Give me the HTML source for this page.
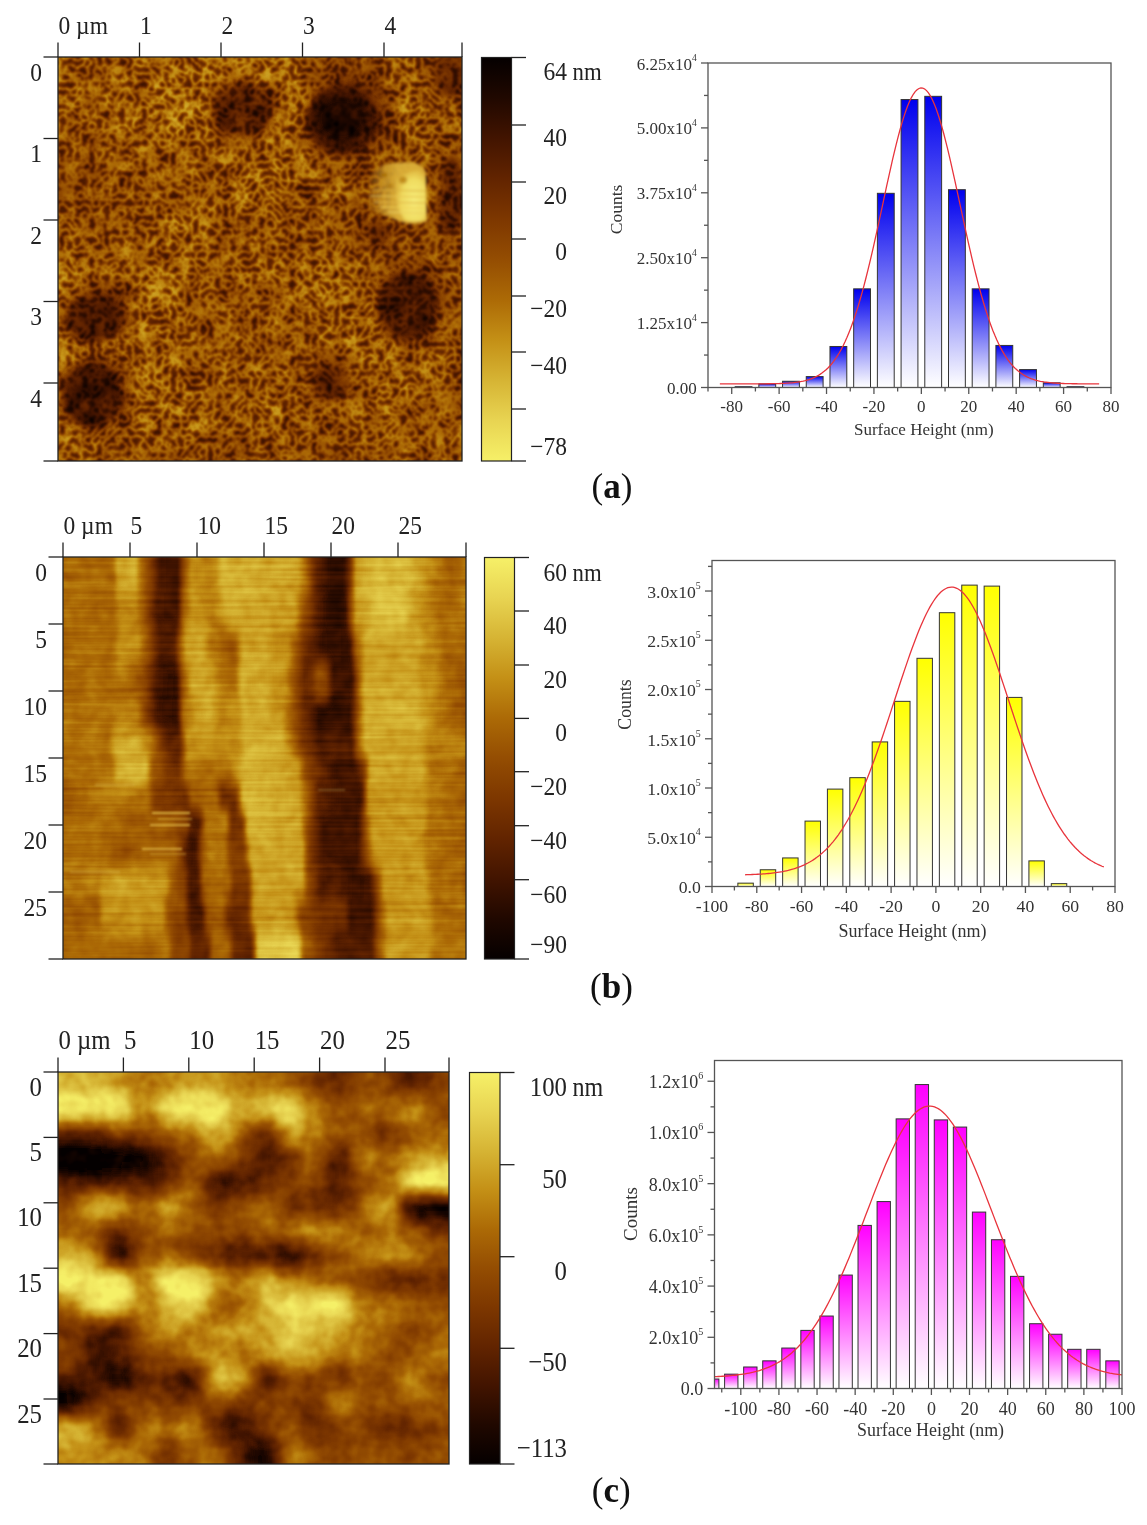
<!DOCTYPE html>
<html><head><meta charset="utf-8"><style>
html,body{margin:0;padding:0;background:#fff;}
body{width:1147px;height:1525px;overflow:hidden;}
svg{display:block;font-family:'Liberation Serif', serif;filter:blur(0.35px);}
</style></head><body>
<svg width="1147" height="1525" viewBox="0 0 1147 1525">
<defs><filter id="fA" filterUnits="userSpaceOnUse" x="56" y="55" width="408" height="408" color-interpolation-filters="sRGB">
<feTurbulence type="turbulence" baseFrequency="0.135" numOctaves="2" seed="5" result="t0"/>
<feColorMatrix in="t0" type="matrix" values="-3.2 0 0 0 1.45  -3.2 0 0 0 1.45  -3.2 0 0 0 1.45  0 0 0 0 1" result="n0a"/>
<feGaussianBlur in="n0a" stdDeviation="1.1" result="n0"/>
<feComposite in="SourceGraphic" in2="n0" operator="arithmetic" k1="0.62" k2="0.38" k3="0" k4="0" result="m0"/>
<feTurbulence type="fractalNoise" baseFrequency="0.06" numOctaves="2" seed="9" result="t1"/>
<feColorMatrix in="t1" type="matrix" values="1.6 0 0 0 -0.30000000000000004  1.6 0 0 0 -0.30000000000000004  1.6 0 0 0 -0.30000000000000004  0 0 0 0 1" result="n1a"/>
<feGaussianBlur in="n1a" stdDeviation="1" result="n1"/>
<feComposite in="m0" in2="n1" operator="arithmetic" k1="0" k2="1" k3="0.18" k4="-0.09" result="m1"/>
<feComponentTransfer in="m1" result="p">
<feFuncR type="table" tableValues="0.0196 0.1255 0.2588 0.3843 0.4902 0.5804 0.6745 0.7686 0.8392 0.9098 0.9647"/>
<feFuncG type="table" tableValues="0.0000 0.0314 0.0784 0.1412 0.2157 0.3020 0.4157 0.5647 0.7059 0.8314 0.9412"/>
<feFuncB type="table" tableValues="0.0000 0.0000 0.0000 0.0000 0.0000 0.0078 0.0235 0.0863 0.2039 0.3216 0.4078"/>
</feComponentTransfer>
<feGaussianBlur in="p" stdDeviation="0.7"/>
</filter><linearGradient id="fAr0" gradientUnits="userSpaceOnUse" x1="58" y1="0" x2="462" y2="0"><stop offset="0.0312" stop-color="#ababab"/><stop offset="0.0938" stop-color="#9e9e9e"/><stop offset="0.1562" stop-color="#ababab"/><stop offset="0.2188" stop-color="#ababab"/><stop offset="0.2812" stop-color="#ababab"/><stop offset="0.3438" stop-color="#b8b8b8"/><stop offset="0.4062" stop-color="#ababab"/><stop offset="0.4688" stop-color="#ababab"/><stop offset="0.5312" stop-color="#b8b8b8"/><stop offset="0.5938" stop-color="#ababab"/><stop offset="0.6562" stop-color="#919191"/><stop offset="0.7188" stop-color="#858585"/><stop offset="0.7812" stop-color="#919191"/><stop offset="0.8438" stop-color="#ababab"/><stop offset="0.9062" stop-color="#9e9e9e"/><stop offset="0.9688" stop-color="#6b6b6b"/></linearGradient><linearGradient id="fAr1" gradientUnits="userSpaceOnUse" x1="58" y1="0" x2="462" y2="0"><stop offset="0.0312" stop-color="#ababab"/><stop offset="0.0938" stop-color="#9e9e9e"/><stop offset="0.1562" stop-color="#ababab"/><stop offset="0.2188" stop-color="#ababab"/><stop offset="0.2812" stop-color="#b8b8b8"/><stop offset="0.3438" stop-color="#c4c4c4"/><stop offset="0.4062" stop-color="#858585"/><stop offset="0.4688" stop-color="#808080"/><stop offset="0.5312" stop-color="#919191"/><stop offset="0.5938" stop-color="#c4c4c4"/><stop offset="0.6562" stop-color="#5e5e5e"/><stop offset="0.7188" stop-color="#454545"/><stop offset="0.7812" stop-color="#5e5e5e"/><stop offset="0.8438" stop-color="#ababab"/><stop offset="0.9062" stop-color="#ababab"/><stop offset="0.9688" stop-color="#919191"/></linearGradient><linearGradient id="fAr2" gradientUnits="userSpaceOnUse" x1="58" y1="0" x2="462" y2="0"><stop offset="0.0312" stop-color="#9e9e9e"/><stop offset="0.0938" stop-color="#9e9e9e"/><stop offset="0.1562" stop-color="#ababab"/><stop offset="0.2188" stop-color="#ababab"/><stop offset="0.2812" stop-color="#b8b8b8"/><stop offset="0.3438" stop-color="#c4c4c4"/><stop offset="0.4062" stop-color="#8a8a8a"/><stop offset="0.4688" stop-color="#8a8a8a"/><stop offset="0.5312" stop-color="#9e9e9e"/><stop offset="0.5938" stop-color="#bdbdbd"/><stop offset="0.6562" stop-color="#525252"/><stop offset="0.7188" stop-color="#3d3d3d"/><stop offset="0.7812" stop-color="#575757"/><stop offset="0.8438" stop-color="#ababab"/><stop offset="0.9062" stop-color="#ababab"/><stop offset="0.9688" stop-color="#9e9e9e"/></linearGradient><linearGradient id="fAr3" gradientUnits="userSpaceOnUse" x1="58" y1="0" x2="462" y2="0"><stop offset="0.0312" stop-color="#9e9e9e"/><stop offset="0.0938" stop-color="#9e9e9e"/><stop offset="0.1562" stop-color="#ababab"/><stop offset="0.2188" stop-color="#9e9e9e"/><stop offset="0.2812" stop-color="#ababab"/><stop offset="0.3438" stop-color="#ababab"/><stop offset="0.4062" stop-color="#9e9e9e"/><stop offset="0.4688" stop-color="#9e9e9e"/><stop offset="0.5312" stop-color="#ababab"/><stop offset="0.5938" stop-color="#ababab"/><stop offset="0.6562" stop-color="#787878"/><stop offset="0.7188" stop-color="#6b6b6b"/><stop offset="0.7812" stop-color="#858585"/><stop offset="0.8438" stop-color="#9e9e9e"/><stop offset="0.9062" stop-color="#ababab"/><stop offset="0.9688" stop-color="#9e9e9e"/></linearGradient><linearGradient id="fAr4" gradientUnits="userSpaceOnUse" x1="58" y1="0" x2="462" y2="0"><stop offset="0.0312" stop-color="#919191"/><stop offset="0.0938" stop-color="#919191"/><stop offset="0.1562" stop-color="#9e9e9e"/><stop offset="0.2188" stop-color="#9e9e9e"/><stop offset="0.2812" stop-color="#9e9e9e"/><stop offset="0.3438" stop-color="#9e9e9e"/><stop offset="0.4062" stop-color="#9e9e9e"/><stop offset="0.4688" stop-color="#ababab"/><stop offset="0.5312" stop-color="#b8b8b8"/><stop offset="0.5938" stop-color="#ababab"/><stop offset="0.6562" stop-color="#9e9e9e"/><stop offset="0.7188" stop-color="#9e9e9e"/><stop offset="0.7812" stop-color="#919191"/><stop offset="0.8438" stop-color="#999999"/><stop offset="0.9062" stop-color="#919191"/><stop offset="0.9688" stop-color="#858585"/></linearGradient><linearGradient id="fAr5" gradientUnits="userSpaceOnUse" x1="58" y1="0" x2="462" y2="0"><stop offset="0.0312" stop-color="#919191"/><stop offset="0.0938" stop-color="#919191"/><stop offset="0.1562" stop-color="#9e9e9e"/><stop offset="0.2188" stop-color="#9e9e9e"/><stop offset="0.2812" stop-color="#9e9e9e"/><stop offset="0.3438" stop-color="#9e9e9e"/><stop offset="0.4062" stop-color="#ababab"/><stop offset="0.4688" stop-color="#b8b8b8"/><stop offset="0.5312" stop-color="#ababab"/><stop offset="0.5938" stop-color="#9e9e9e"/><stop offset="0.6562" stop-color="#9e9e9e"/><stop offset="0.7188" stop-color="#9e9e9e"/><stop offset="0.7812" stop-color="#9e9e9e"/><stop offset="0.8438" stop-color="#9e9e9e"/><stop offset="0.9062" stop-color="#9e9e9e"/><stop offset="0.9688" stop-color="#8a8a8a"/></linearGradient><linearGradient id="fAr6" gradientUnits="userSpaceOnUse" x1="58" y1="0" x2="462" y2="0"><stop offset="0.0312" stop-color="#9e9e9e"/><stop offset="0.0938" stop-color="#919191"/><stop offset="0.1562" stop-color="#9e9e9e"/><stop offset="0.2188" stop-color="#9e9e9e"/><stop offset="0.2812" stop-color="#ababab"/><stop offset="0.3438" stop-color="#b8b8b8"/><stop offset="0.4062" stop-color="#919191"/><stop offset="0.4688" stop-color="#9e9e9e"/><stop offset="0.5312" stop-color="#9e9e9e"/><stop offset="0.5938" stop-color="#9e9e9e"/><stop offset="0.6562" stop-color="#919191"/><stop offset="0.7188" stop-color="#9e9e9e"/><stop offset="0.7812" stop-color="#858585"/><stop offset="0.8438" stop-color="#919191"/><stop offset="0.9062" stop-color="#9e9e9e"/><stop offset="0.9688" stop-color="#8a8a8a"/></linearGradient><linearGradient id="fAr7" gradientUnits="userSpaceOnUse" x1="58" y1="0" x2="462" y2="0"><stop offset="0.0312" stop-color="#ababab"/><stop offset="0.0938" stop-color="#9e9e9e"/><stop offset="0.1562" stop-color="#9e9e9e"/><stop offset="0.2188" stop-color="#ababab"/><stop offset="0.2812" stop-color="#ababab"/><stop offset="0.3438" stop-color="#ababab"/><stop offset="0.4062" stop-color="#9e9e9e"/><stop offset="0.4688" stop-color="#9e9e9e"/><stop offset="0.5312" stop-color="#9e9e9e"/><stop offset="0.5938" stop-color="#9e9e9e"/><stop offset="0.6562" stop-color="#9e9e9e"/><stop offset="0.7188" stop-color="#9e9e9e"/><stop offset="0.7812" stop-color="#858585"/><stop offset="0.8438" stop-color="#919191"/><stop offset="0.9062" stop-color="#9e9e9e"/><stop offset="0.9688" stop-color="#919191"/></linearGradient><linearGradient id="fAr8" gradientUnits="userSpaceOnUse" x1="58" y1="0" x2="462" y2="0"><stop offset="0.0312" stop-color="#b8b8b8"/><stop offset="0.0938" stop-color="#9e9e9e"/><stop offset="0.1562" stop-color="#9e9e9e"/><stop offset="0.2188" stop-color="#b8b8b8"/><stop offset="0.2812" stop-color="#ababab"/><stop offset="0.3438" stop-color="#ababab"/><stop offset="0.4062" stop-color="#9e9e9e"/><stop offset="0.4688" stop-color="#ababab"/><stop offset="0.5312" stop-color="#ababab"/><stop offset="0.5938" stop-color="#ababab"/><stop offset="0.6562" stop-color="#b8b8b8"/><stop offset="0.7188" stop-color="#ababab"/><stop offset="0.7812" stop-color="#9e9e9e"/><stop offset="0.8438" stop-color="#858585"/><stop offset="0.9062" stop-color="#787878"/><stop offset="0.9688" stop-color="#9e9e9e"/></linearGradient><linearGradient id="fAr9" gradientUnits="userSpaceOnUse" x1="58" y1="0" x2="462" y2="0"><stop offset="0.0312" stop-color="#ababab"/><stop offset="0.0938" stop-color="#6b6b6b"/><stop offset="0.1562" stop-color="#787878"/><stop offset="0.2188" stop-color="#b8b8b8"/><stop offset="0.2812" stop-color="#b8b8b8"/><stop offset="0.3438" stop-color="#919191"/><stop offset="0.4062" stop-color="#9e9e9e"/><stop offset="0.4688" stop-color="#9e9e9e"/><stop offset="0.5312" stop-color="#919191"/><stop offset="0.5938" stop-color="#ababab"/><stop offset="0.6562" stop-color="#ababab"/><stop offset="0.7188" stop-color="#ababab"/><stop offset="0.7812" stop-color="#ababab"/><stop offset="0.8438" stop-color="#6b6b6b"/><stop offset="0.9062" stop-color="#5e5e5e"/><stop offset="0.9688" stop-color="#919191"/></linearGradient><linearGradient id="fAr10" gradientUnits="userSpaceOnUse" x1="58" y1="0" x2="462" y2="0"><stop offset="0.0312" stop-color="#9e9e9e"/><stop offset="0.0938" stop-color="#6b6b6b"/><stop offset="0.1562" stop-color="#858585"/><stop offset="0.2188" stop-color="#b8b8b8"/><stop offset="0.2812" stop-color="#ababab"/><stop offset="0.3438" stop-color="#9e9e9e"/><stop offset="0.4062" stop-color="#9e9e9e"/><stop offset="0.4688" stop-color="#9e9e9e"/><stop offset="0.5312" stop-color="#9e9e9e"/><stop offset="0.5938" stop-color="#9e9e9e"/><stop offset="0.6562" stop-color="#ababab"/><stop offset="0.7188" stop-color="#ababab"/><stop offset="0.7812" stop-color="#ababab"/><stop offset="0.8438" stop-color="#787878"/><stop offset="0.9062" stop-color="#6b6b6b"/><stop offset="0.9688" stop-color="#9e9e9e"/></linearGradient><linearGradient id="fAr11" gradientUnits="userSpaceOnUse" x1="58" y1="0" x2="462" y2="0"><stop offset="0.0312" stop-color="#b8b8b8"/><stop offset="0.0938" stop-color="#9e9e9e"/><stop offset="0.1562" stop-color="#ababab"/><stop offset="0.2188" stop-color="#ababab"/><stop offset="0.2812" stop-color="#ababab"/><stop offset="0.3438" stop-color="#9e9e9e"/><stop offset="0.4062" stop-color="#9e9e9e"/><stop offset="0.4688" stop-color="#9e9e9e"/><stop offset="0.5312" stop-color="#919191"/><stop offset="0.5938" stop-color="#9e9e9e"/><stop offset="0.6562" stop-color="#9e9e9e"/><stop offset="0.7188" stop-color="#ababab"/><stop offset="0.7812" stop-color="#ababab"/><stop offset="0.8438" stop-color="#9e9e9e"/><stop offset="0.9062" stop-color="#919191"/><stop offset="0.9688" stop-color="#ababab"/></linearGradient><linearGradient id="fAr12" gradientUnits="userSpaceOnUse" x1="58" y1="0" x2="462" y2="0"><stop offset="0.0312" stop-color="#9e9e9e"/><stop offset="0.0938" stop-color="#6b6b6b"/><stop offset="0.1562" stop-color="#858585"/><stop offset="0.2188" stop-color="#b8b8b8"/><stop offset="0.2812" stop-color="#ababab"/><stop offset="0.3438" stop-color="#9e9e9e"/><stop offset="0.4062" stop-color="#9e9e9e"/><stop offset="0.4688" stop-color="#ababab"/><stop offset="0.5312" stop-color="#ababab"/><stop offset="0.5938" stop-color="#9e9e9e"/><stop offset="0.6562" stop-color="#787878"/><stop offset="0.7188" stop-color="#919191"/><stop offset="0.7812" stop-color="#ababab"/><stop offset="0.8438" stop-color="#ababab"/><stop offset="0.9062" stop-color="#ababab"/><stop offset="0.9688" stop-color="#9e9e9e"/></linearGradient><linearGradient id="fAr13" gradientUnits="userSpaceOnUse" x1="58" y1="0" x2="462" y2="0"><stop offset="0.0312" stop-color="#919191"/><stop offset="0.0938" stop-color="#525252"/><stop offset="0.1562" stop-color="#6b6b6b"/><stop offset="0.2188" stop-color="#b8b8b8"/><stop offset="0.2812" stop-color="#ababab"/><stop offset="0.3438" stop-color="#ababab"/><stop offset="0.4062" stop-color="#9e9e9e"/><stop offset="0.4688" stop-color="#ababab"/><stop offset="0.5312" stop-color="#ababab"/><stop offset="0.5938" stop-color="#9e9e9e"/><stop offset="0.6562" stop-color="#919191"/><stop offset="0.7188" stop-color="#9e9e9e"/><stop offset="0.7812" stop-color="#ababab"/><stop offset="0.8438" stop-color="#ababab"/><stop offset="0.9062" stop-color="#9e9e9e"/><stop offset="0.9688" stop-color="#9e9e9e"/></linearGradient><linearGradient id="fAr14" gradientUnits="userSpaceOnUse" x1="58" y1="0" x2="462" y2="0"><stop offset="0.0312" stop-color="#ababab"/><stop offset="0.0938" stop-color="#919191"/><stop offset="0.1562" stop-color="#9e9e9e"/><stop offset="0.2188" stop-color="#ababab"/><stop offset="0.2812" stop-color="#ababab"/><stop offset="0.3438" stop-color="#ababab"/><stop offset="0.4062" stop-color="#9e9e9e"/><stop offset="0.4688" stop-color="#9e9e9e"/><stop offset="0.5312" stop-color="#ababab"/><stop offset="0.5938" stop-color="#ababab"/><stop offset="0.6562" stop-color="#9e9e9e"/><stop offset="0.7188" stop-color="#9e9e9e"/><stop offset="0.7812" stop-color="#ababab"/><stop offset="0.8438" stop-color="#9e9e9e"/><stop offset="0.9062" stop-color="#9e9e9e"/><stop offset="0.9688" stop-color="#9e9e9e"/></linearGradient><linearGradient id="fAr15" gradientUnits="userSpaceOnUse" x1="58" y1="0" x2="462" y2="0"><stop offset="0.0312" stop-color="#ababab"/><stop offset="0.0938" stop-color="#9e9e9e"/><stop offset="0.1562" stop-color="#9e9e9e"/><stop offset="0.2188" stop-color="#9e9e9e"/><stop offset="0.2812" stop-color="#9e9e9e"/><stop offset="0.3438" stop-color="#9e9e9e"/><stop offset="0.4062" stop-color="#919191"/><stop offset="0.4688" stop-color="#919191"/><stop offset="0.5312" stop-color="#9e9e9e"/><stop offset="0.5938" stop-color="#9e9e9e"/><stop offset="0.6562" stop-color="#919191"/><stop offset="0.7188" stop-color="#919191"/><stop offset="0.7812" stop-color="#9e9e9e"/><stop offset="0.8438" stop-color="#9e9e9e"/><stop offset="0.9062" stop-color="#9e9e9e"/><stop offset="0.9688" stop-color="#9e9e9e"/></linearGradient><clipPath id="fAc"><rect x="58" y="57" width="404" height="404"/></clipPath><filter id="fAL0" filterUnits="userSpaceOnUse" x="-2" y="-3" width="524" height="524"><feGaussianBlur stdDeviation="9"/></filter><filter id="fAL1" filterUnits="userSpaceOnUse" x="-2" y="-3" width="524" height="524"><feGaussianBlur stdDeviation="3.5"/></filter><filter id="bpAf" x="-20%" y="-20%" width="140%" height="140%"><feGaussianBlur stdDeviation="1.7"/></filter><radialGradient id="bpAc" cx="0.6" cy="0.6" r="0.6"><stop offset="0" stop-color="#f8f07c"/><stop offset="0.7" stop-color="#f0dc60"/><stop offset="1" stop-color="#e6c448" stop-opacity="0.6"/></radialGradient><linearGradient id="bpAg" gradientUnits="userSpaceOnUse" x1="366" y1="0" x2="398" y2="0"><stop offset="0" stop-color="#c89420" stop-opacity="0"/><stop offset="0.6" stop-color="#d4a630" stop-opacity="0.75"/><stop offset="1" stop-color="#dcb038" stop-opacity="0.95"/></linearGradient><filter id="fB" filterUnits="userSpaceOnUse" x="61" y="555" width="407" height="406" color-interpolation-filters="sRGB">
<feTurbulence type="fractalNoise" baseFrequency="0.006 0.25" numOctaves="2" seed="11" result="t0"/>
<feColorMatrix in="t0" type="matrix" values="1.5 0 0 0 -0.25  1.5 0 0 0 -0.25  1.5 0 0 0 -0.25  0 0 0 0 1" result="n0a"/>
<feGaussianBlur in="n0a" stdDeviation="0.6" result="n0"/>
<feComposite in="SourceGraphic" in2="n0" operator="arithmetic" k1="0" k2="1" k3="0.1" k4="-0.05" result="m0"/>
<feTurbulence type="fractalNoise" baseFrequency="0.07" numOctaves="2" seed="4" result="t1"/>
<feColorMatrix in="t1" type="matrix" values="1.5 0 0 0 -0.25  1.5 0 0 0 -0.25  1.5 0 0 0 -0.25  0 0 0 0 1" result="n1a"/>
<feGaussianBlur in="n1a" stdDeviation="0.8" result="n1"/>
<feComposite in="m0" in2="n1" operator="arithmetic" k1="0" k2="1" k3="0.1" k4="-0.05" result="m1"/>
<feComponentTransfer in="m1" result="p">
<feFuncR type="table" tableValues="0.0196 0.1255 0.2588 0.3843 0.4902 0.5804 0.6745 0.7686 0.8392 0.9098 0.9647"/>
<feFuncG type="table" tableValues="0.0000 0.0314 0.0784 0.1412 0.2157 0.3020 0.4157 0.5647 0.7059 0.8314 0.9412"/>
<feFuncB type="table" tableValues="0.0000 0.0000 0.0000 0.0000 0.0000 0.0078 0.0235 0.0863 0.2039 0.3216 0.4078"/>
</feComponentTransfer>
<feGaussianBlur in="p" stdDeviation="0.5"/>
</filter><linearGradient id="fBr0" gradientUnits="userSpaceOnUse" x1="63" y1="0" x2="466" y2="0"><stop offset="0.0000" stop-color="#999999"/><stop offset="0.1266" stop-color="#999999"/><stop offset="0.1365" stop-color="#bfbfbf"/><stop offset="0.1787" stop-color="#c7c7c7"/><stop offset="0.1911" stop-color="#9e9e9e"/><stop offset="0.2159" stop-color="#737373"/><stop offset="0.2407" stop-color="#383838"/><stop offset="0.2854" stop-color="#333333"/><stop offset="0.3002" stop-color="#808080"/><stop offset="0.3201" stop-color="#b8b8b8"/><stop offset="0.3524" stop-color="#a6a6a6"/><stop offset="0.3797" stop-color="#b2b2b2"/><stop offset="0.3945" stop-color="#cccccc"/><stop offset="0.4938" stop-color="#c7c7c7"/><stop offset="0.5831" stop-color="#bfbfbf"/><stop offset="0.6030" stop-color="#999999"/><stop offset="0.6228" stop-color="#595959"/><stop offset="0.6625" stop-color="#262626"/><stop offset="0.6973" stop-color="#262626"/><stop offset="0.7122" stop-color="#595959"/><stop offset="0.7270" stop-color="#b8b8b8"/><stop offset="0.7816" stop-color="#cccccc"/><stop offset="0.8561" stop-color="#cccccc"/><stop offset="0.8859" stop-color="#b8b8b8"/><stop offset="0.9355" stop-color="#999999"/><stop offset="0.9653" stop-color="#8c8c8c"/><stop offset="1.0000" stop-color="#999999"/></linearGradient><linearGradient id="fBr1" gradientUnits="userSpaceOnUse" x1="63" y1="0" x2="466" y2="0"><stop offset="0.0000" stop-color="#999999"/><stop offset="0.0868" stop-color="#949494"/><stop offset="0.1216" stop-color="#8c8c8c"/><stop offset="0.1414" stop-color="#a8a8a8"/><stop offset="0.1811" stop-color="#a8a8a8"/><stop offset="0.2035" stop-color="#808080"/><stop offset="0.2333" stop-color="#383838"/><stop offset="0.2854" stop-color="#333333"/><stop offset="0.2978" stop-color="#8c8c8c"/><stop offset="0.3201" stop-color="#b8b8b8"/><stop offset="0.3499" stop-color="#adadad"/><stop offset="0.3747" stop-color="#a6a6a6"/><stop offset="0.4045" stop-color="#c7c7c7"/><stop offset="0.4938" stop-color="#bfbfbf"/><stop offset="0.5757" stop-color="#b8b8b8"/><stop offset="0.5931" stop-color="#8c8c8c"/><stop offset="0.6278" stop-color="#4c4c4c"/><stop offset="0.6526" stop-color="#262626"/><stop offset="0.7022" stop-color="#262626"/><stop offset="0.7122" stop-color="#737373"/><stop offset="0.7270" stop-color="#bfbfbf"/><stop offset="0.7866" stop-color="#d9d9d9"/><stop offset="0.8462" stop-color="#d9d9d9"/><stop offset="0.8734" stop-color="#b8b8b8"/><stop offset="0.9107" stop-color="#a6a6a6"/><stop offset="0.9355" stop-color="#949494"/><stop offset="0.9727" stop-color="#999999"/><stop offset="1.0000" stop-color="#a6a6a6"/></linearGradient><linearGradient id="fBr2" gradientUnits="userSpaceOnUse" x1="63" y1="0" x2="466" y2="0"><stop offset="0.0000" stop-color="#999999"/><stop offset="0.1266" stop-color="#999999"/><stop offset="0.1414" stop-color="#b2b2b2"/><stop offset="0.1861" stop-color="#b2b2b2"/><stop offset="0.2109" stop-color="#808080"/><stop offset="0.2407" stop-color="#404040"/><stop offset="0.2779" stop-color="#404040"/><stop offset="0.2903" stop-color="#808080"/><stop offset="0.3077" stop-color="#c7c7c7"/><stop offset="0.3400" stop-color="#c7c7c7"/><stop offset="0.3648" stop-color="#a6a6a6"/><stop offset="0.3945" stop-color="#8c8c8c"/><stop offset="0.4268" stop-color="#8c8c8c"/><stop offset="0.4491" stop-color="#c7c7c7"/><stop offset="0.5583" stop-color="#b2b2b2"/><stop offset="0.5782" stop-color="#8c8c8c"/><stop offset="0.6005" stop-color="#595959"/><stop offset="0.6427" stop-color="#2e2e2e"/><stop offset="0.7122" stop-color="#262626"/><stop offset="0.7270" stop-color="#8c8c8c"/><stop offset="0.7519" stop-color="#bfbfbf"/><stop offset="0.8809" stop-color="#bfbfbf"/><stop offset="0.9057" stop-color="#adadad"/><stop offset="0.9479" stop-color="#999999"/><stop offset="1.0000" stop-color="#999999"/></linearGradient><linearGradient id="fBr3" gradientUnits="userSpaceOnUse" x1="63" y1="0" x2="466" y2="0"><stop offset="0.0000" stop-color="#949494"/><stop offset="0.1266" stop-color="#999999"/><stop offset="0.1464" stop-color="#9e9e9e"/><stop offset="0.1762" stop-color="#8c8c8c"/><stop offset="0.2035" stop-color="#737373"/><stop offset="0.2357" stop-color="#333333"/><stop offset="0.2829" stop-color="#262626"/><stop offset="0.2953" stop-color="#808080"/><stop offset="0.3201" stop-color="#bfbfbf"/><stop offset="0.3697" stop-color="#bfbfbf"/><stop offset="0.3945" stop-color="#999999"/><stop offset="0.4293" stop-color="#999999"/><stop offset="0.4442" stop-color="#cccccc"/><stop offset="0.5509" stop-color="#b2b2b2"/><stop offset="0.5757" stop-color="#808080"/><stop offset="0.6005" stop-color="#4c4c4c"/><stop offset="0.6154" stop-color="#595959"/><stop offset="0.6328" stop-color="#808080"/><stop offset="0.6526" stop-color="#737373"/><stop offset="0.6700" stop-color="#333333"/><stop offset="0.7171" stop-color="#333333"/><stop offset="0.7320" stop-color="#808080"/><stop offset="0.7494" stop-color="#bfbfbf"/><stop offset="0.8809" stop-color="#bfbfbf"/><stop offset="0.9057" stop-color="#b2b2b2"/><stop offset="0.9479" stop-color="#999999"/><stop offset="1.0000" stop-color="#808080"/></linearGradient><linearGradient id="fBr4" gradientUnits="userSpaceOnUse" x1="63" y1="0" x2="466" y2="0"><stop offset="0.0000" stop-color="#999999"/><stop offset="0.1266" stop-color="#9e9e9e"/><stop offset="0.1464" stop-color="#a6a6a6"/><stop offset="0.1861" stop-color="#9e9e9e"/><stop offset="0.2035" stop-color="#737373"/><stop offset="0.2357" stop-color="#2e2e2e"/><stop offset="0.2854" stop-color="#262626"/><stop offset="0.2978" stop-color="#999999"/><stop offset="0.3300" stop-color="#bfbfbf"/><stop offset="0.3648" stop-color="#c7c7c7"/><stop offset="0.3896" stop-color="#b2b2b2"/><stop offset="0.4342" stop-color="#b8b8b8"/><stop offset="0.4516" stop-color="#cccccc"/><stop offset="0.5434" stop-color="#b8b8b8"/><stop offset="0.5682" stop-color="#8c8c8c"/><stop offset="0.5931" stop-color="#666666"/><stop offset="0.6328" stop-color="#262626"/><stop offset="0.7122" stop-color="#262626"/><stop offset="0.7320" stop-color="#808080"/><stop offset="0.7519" stop-color="#c7c7c7"/><stop offset="0.8809" stop-color="#c7c7c7"/><stop offset="0.9057" stop-color="#b2b2b2"/><stop offset="0.9479" stop-color="#999999"/><stop offset="1.0000" stop-color="#808080"/></linearGradient><linearGradient id="fBr5" gradientUnits="userSpaceOnUse" x1="63" y1="0" x2="466" y2="0"><stop offset="0.0000" stop-color="#999999"/><stop offset="0.1117" stop-color="#999999"/><stop offset="0.1290" stop-color="#b8b8b8"/><stop offset="0.1787" stop-color="#c7c7c7"/><stop offset="0.2159" stop-color="#a6a6a6"/><stop offset="0.2357" stop-color="#808080"/><stop offset="0.2605" stop-color="#4c4c4c"/><stop offset="0.2903" stop-color="#4c4c4c"/><stop offset="0.3077" stop-color="#b2b2b2"/><stop offset="0.4342" stop-color="#b2b2b2"/><stop offset="0.4541" stop-color="#cccccc"/><stop offset="0.5087" stop-color="#cccccc"/><stop offset="0.5459" stop-color="#c7c7c7"/><stop offset="0.5682" stop-color="#999999"/><stop offset="0.5931" stop-color="#666666"/><stop offset="0.6377" stop-color="#404040"/><stop offset="0.7171" stop-color="#404040"/><stop offset="0.7320" stop-color="#8c8c8c"/><stop offset="0.7519" stop-color="#bfbfbf"/><stop offset="0.8809" stop-color="#bfbfbf"/><stop offset="0.9107" stop-color="#a6a6a6"/><stop offset="1.0000" stop-color="#a6a6a6"/></linearGradient><linearGradient id="fBr6" gradientUnits="userSpaceOnUse" x1="63" y1="0" x2="466" y2="0"><stop offset="0.0000" stop-color="#9e9e9e"/><stop offset="0.1216" stop-color="#9e9e9e"/><stop offset="0.1365" stop-color="#d1d1d1"/><stop offset="0.2060" stop-color="#d1d1d1"/><stop offset="0.2208" stop-color="#8c8c8c"/><stop offset="0.2605" stop-color="#666666"/><stop offset="0.2854" stop-color="#595959"/><stop offset="0.3052" stop-color="#999999"/><stop offset="0.4144" stop-color="#999999"/><stop offset="0.4392" stop-color="#bfbfbf"/><stop offset="0.4541" stop-color="#cccccc"/><stop offset="0.4938" stop-color="#c7c7c7"/><stop offset="0.5831" stop-color="#bfbfbf"/><stop offset="0.6005" stop-color="#808080"/><stop offset="0.6427" stop-color="#4c4c4c"/><stop offset="0.6774" stop-color="#333333"/><stop offset="0.7320" stop-color="#333333"/><stop offset="0.7469" stop-color="#595959"/><stop offset="0.7618" stop-color="#bfbfbf"/><stop offset="0.8908" stop-color="#bfbfbf"/><stop offset="0.9107" stop-color="#9e9e9e"/><stop offset="0.9653" stop-color="#999999"/><stop offset="1.0000" stop-color="#8c8c8c"/></linearGradient><linearGradient id="fBr7" gradientUnits="userSpaceOnUse" x1="63" y1="0" x2="466" y2="0"><stop offset="0.0000" stop-color="#808080"/><stop offset="0.0521" stop-color="#8c8c8c"/><stop offset="0.0670" stop-color="#a6a6a6"/><stop offset="0.1514" stop-color="#a6a6a6"/><stop offset="0.1663" stop-color="#999999"/><stop offset="0.2109" stop-color="#999999"/><stop offset="0.2283" stop-color="#666666"/><stop offset="0.2903" stop-color="#616161"/><stop offset="0.3052" stop-color="#4c4c4c"/><stop offset="0.3201" stop-color="#8c8c8c"/><stop offset="0.3797" stop-color="#8c8c8c"/><stop offset="0.3945" stop-color="#4c4c4c"/><stop offset="0.4293" stop-color="#4c4c4c"/><stop offset="0.4467" stop-color="#d1d1d1"/><stop offset="0.5831" stop-color="#bfbfbf"/><stop offset="0.6005" stop-color="#999999"/><stop offset="0.6328" stop-color="#4c4c4c"/><stop offset="0.6923" stop-color="#333333"/><stop offset="0.7419" stop-color="#333333"/><stop offset="0.7568" stop-color="#b8b8b8"/><stop offset="0.8908" stop-color="#b8b8b8"/><stop offset="0.9107" stop-color="#a6a6a6"/><stop offset="0.9653" stop-color="#999999"/><stop offset="1.0000" stop-color="#8c8c8c"/></linearGradient><linearGradient id="fBr8" gradientUnits="userSpaceOnUse" x1="63" y1="0" x2="466" y2="0"><stop offset="0.0000" stop-color="#999999"/><stop offset="0.1365" stop-color="#999999"/><stop offset="0.1538" stop-color="#8c8c8c"/><stop offset="0.2159" stop-color="#8c8c8c"/><stop offset="0.2407" stop-color="#8c8c8c"/><stop offset="0.3052" stop-color="#737373"/><stop offset="0.3176" stop-color="#383838"/><stop offset="0.3375" stop-color="#383838"/><stop offset="0.3548" stop-color="#9e9e9e"/><stop offset="0.4045" stop-color="#a6a6a6"/><stop offset="0.4194" stop-color="#595959"/><stop offset="0.4442" stop-color="#595959"/><stop offset="0.4591" stop-color="#cccccc"/><stop offset="0.5881" stop-color="#bfbfbf"/><stop offset="0.6079" stop-color="#737373"/><stop offset="0.6427" stop-color="#333333"/><stop offset="0.7320" stop-color="#333333"/><stop offset="0.7494" stop-color="#808080"/><stop offset="0.7667" stop-color="#b8b8b8"/><stop offset="0.8908" stop-color="#b8b8b8"/><stop offset="0.9107" stop-color="#999999"/><stop offset="0.9653" stop-color="#999999"/><stop offset="1.0000" stop-color="#8c8c8c"/></linearGradient><linearGradient id="fBr9" gradientUnits="userSpaceOnUse" x1="63" y1="0" x2="466" y2="0"><stop offset="0.0000" stop-color="#999999"/><stop offset="0.1117" stop-color="#999999"/><stop offset="0.1266" stop-color="#808080"/><stop offset="0.1613" stop-color="#808080"/><stop offset="0.1762" stop-color="#8c8c8c"/><stop offset="0.2754" stop-color="#8c8c8c"/><stop offset="0.2953" stop-color="#595959"/><stop offset="0.3102" stop-color="#333333"/><stop offset="0.3300" stop-color="#383838"/><stop offset="0.3449" stop-color="#808080"/><stop offset="0.3648" stop-color="#a6a6a6"/><stop offset="0.3995" stop-color="#9e9e9e"/><stop offset="0.4144" stop-color="#737373"/><stop offset="0.4491" stop-color="#737373"/><stop offset="0.4665" stop-color="#c7c7c7"/><stop offset="0.5931" stop-color="#bfbfbf"/><stop offset="0.6079" stop-color="#737373"/><stop offset="0.6427" stop-color="#333333"/><stop offset="0.7320" stop-color="#333333"/><stop offset="0.7519" stop-color="#808080"/><stop offset="0.7717" stop-color="#b8b8b8"/><stop offset="0.8908" stop-color="#b8b8b8"/><stop offset="0.9107" stop-color="#999999"/><stop offset="0.9653" stop-color="#949494"/><stop offset="1.0000" stop-color="#8c8c8c"/></linearGradient><linearGradient id="fBr10" gradientUnits="userSpaceOnUse" x1="63" y1="0" x2="466" y2="0"><stop offset="0.0000" stop-color="#9e9e9e"/><stop offset="0.0868" stop-color="#9e9e9e"/><stop offset="0.1017" stop-color="#b8b8b8"/><stop offset="0.2556" stop-color="#b8b8b8"/><stop offset="0.2705" stop-color="#8c8c8c"/><stop offset="0.3002" stop-color="#737373"/><stop offset="0.3151" stop-color="#383838"/><stop offset="0.3350" stop-color="#383838"/><stop offset="0.3499" stop-color="#949494"/><stop offset="0.4094" stop-color="#999999"/><stop offset="0.4243" stop-color="#666666"/><stop offset="0.4591" stop-color="#666666"/><stop offset="0.4739" stop-color="#bfbfbf"/><stop offset="0.5931" stop-color="#bfbfbf"/><stop offset="0.6079" stop-color="#808080"/><stop offset="0.6427" stop-color="#404040"/><stop offset="0.6998" stop-color="#383838"/><stop offset="0.7419" stop-color="#2e2e2e"/><stop offset="0.7618" stop-color="#333333"/><stop offset="0.7767" stop-color="#666666"/><stop offset="0.7965" stop-color="#b8b8b8"/><stop offset="0.8958" stop-color="#b8b8b8"/><stop offset="0.9156" stop-color="#999999"/><stop offset="0.9851" stop-color="#999999"/><stop offset="1.0000" stop-color="#8c8c8c"/></linearGradient><linearGradient id="fBr11" gradientUnits="userSpaceOnUse" x1="63" y1="0" x2="466" y2="0"><stop offset="0.0000" stop-color="#8c8c8c"/><stop offset="0.0868" stop-color="#8c8c8c"/><stop offset="0.1017" stop-color="#b2b2b2"/><stop offset="0.2457" stop-color="#b2b2b2"/><stop offset="0.2605" stop-color="#808080"/><stop offset="0.3002" stop-color="#737373"/><stop offset="0.3151" stop-color="#383838"/><stop offset="0.3449" stop-color="#383838"/><stop offset="0.3598" stop-color="#8c8c8c"/><stop offset="0.3945" stop-color="#8c8c8c"/><stop offset="0.4094" stop-color="#595959"/><stop offset="0.4591" stop-color="#595959"/><stop offset="0.4739" stop-color="#b2b2b2"/><stop offset="0.4988" stop-color="#b8b8b8"/><stop offset="0.5682" stop-color="#b2b2b2"/><stop offset="0.5881" stop-color="#737373"/><stop offset="0.6129" stop-color="#666666"/><stop offset="0.6998" stop-color="#595959"/><stop offset="0.7122" stop-color="#333333"/><stop offset="0.7667" stop-color="#333333"/><stop offset="0.7816" stop-color="#737373"/><stop offset="0.8065" stop-color="#b8b8b8"/><stop offset="0.9057" stop-color="#b8b8b8"/><stop offset="0.9256" stop-color="#999999"/><stop offset="1.0000" stop-color="#999999"/></linearGradient><linearGradient id="fBr12" gradientUnits="userSpaceOnUse" x1="63" y1="0" x2="466" y2="0"><stop offset="0.0000" stop-color="#999999"/><stop offset="0.2605" stop-color="#999999"/><stop offset="0.2754" stop-color="#737373"/><stop offset="0.3102" stop-color="#737373"/><stop offset="0.3201" stop-color="#4c4c4c"/><stop offset="0.3598" stop-color="#4c4c4c"/><stop offset="0.3722" stop-color="#8c8c8c"/><stop offset="0.4094" stop-color="#8c8c8c"/><stop offset="0.4243" stop-color="#4c4c4c"/><stop offset="0.4690" stop-color="#4c4c4c"/><stop offset="0.4839" stop-color="#d1d1d1"/><stop offset="0.5831" stop-color="#e0e0e0"/><stop offset="0.5980" stop-color="#8c8c8c"/><stop offset="0.6377" stop-color="#666666"/><stop offset="0.6824" stop-color="#404040"/><stop offset="0.7667" stop-color="#404040"/><stop offset="0.7816" stop-color="#808080"/><stop offset="0.8065" stop-color="#b8b8b8"/><stop offset="0.9057" stop-color="#b8b8b8"/><stop offset="0.9256" stop-color="#9e9e9e"/><stop offset="1.0000" stop-color="#9e9e9e"/></linearGradient><clipPath id="fBc"><rect x="63" y="557" width="403" height="402"/></clipPath><filter id="fBL0" filterUnits="userSpaceOnUse" x="3" y="497" width="523" height="522"><feGaussianBlur stdDeviation="1.5 8"/></filter><filter id="bsBf" x="-20%" y="-50%" width="140%" height="200%"><feGaussianBlur stdDeviation="1.0 0.8"/></filter><filter id="fC" filterUnits="userSpaceOnUse" x="56" y="1070" width="395" height="396" color-interpolation-filters="sRGB">
<feTurbulence type="fractalNoise" baseFrequency="0.08" numOctaves="2" seed="5" result="t0"/>
<feColorMatrix in="t0" type="matrix" values="1.5 0 0 0 -0.25  1.5 0 0 0 -0.25  1.5 0 0 0 -0.25  0 0 0 0 1" result="n0a"/>
<feGaussianBlur in="n0a" stdDeviation="0.8" result="n0"/>
<feComposite in="SourceGraphic" in2="n0" operator="arithmetic" k1="0" k2="1" k3="0.15" k4="-0.075" result="m0"/>
<feComponentTransfer in="m0" result="p">
<feFuncR type="table" tableValues="0.0196 0.1255 0.2588 0.3843 0.4902 0.5804 0.6745 0.7686 0.8392 0.9098 0.9647"/>
<feFuncG type="table" tableValues="0.0000 0.0314 0.0784 0.1412 0.2157 0.3020 0.4157 0.5647 0.7059 0.8314 0.9412"/>
<feFuncB type="table" tableValues="0.0000 0.0000 0.0000 0.0000 0.0000 0.0078 0.0235 0.0863 0.2039 0.3216 0.4078"/>
</feComponentTransfer>
<feGaussianBlur in="p" stdDeviation="0.6"/>
</filter><linearGradient id="fCs0" gradientUnits="userSpaceOnUse" x1="58" y1="0" x2="449" y2="0"><stop offset="0.0156" stop-color="#cccccc"/><stop offset="0.0469" stop-color="#cccccc"/><stop offset="0.0781" stop-color="#cecece"/><stop offset="0.1094" stop-color="#cacaca"/><stop offset="0.1406" stop-color="#c0c0c0"/><stop offset="0.1719" stop-color="#b3b3b3"/><stop offset="0.2031" stop-color="#a4a4a4"/><stop offset="0.2344" stop-color="#9f9f9f"/><stop offset="0.2656" stop-color="#a7a7a7"/><stop offset="0.2969" stop-color="#afafaf"/><stop offset="0.3281" stop-color="#b8b8b8"/><stop offset="0.3594" stop-color="#bcbcbc"/><stop offset="0.3906" stop-color="#bdbdbd"/><stop offset="0.4219" stop-color="#b5b5b5"/><stop offset="0.4531" stop-color="#a3a3a3"/><stop offset="0.4844" stop-color="#9b9b9b"/><stop offset="0.5156" stop-color="#9c9c9c"/><stop offset="0.5469" stop-color="#989898"/><stop offset="0.5781" stop-color="#8e8e8e"/><stop offset="0.6094" stop-color="#828282"/><stop offset="0.6406" stop-color="#747474"/><stop offset="0.6719" stop-color="#626262"/><stop offset="0.7031" stop-color="#4e4e4e"/><stop offset="0.7344" stop-color="#545454"/><stop offset="0.7656" stop-color="#757575"/><stop offset="0.7969" stop-color="#808080"/><stop offset="0.8281" stop-color="#767676"/><stop offset="0.8594" stop-color="#606060"/><stop offset="0.8906" stop-color="#3e3e3e"/><stop offset="0.9219" stop-color="#3f3f3f"/><stop offset="0.9531" stop-color="#626262"/><stop offset="0.9844" stop-color="#727272"/></linearGradient><linearGradient id="fCs1" gradientUnits="userSpaceOnUse" x1="58" y1="0" x2="449" y2="0"><stop offset="0.0156" stop-color="#cfcfcf"/><stop offset="0.0469" stop-color="#d0d0d0"/><stop offset="0.0781" stop-color="#d0d0d0"/><stop offset="0.1094" stop-color="#cdcdcd"/><stop offset="0.1406" stop-color="#c5c5c5"/><stop offset="0.1719" stop-color="#b7b7b7"/><stop offset="0.2031" stop-color="#a4a4a4"/><stop offset="0.2344" stop-color="#a0a0a0"/><stop offset="0.2656" stop-color="#aaaaaa"/><stop offset="0.2969" stop-color="#b4b4b4"/><stop offset="0.3281" stop-color="#bcbcbc"/><stop offset="0.3594" stop-color="#c1c1c1"/><stop offset="0.3906" stop-color="#c2c2c2"/><stop offset="0.4219" stop-color="#b9b9b9"/><stop offset="0.4531" stop-color="#a6a6a6"/><stop offset="0.4844" stop-color="#9e9e9e"/><stop offset="0.5156" stop-color="#a0a0a0"/><stop offset="0.5469" stop-color="#9d9d9d"/><stop offset="0.5781" stop-color="#959595"/><stop offset="0.6094" stop-color="#898989"/><stop offset="0.6406" stop-color="#787878"/><stop offset="0.6719" stop-color="#666666"/><stop offset="0.7031" stop-color="#525252"/><stop offset="0.7344" stop-color="#585858"/><stop offset="0.7656" stop-color="#767676"/><stop offset="0.7969" stop-color="#818181"/><stop offset="0.8281" stop-color="#777777"/><stop offset="0.8594" stop-color="#646464"/><stop offset="0.8906" stop-color="#464646"/><stop offset="0.9219" stop-color="#464646"/><stop offset="0.9531" stop-color="#656565"/><stop offset="0.9844" stop-color="#737373"/></linearGradient><linearGradient id="fCs2" gradientUnits="userSpaceOnUse" x1="58" y1="0" x2="449" y2="0"><stop offset="0.0156" stop-color="#e4e4e4"/><stop offset="0.0469" stop-color="#e3e3e3"/><stop offset="0.0781" stop-color="#e0e0e0"/><stop offset="0.1094" stop-color="#dedede"/><stop offset="0.1406" stop-color="#dddddd"/><stop offset="0.1719" stop-color="#cbcbcb"/><stop offset="0.2031" stop-color="#a9a9a9"/><stop offset="0.2344" stop-color="#a4a4a4"/><stop offset="0.2656" stop-color="#bcbcbc"/><stop offset="0.2969" stop-color="#cccccc"/><stop offset="0.3281" stop-color="#d3d3d3"/><stop offset="0.3594" stop-color="#d7d7d7"/><stop offset="0.3906" stop-color="#d8d8d8"/><stop offset="0.4219" stop-color="#cbcbcb"/><stop offset="0.4531" stop-color="#b2b2b2"/><stop offset="0.4844" stop-color="#aaaaaa"/><stop offset="0.5156" stop-color="#b3b3b3"/><stop offset="0.5469" stop-color="#b6b6b6"/><stop offset="0.5781" stop-color="#b3b3b3"/><stop offset="0.6094" stop-color="#a4a4a4"/><stop offset="0.6406" stop-color="#898989"/><stop offset="0.6719" stop-color="#737373"/><stop offset="0.7031" stop-color="#606060"/><stop offset="0.7344" stop-color="#646464"/><stop offset="0.7656" stop-color="#7d7d7d"/><stop offset="0.7969" stop-color="#868686"/><stop offset="0.8281" stop-color="#7f7f7f"/><stop offset="0.8594" stop-color="#757575"/><stop offset="0.8906" stop-color="#666666"/><stop offset="0.9219" stop-color="#646464"/><stop offset="0.9531" stop-color="#707070"/><stop offset="0.9844" stop-color="#757575"/></linearGradient><linearGradient id="fCs3" gradientUnits="userSpaceOnUse" x1="58" y1="0" x2="449" y2="0"><stop offset="0.0156" stop-color="#ffffff"/><stop offset="0.0469" stop-color="#fbfbfb"/><stop offset="0.0781" stop-color="#f4f4f4"/><stop offset="0.1094" stop-color="#f4f4f4"/><stop offset="0.1406" stop-color="#fbfbfb"/><stop offset="0.1719" stop-color="#e5e5e5"/><stop offset="0.2031" stop-color="#b0b0b0"/><stop offset="0.2344" stop-color="#aaaaaa"/><stop offset="0.2656" stop-color="#d3d3d3"/><stop offset="0.2969" stop-color="#ebebeb"/><stop offset="0.3281" stop-color="#f2f2f2"/><stop offset="0.3594" stop-color="#f5f5f5"/><stop offset="0.3906" stop-color="#f5f5f5"/><stop offset="0.4219" stop-color="#e4e4e4"/><stop offset="0.4531" stop-color="#c3c3c3"/><stop offset="0.4844" stop-color="#bababa"/><stop offset="0.5156" stop-color="#cbcbcb"/><stop offset="0.5469" stop-color="#d6d6d6"/><stop offset="0.5781" stop-color="#dbdbdb"/><stop offset="0.6094" stop-color="#c9c9c9"/><stop offset="0.6406" stop-color="#a2a2a2"/><stop offset="0.6719" stop-color="#858585"/><stop offset="0.7031" stop-color="#747474"/><stop offset="0.7344" stop-color="#757575"/><stop offset="0.7656" stop-color="#868686"/><stop offset="0.7969" stop-color="#8d8d8d"/><stop offset="0.8281" stop-color="#8a8a8a"/><stop offset="0.8594" stop-color="#8b8b8b"/><stop offset="0.8906" stop-color="#919191"/><stop offset="0.9219" stop-color="#8c8c8c"/><stop offset="0.9531" stop-color="#7e7e7e"/><stop offset="0.9844" stop-color="#787878"/></linearGradient><linearGradient id="fCs4" gradientUnits="userSpaceOnUse" x1="58" y1="0" x2="449" y2="0"><stop offset="0.0156" stop-color="#ffffff"/><stop offset="0.0469" stop-color="#fbfbfb"/><stop offset="0.0781" stop-color="#f1f1f1"/><stop offset="0.1094" stop-color="#f3f3f3"/><stop offset="0.1406" stop-color="#ffffff"/><stop offset="0.1719" stop-color="#ebebeb"/><stop offset="0.2031" stop-color="#aeaeae"/><stop offset="0.2344" stop-color="#a8a8a8"/><stop offset="0.2656" stop-color="#dcdcdc"/><stop offset="0.2969" stop-color="#f8f8f8"/><stop offset="0.3281" stop-color="#fefefe"/><stop offset="0.3594" stop-color="#ffffff"/><stop offset="0.3906" stop-color="#ffffff"/><stop offset="0.4219" stop-color="#f1f1f1"/><stop offset="0.4531" stop-color="#cacaca"/><stop offset="0.4844" stop-color="#bfbfbf"/><stop offset="0.5156" stop-color="#d1d1d1"/><stop offset="0.5469" stop-color="#e1e1e1"/><stop offset="0.5781" stop-color="#f1f1f1"/><stop offset="0.6094" stop-color="#e1e1e1"/><stop offset="0.6406" stop-color="#b2b2b2"/><stop offset="0.6719" stop-color="#939393"/><stop offset="0.7031" stop-color="#838383"/><stop offset="0.7344" stop-color="#808080"/><stop offset="0.7656" stop-color="#8b8b8b"/><stop offset="0.7969" stop-color="#909090"/><stop offset="0.8281" stop-color="#8e8e8e"/><stop offset="0.8594" stop-color="#979797"/><stop offset="0.8906" stop-color="#acacac"/><stop offset="0.9219" stop-color="#a8a8a8"/><stop offset="0.9531" stop-color="#8a8a8a"/><stop offset="0.9844" stop-color="#7c7c7c"/></linearGradient><linearGradient id="fCs5" gradientUnits="userSpaceOnUse" x1="58" y1="0" x2="449" y2="0"><stop offset="0.0156" stop-color="#d3d3d3"/><stop offset="0.0469" stop-color="#cfcfcf"/><stop offset="0.0781" stop-color="#c7c7c7"/><stop offset="0.1094" stop-color="#cbcbcb"/><stop offset="0.1406" stop-color="#dddddd"/><stop offset="0.1719" stop-color="#cfcfcf"/><stop offset="0.2031" stop-color="#9f9f9f"/><stop offset="0.2344" stop-color="#9d9d9d"/><stop offset="0.2656" stop-color="#cacaca"/><stop offset="0.2969" stop-color="#e2e2e2"/><stop offset="0.3281" stop-color="#e6e6e6"/><stop offset="0.3594" stop-color="#eeeeee"/><stop offset="0.3906" stop-color="#fafafa"/><stop offset="0.4219" stop-color="#ebebeb"/><stop offset="0.4531" stop-color="#c3c3c3"/><stop offset="0.4844" stop-color="#afafaf"/><stop offset="0.5156" stop-color="#afafaf"/><stop offset="0.5469" stop-color="#c2c2c2"/><stop offset="0.5781" stop-color="#e6e6e6"/><stop offset="0.6094" stop-color="#e1e1e1"/><stop offset="0.6406" stop-color="#b6b6b6"/><stop offset="0.6719" stop-color="#989898"/><stop offset="0.7031" stop-color="#898989"/><stop offset="0.7344" stop-color="#858585"/><stop offset="0.7656" stop-color="#8a8a8a"/><stop offset="0.7969" stop-color="#888888"/><stop offset="0.8281" stop-color="#818181"/><stop offset="0.8594" stop-color="#8b8b8b"/><stop offset="0.8906" stop-color="#a7a7a7"/><stop offset="0.9219" stop-color="#a8a8a8"/><stop offset="0.9531" stop-color="#8d8d8d"/><stop offset="0.9844" stop-color="#818181"/></linearGradient><linearGradient id="fCs6" gradientUnits="userSpaceOnUse" x1="58" y1="0" x2="449" y2="0"><stop offset="0.0156" stop-color="#8d8d8d"/><stop offset="0.0469" stop-color="#8b8b8b"/><stop offset="0.0781" stop-color="#868686"/><stop offset="0.1094" stop-color="#8e8e8e"/><stop offset="0.1406" stop-color="#a1a1a1"/><stop offset="0.1719" stop-color="#9f9f9f"/><stop offset="0.2031" stop-color="#898989"/><stop offset="0.2344" stop-color="#8c8c8c"/><stop offset="0.2656" stop-color="#a9a9a9"/><stop offset="0.2969" stop-color="#b9b9b9"/><stop offset="0.3281" stop-color="#bcbcbc"/><stop offset="0.3594" stop-color="#cacaca"/><stop offset="0.3906" stop-color="#e2e2e2"/><stop offset="0.4219" stop-color="#dadada"/><stop offset="0.4531" stop-color="#b2b2b2"/><stop offset="0.4844" stop-color="#939393"/><stop offset="0.5156" stop-color="#7b7b7b"/><stop offset="0.5469" stop-color="#8d8d8d"/><stop offset="0.5781" stop-color="#c8c8c8"/><stop offset="0.6094" stop-color="#d4d4d4"/><stop offset="0.6406" stop-color="#b1b1b1"/><stop offset="0.6719" stop-color="#999999"/><stop offset="0.7031" stop-color="#8b8b8b"/><stop offset="0.7344" stop-color="#848484"/><stop offset="0.7656" stop-color="#848484"/><stop offset="0.7969" stop-color="#7c7c7c"/><stop offset="0.8281" stop-color="#6d6d6d"/><stop offset="0.8594" stop-color="#747474"/><stop offset="0.8906" stop-color="#929292"/><stop offset="0.9219" stop-color="#9a9a9a"/><stop offset="0.9531" stop-color="#8d8d8d"/><stop offset="0.9844" stop-color="#868686"/></linearGradient><linearGradient id="fCs7" gradientUnits="userSpaceOnUse" x1="58" y1="0" x2="449" y2="0"><stop offset="0.0156" stop-color="#505050"/><stop offset="0.0469" stop-color="#4f4f4f"/><stop offset="0.0781" stop-color="#4d4d4d"/><stop offset="0.1094" stop-color="#565656"/><stop offset="0.1406" stop-color="#696969"/><stop offset="0.1719" stop-color="#717171"/><stop offset="0.2031" stop-color="#6e6e6e"/><stop offset="0.2344" stop-color="#767676"/><stop offset="0.2656" stop-color="#888888"/><stop offset="0.2969" stop-color="#949494"/><stop offset="0.3281" stop-color="#9a9a9a"/><stop offset="0.3594" stop-color="#acacac"/><stop offset="0.3906" stop-color="#cacaca"/><stop offset="0.4219" stop-color="#c7c7c7"/><stop offset="0.4531" stop-color="#a2a2a2"/><stop offset="0.4844" stop-color="#7b7b7b"/><stop offset="0.5156" stop-color="#535353"/><stop offset="0.5469" stop-color="#636363"/><stop offset="0.5781" stop-color="#a9a9a9"/><stop offset="0.6094" stop-color="#c1c1c1"/><stop offset="0.6406" stop-color="#ababab"/><stop offset="0.6719" stop-color="#979797"/><stop offset="0.7031" stop-color="#858585"/><stop offset="0.7344" stop-color="#7e7e7e"/><stop offset="0.7656" stop-color="#818181"/><stop offset="0.7969" stop-color="#787878"/><stop offset="0.8281" stop-color="#636363"/><stop offset="0.8594" stop-color="#676767"/><stop offset="0.8906" stop-color="#858585"/><stop offset="0.9219" stop-color="#939393"/><stop offset="0.9531" stop-color="#919191"/><stop offset="0.9844" stop-color="#8f8f8f"/></linearGradient><linearGradient id="fCs8" gradientUnits="userSpaceOnUse" x1="58" y1="0" x2="449" y2="0"><stop offset="0.0156" stop-color="#232323"/><stop offset="0.0469" stop-color="#232323"/><stop offset="0.0781" stop-color="#232323"/><stop offset="0.1094" stop-color="#2b2b2b"/><stop offset="0.1406" stop-color="#3b3b3b"/><stop offset="0.1719" stop-color="#454545"/><stop offset="0.2031" stop-color="#4a4a4a"/><stop offset="0.2344" stop-color="#555555"/><stop offset="0.2656" stop-color="#676767"/><stop offset="0.2969" stop-color="#787878"/><stop offset="0.3281" stop-color="#868686"/><stop offset="0.3594" stop-color="#9b9b9b"/><stop offset="0.3906" stop-color="#b8b8b8"/><stop offset="0.4219" stop-color="#b6b6b6"/><stop offset="0.4531" stop-color="#959595"/><stop offset="0.4844" stop-color="#707070"/><stop offset="0.5156" stop-color="#464646"/><stop offset="0.5469" stop-color="#4f4f4f"/><stop offset="0.5781" stop-color="#8a8a8a"/><stop offset="0.6094" stop-color="#a6a6a6"/><stop offset="0.6406" stop-color="#a2a2a2"/><stop offset="0.6719" stop-color="#919191"/><stop offset="0.7031" stop-color="#747474"/><stop offset="0.7344" stop-color="#707070"/><stop offset="0.7656" stop-color="#848484"/><stop offset="0.7969" stop-color="#848484"/><stop offset="0.8281" stop-color="#6e6e6e"/><stop offset="0.8594" stop-color="#707070"/><stop offset="0.8906" stop-color="#8a8a8a"/><stop offset="0.9219" stop-color="#999999"/><stop offset="0.9531" stop-color="#9c9c9c"/><stop offset="0.9844" stop-color="#9d9d9d"/></linearGradient><linearGradient id="fCs9" gradientUnits="userSpaceOnUse" x1="58" y1="0" x2="449" y2="0"><stop offset="0.0156" stop-color="#000000"/><stop offset="0.0469" stop-color="#000000"/><stop offset="0.0781" stop-color="#000000"/><stop offset="0.1094" stop-color="#060606"/><stop offset="0.1406" stop-color="#121212"/><stop offset="0.1719" stop-color="#1b1b1b"/><stop offset="0.2031" stop-color="#212121"/><stop offset="0.2344" stop-color="#303030"/><stop offset="0.2656" stop-color="#474747"/><stop offset="0.2969" stop-color="#5f5f5f"/><stop offset="0.3281" stop-color="#797979"/><stop offset="0.3594" stop-color="#909090"/><stop offset="0.3906" stop-color="#a5a5a5"/><stop offset="0.4219" stop-color="#a2a2a2"/><stop offset="0.4531" stop-color="#898989"/><stop offset="0.4844" stop-color="#6a6a6a"/><stop offset="0.5156" stop-color="#454545"/><stop offset="0.5469" stop-color="#454545"/><stop offset="0.5781" stop-color="#6a6a6a"/><stop offset="0.6094" stop-color="#858585"/><stop offset="0.6406" stop-color="#979797"/><stop offset="0.6719" stop-color="#898989"/><stop offset="0.7031" stop-color="#5c5c5c"/><stop offset="0.7344" stop-color="#5c5c5c"/><stop offset="0.7656" stop-color="#8a8a8a"/><stop offset="0.7969" stop-color="#979797"/><stop offset="0.8281" stop-color="#848484"/><stop offset="0.8594" stop-color="#848484"/><stop offset="0.8906" stop-color="#989898"/><stop offset="0.9219" stop-color="#a5a5a5"/><stop offset="0.9531" stop-color="#ababab"/><stop offset="0.9844" stop-color="#aeaeae"/></linearGradient><linearGradient id="fCs10" gradientUnits="userSpaceOnUse" x1="58" y1="0" x2="449" y2="0"><stop offset="0.0156" stop-color="#000000"/><stop offset="0.0469" stop-color="#000000"/><stop offset="0.0781" stop-color="#000000"/><stop offset="0.1094" stop-color="#000000"/><stop offset="0.1406" stop-color="#000000"/><stop offset="0.1719" stop-color="#030303"/><stop offset="0.2031" stop-color="#0a0a0a"/><stop offset="0.2344" stop-color="#191919"/><stop offset="0.2656" stop-color="#323232"/><stop offset="0.2969" stop-color="#505050"/><stop offset="0.3281" stop-color="#737373"/><stop offset="0.3594" stop-color="#888888"/><stop offset="0.3906" stop-color="#909090"/><stop offset="0.4219" stop-color="#8b8b8b"/><stop offset="0.4531" stop-color="#7a7a7a"/><stop offset="0.4844" stop-color="#636363"/><stop offset="0.5156" stop-color="#464646"/><stop offset="0.5469" stop-color="#424242"/><stop offset="0.5781" stop-color="#555555"/><stop offset="0.6094" stop-color="#6d6d6d"/><stop offset="0.6406" stop-color="#8c8c8c"/><stop offset="0.6719" stop-color="#808080"/><stop offset="0.7031" stop-color="#4a4a4a"/><stop offset="0.7344" stop-color="#4e4e4e"/><stop offset="0.7656" stop-color="#8b8b8b"/><stop offset="0.7969" stop-color="#a2a2a2"/><stop offset="0.8281" stop-color="#939393"/><stop offset="0.8594" stop-color="#949494"/><stop offset="0.8906" stop-color="#a7a7a7"/><stop offset="0.9219" stop-color="#b5b5b5"/><stop offset="0.9531" stop-color="#bdbdbd"/><stop offset="0.9844" stop-color="#c0c0c0"/></linearGradient><linearGradient id="fCs11" gradientUnits="userSpaceOnUse" x1="58" y1="0" x2="449" y2="0"><stop offset="0.0156" stop-color="#000000"/><stop offset="0.0469" stop-color="#000000"/><stop offset="0.0781" stop-color="#000000"/><stop offset="0.1094" stop-color="#000000"/><stop offset="0.1406" stop-color="#010101"/><stop offset="0.1719" stop-color="#090909"/><stop offset="0.2031" stop-color="#0f0f0f"/><stop offset="0.2344" stop-color="#1c1c1c"/><stop offset="0.2656" stop-color="#2e2e2e"/><stop offset="0.2969" stop-color="#4c4c4c"/><stop offset="0.3281" stop-color="#767676"/><stop offset="0.3594" stop-color="#838383"/><stop offset="0.3906" stop-color="#747474"/><stop offset="0.4219" stop-color="#696969"/><stop offset="0.4531" stop-color="#616161"/><stop offset="0.4844" stop-color="#555555"/><stop offset="0.5156" stop-color="#444444"/><stop offset="0.5469" stop-color="#444444"/><stop offset="0.5781" stop-color="#555555"/><stop offset="0.6094" stop-color="#6a6a6a"/><stop offset="0.6406" stop-color="#838383"/><stop offset="0.6719" stop-color="#777777"/><stop offset="0.7031" stop-color="#444444"/><stop offset="0.7344" stop-color="#484848"/><stop offset="0.7656" stop-color="#838383"/><stop offset="0.7969" stop-color="#9c9c9c"/><stop offset="0.8281" stop-color="#919191"/><stop offset="0.8594" stop-color="#9c9c9c"/><stop offset="0.8906" stop-color="#bfbfbf"/><stop offset="0.9219" stop-color="#d4d4d4"/><stop offset="0.9531" stop-color="#dbdbdb"/><stop offset="0.9844" stop-color="#dedede"/></linearGradient><linearGradient id="fCs12" gradientUnits="userSpaceOnUse" x1="58" y1="0" x2="449" y2="0"><stop offset="0.0156" stop-color="#212121"/><stop offset="0.0469" stop-color="#1c1c1c"/><stop offset="0.0781" stop-color="#101010"/><stop offset="0.1094" stop-color="#101010"/><stop offset="0.1406" stop-color="#1b1b1b"/><stop offset="0.1719" stop-color="#222222"/><stop offset="0.2031" stop-color="#262626"/><stop offset="0.2344" stop-color="#2d2d2d"/><stop offset="0.2656" stop-color="#363636"/><stop offset="0.2969" stop-color="#525252"/><stop offset="0.3281" stop-color="#808080"/><stop offset="0.3594" stop-color="#818181"/><stop offset="0.3906" stop-color="#565656"/><stop offset="0.4219" stop-color="#424242"/><stop offset="0.4531" stop-color="#464646"/><stop offset="0.4844" stop-color="#474747"/><stop offset="0.5156" stop-color="#444444"/><stop offset="0.5469" stop-color="#4c4c4c"/><stop offset="0.5781" stop-color="#606060"/><stop offset="0.6094" stop-color="#707070"/><stop offset="0.6406" stop-color="#7b7b7b"/><stop offset="0.6719" stop-color="#6d6d6d"/><stop offset="0.7031" stop-color="#444444"/><stop offset="0.7344" stop-color="#474747"/><stop offset="0.7656" stop-color="#787878"/><stop offset="0.7969" stop-color="#8d8d8d"/><stop offset="0.8281" stop-color="#888888"/><stop offset="0.8594" stop-color="#a1a1a1"/><stop offset="0.8906" stop-color="#d9d9d9"/><stop offset="0.9219" stop-color="#f6f6f6"/><stop offset="0.9531" stop-color="#fafafa"/><stop offset="0.9844" stop-color="#fcfcfc"/></linearGradient><linearGradient id="fCs13" gradientUnits="userSpaceOnUse" x1="58" y1="0" x2="449" y2="0"><stop offset="0.0156" stop-color="#414141"/><stop offset="0.0469" stop-color="#3c3c3c"/><stop offset="0.0781" stop-color="#323232"/><stop offset="0.1094" stop-color="#323232"/><stop offset="0.1406" stop-color="#3c3c3c"/><stop offset="0.1719" stop-color="#404040"/><stop offset="0.2031" stop-color="#3f3f3f"/><stop offset="0.2344" stop-color="#414141"/><stop offset="0.2656" stop-color="#484848"/><stop offset="0.2969" stop-color="#606060"/><stop offset="0.3281" stop-color="#8a8a8a"/><stop offset="0.3594" stop-color="#808080"/><stop offset="0.3906" stop-color="#444444"/><stop offset="0.4219" stop-color="#2c2c2c"/><stop offset="0.4531" stop-color="#393939"/><stop offset="0.4844" stop-color="#434343"/><stop offset="0.5156" stop-color="#4b4b4b"/><stop offset="0.5469" stop-color="#575757"/><stop offset="0.5781" stop-color="#696969"/><stop offset="0.6094" stop-color="#737373"/><stop offset="0.6406" stop-color="#747474"/><stop offset="0.6719" stop-color="#646464"/><stop offset="0.7031" stop-color="#454545"/><stop offset="0.7344" stop-color="#494949"/><stop offset="0.7656" stop-color="#707070"/><stop offset="0.7969" stop-color="#858585"/><stop offset="0.8281" stop-color="#878787"/><stop offset="0.8594" stop-color="#a4a4a4"/><stop offset="0.8906" stop-color="#dbdbdb"/><stop offset="0.9219" stop-color="#f8f8f8"/><stop offset="0.9531" stop-color="#f9f9f9"/><stop offset="0.9844" stop-color="#f9f9f9"/></linearGradient><linearGradient id="fCs14" gradientUnits="userSpaceOnUse" x1="58" y1="0" x2="449" y2="0"><stop offset="0.0156" stop-color="#575757"/><stop offset="0.0469" stop-color="#5b5b5b"/><stop offset="0.0781" stop-color="#636363"/><stop offset="0.1094" stop-color="#6a6a6a"/><stop offset="0.1406" stop-color="#6f6f6f"/><stop offset="0.1719" stop-color="#696969"/><stop offset="0.2031" stop-color="#595959"/><stop offset="0.2344" stop-color="#5a5a5a"/><stop offset="0.2656" stop-color="#6b6b6b"/><stop offset="0.2969" stop-color="#7e7e7e"/><stop offset="0.3281" stop-color="#929292"/><stop offset="0.3594" stop-color="#808080"/><stop offset="0.3906" stop-color="#474747"/><stop offset="0.4219" stop-color="#343434"/><stop offset="0.4531" stop-color="#474747"/><stop offset="0.4844" stop-color="#555555"/><stop offset="0.5156" stop-color="#606060"/><stop offset="0.5469" stop-color="#676767"/><stop offset="0.5781" stop-color="#6a6a6a"/><stop offset="0.6094" stop-color="#6b6b6b"/><stop offset="0.6406" stop-color="#696969"/><stop offset="0.6719" stop-color="#5c5c5c"/><stop offset="0.7031" stop-color="#444444"/><stop offset="0.7344" stop-color="#4b4b4b"/><stop offset="0.7656" stop-color="#727272"/><stop offset="0.7969" stop-color="#8c8c8c"/><stop offset="0.8281" stop-color="#999999"/><stop offset="0.8594" stop-color="#a5a5a5"/><stop offset="0.8906" stop-color="#afafaf"/><stop offset="0.9219" stop-color="#b5b5b5"/><stop offset="0.9531" stop-color="#b5b5b5"/><stop offset="0.9844" stop-color="#b5b5b5"/></linearGradient><linearGradient id="fCs15" gradientUnits="userSpaceOnUse" x1="58" y1="0" x2="449" y2="0"><stop offset="0.0156" stop-color="#6a6a6a"/><stop offset="0.0469" stop-color="#7a7a7a"/><stop offset="0.0781" stop-color="#9d9d9d"/><stop offset="0.1094" stop-color="#adadad"/><stop offset="0.1406" stop-color="#aaaaaa"/><stop offset="0.1719" stop-color="#989898"/><stop offset="0.2031" stop-color="#767676"/><stop offset="0.2344" stop-color="#767676"/><stop offset="0.2656" stop-color="#989898"/><stop offset="0.2969" stop-color="#a4a4a4"/><stop offset="0.3281" stop-color="#9b9b9b"/><stop offset="0.3594" stop-color="#818181"/><stop offset="0.3906" stop-color="#575757"/><stop offset="0.4219" stop-color="#4d4d4d"/><stop offset="0.4531" stop-color="#636363"/><stop offset="0.4844" stop-color="#727272"/><stop offset="0.5156" stop-color="#7c7c7c"/><stop offset="0.5469" stop-color="#797979"/><stop offset="0.5781" stop-color="#686868"/><stop offset="0.6094" stop-color="#5f5f5f"/><stop offset="0.6406" stop-color="#5f5f5f"/><stop offset="0.6719" stop-color="#565656"/><stop offset="0.7031" stop-color="#454545"/><stop offset="0.7344" stop-color="#505050"/><stop offset="0.7656" stop-color="#787878"/><stop offset="0.7969" stop-color="#999999"/><stop offset="0.8281" stop-color="#b3b3b3"/><stop offset="0.8594" stop-color="#a4a4a4"/><stop offset="0.8906" stop-color="#6d6d6d"/><stop offset="0.9219" stop-color="#515151"/><stop offset="0.9531" stop-color="#505050"/><stop offset="0.9844" stop-color="#515151"/></linearGradient><linearGradient id="fCs16" gradientUnits="userSpaceOnUse" x1="58" y1="0" x2="449" y2="0"><stop offset="0.0156" stop-color="#7a7a7a"/><stop offset="0.0469" stop-color="#909090"/><stop offset="0.0781" stop-color="#c0c0c0"/><stop offset="0.1094" stop-color="#d3d3d3"/><stop offset="0.1406" stop-color="#c9c9c9"/><stop offset="0.1719" stop-color="#b0b0b0"/><stop offset="0.2031" stop-color="#888888"/><stop offset="0.2344" stop-color="#898989"/><stop offset="0.2656" stop-color="#b4b4b4"/><stop offset="0.2969" stop-color="#bbbbbb"/><stop offset="0.3281" stop-color="#9e9e9e"/><stop offset="0.3594" stop-color="#828282"/><stop offset="0.3906" stop-color="#666666"/><stop offset="0.4219" stop-color="#626262"/><stop offset="0.4531" stop-color="#777777"/><stop offset="0.4844" stop-color="#868686"/><stop offset="0.5156" stop-color="#909090"/><stop offset="0.5469" stop-color="#878787"/><stop offset="0.5781" stop-color="#6a6a6a"/><stop offset="0.6094" stop-color="#5d5d5d"/><stop offset="0.6406" stop-color="#606060"/><stop offset="0.6719" stop-color="#5b5b5b"/><stop offset="0.7031" stop-color="#4e4e4e"/><stop offset="0.7344" stop-color="#5a5a5a"/><stop offset="0.7656" stop-color="#7f7f7f"/><stop offset="0.7969" stop-color="#a1a1a1"/><stop offset="0.8281" stop-color="#c2c2c2"/><stop offset="0.8594" stop-color="#a3a3a3"/><stop offset="0.8906" stop-color="#424242"/><stop offset="0.9219" stop-color="#111111"/><stop offset="0.9531" stop-color="#0f0f0f"/><stop offset="0.9844" stop-color="#0f0f0f"/></linearGradient><linearGradient id="fCs17" gradientUnits="userSpaceOnUse" x1="58" y1="0" x2="449" y2="0"><stop offset="0.0156" stop-color="#828282"/><stop offset="0.0469" stop-color="#939393"/><stop offset="0.0781" stop-color="#b7b7b7"/><stop offset="0.1094" stop-color="#c2c2c2"/><stop offset="0.1406" stop-color="#b2b2b2"/><stop offset="0.1719" stop-color="#9f9f9f"/><stop offset="0.2031" stop-color="#878787"/><stop offset="0.2344" stop-color="#8d8d8d"/><stop offset="0.2656" stop-color="#b1b1b1"/><stop offset="0.2969" stop-color="#b4b4b4"/><stop offset="0.3281" stop-color="#989898"/><stop offset="0.3594" stop-color="#828282"/><stop offset="0.3906" stop-color="#727272"/><stop offset="0.4219" stop-color="#707070"/><stop offset="0.4531" stop-color="#7b7b7b"/><stop offset="0.4844" stop-color="#888888"/><stop offset="0.5156" stop-color="#969696"/><stop offset="0.5469" stop-color="#919191"/><stop offset="0.5781" stop-color="#787878"/><stop offset="0.6094" stop-color="#707070"/><stop offset="0.6406" stop-color="#777777"/><stop offset="0.6719" stop-color="#767676"/><stop offset="0.7031" stop-color="#6a6a6a"/><stop offset="0.7344" stop-color="#6f6f6f"/><stop offset="0.7656" stop-color="#858585"/><stop offset="0.7969" stop-color="#9e9e9e"/><stop offset="0.8281" stop-color="#bbbbbb"/><stop offset="0.8594" stop-color="#9f9f9f"/><stop offset="0.8906" stop-color="#4b4b4b"/><stop offset="0.9219" stop-color="#1d1d1d"/><stop offset="0.9531" stop-color="#161616"/><stop offset="0.9844" stop-color="#141414"/></linearGradient><linearGradient id="fCs18" gradientUnits="userSpaceOnUse" x1="58" y1="0" x2="449" y2="0"><stop offset="0.0156" stop-color="#878787"/><stop offset="0.0469" stop-color="#8d8d8d"/><stop offset="0.0781" stop-color="#989898"/><stop offset="0.1094" stop-color="#949494"/><stop offset="0.1406" stop-color="#7f7f7f"/><stop offset="0.1719" stop-color="#787878"/><stop offset="0.2031" stop-color="#7d7d7d"/><stop offset="0.2344" stop-color="#8a8a8a"/><stop offset="0.2656" stop-color="#9d9d9d"/><stop offset="0.2969" stop-color="#9e9e9e"/><stop offset="0.3281" stop-color="#8d8d8d"/><stop offset="0.3594" stop-color="#818181"/><stop offset="0.3906" stop-color="#7d7d7d"/><stop offset="0.4219" stop-color="#7a7a7a"/><stop offset="0.4531" stop-color="#787878"/><stop offset="0.4844" stop-color="#808080"/><stop offset="0.5156" stop-color="#939393"/><stop offset="0.5469" stop-color="#969696"/><stop offset="0.5781" stop-color="#8b8b8b"/><stop offset="0.6094" stop-color="#8c8c8c"/><stop offset="0.6406" stop-color="#9a9a9a"/><stop offset="0.6719" stop-color="#9b9b9b"/><stop offset="0.7031" stop-color="#8f8f8f"/><stop offset="0.7344" stop-color="#8a8a8a"/><stop offset="0.7656" stop-color="#8c8c8c"/><stop offset="0.7969" stop-color="#969696"/><stop offset="0.8281" stop-color="#aaaaaa"/><stop offset="0.8594" stop-color="#9c9c9c"/><stop offset="0.8906" stop-color="#6c6c6c"/><stop offset="0.9219" stop-color="#4e4e4e"/><stop offset="0.9531" stop-color="#414141"/><stop offset="0.9844" stop-color="#3b3b3b"/></linearGradient><linearGradient id="fCs19" gradientUnits="userSpaceOnUse" x1="58" y1="0" x2="449" y2="0"><stop offset="0.0156" stop-color="#919191"/><stop offset="0.0469" stop-color="#8d8d8d"/><stop offset="0.0781" stop-color="#868686"/><stop offset="0.1094" stop-color="#747474"/><stop offset="0.1406" stop-color="#565656"/><stop offset="0.1719" stop-color="#565656"/><stop offset="0.2031" stop-color="#747474"/><stop offset="0.2344" stop-color="#868686"/><stop offset="0.2656" stop-color="#8e8e8e"/><stop offset="0.2969" stop-color="#8d8d8d"/><stop offset="0.3281" stop-color="#838383"/><stop offset="0.3594" stop-color="#7f7f7f"/><stop offset="0.3906" stop-color="#808080"/><stop offset="0.4219" stop-color="#7c7c7c"/><stop offset="0.4531" stop-color="#717171"/><stop offset="0.4844" stop-color="#757575"/><stop offset="0.5156" stop-color="#898989"/><stop offset="0.5469" stop-color="#919191"/><stop offset="0.5781" stop-color="#8e8e8e"/><stop offset="0.6094" stop-color="#969696"/><stop offset="0.6406" stop-color="#aaaaaa"/><stop offset="0.6719" stop-color="#afafaf"/><stop offset="0.7031" stop-color="#a4a4a4"/><stop offset="0.7344" stop-color="#9b9b9b"/><stop offset="0.7656" stop-color="#919191"/><stop offset="0.7969" stop-color="#929292"/><stop offset="0.8281" stop-color="#9e9e9e"/><stop offset="0.8594" stop-color="#9b9b9b"/><stop offset="0.8906" stop-color="#898989"/><stop offset="0.9219" stop-color="#777777"/><stop offset="0.9531" stop-color="#656565"/><stop offset="0.9844" stop-color="#5d5d5d"/></linearGradient><linearGradient id="fCs20" gradientUnits="userSpaceOnUse" x1="58" y1="0" x2="449" y2="0"><stop offset="0.0156" stop-color="#a3a3a3"/><stop offset="0.0469" stop-color="#9e9e9e"/><stop offset="0.0781" stop-color="#919191"/><stop offset="0.1094" stop-color="#707070"/><stop offset="0.1406" stop-color="#3c3c3c"/><stop offset="0.1719" stop-color="#3b3b3b"/><stop offset="0.2031" stop-color="#6c6c6c"/><stop offset="0.2344" stop-color="#868686"/><stop offset="0.2656" stop-color="#898989"/><stop offset="0.2969" stop-color="#848484"/><stop offset="0.3281" stop-color="#797979"/><stop offset="0.3594" stop-color="#727272"/><stop offset="0.3906" stop-color="#717171"/><stop offset="0.4219" stop-color="#6b6b6b"/><stop offset="0.4531" stop-color="#5f5f5f"/><stop offset="0.4844" stop-color="#606060"/><stop offset="0.5156" stop-color="#6e6e6e"/><stop offset="0.5469" stop-color="#727272"/><stop offset="0.5781" stop-color="#6d6d6d"/><stop offset="0.6094" stop-color="#787878"/><stop offset="0.6406" stop-color="#929292"/><stop offset="0.6719" stop-color="#9e9e9e"/><stop offset="0.7031" stop-color="#9d9d9d"/><stop offset="0.7344" stop-color="#9a9a9a"/><stop offset="0.7656" stop-color="#969696"/><stop offset="0.7969" stop-color="#999999"/><stop offset="0.8281" stop-color="#a3a3a3"/><stop offset="0.8594" stop-color="#a3a3a3"/><stop offset="0.8906" stop-color="#9a9a9a"/><stop offset="0.9219" stop-color="#8b8b8b"/><stop offset="0.9531" stop-color="#777777"/><stop offset="0.9844" stop-color="#6e6e6e"/></linearGradient><linearGradient id="fCs21" gradientUnits="userSpaceOnUse" x1="58" y1="0" x2="449" y2="0"><stop offset="0.0156" stop-color="#bbbbbb"/><stop offset="0.0469" stop-color="#b5b5b5"/><stop offset="0.0781" stop-color="#a9a9a9"/><stop offset="0.1094" stop-color="#7b7b7b"/><stop offset="0.1406" stop-color="#2c2c2c"/><stop offset="0.1719" stop-color="#242424"/><stop offset="0.2031" stop-color="#656565"/><stop offset="0.2344" stop-color="#868686"/><stop offset="0.2656" stop-color="#888888"/><stop offset="0.2969" stop-color="#808080"/><stop offset="0.3281" stop-color="#707070"/><stop offset="0.3594" stop-color="#636363"/><stop offset="0.3906" stop-color="#5b5b5b"/><stop offset="0.4219" stop-color="#525252"/><stop offset="0.4531" stop-color="#494949"/><stop offset="0.4844" stop-color="#474747"/><stop offset="0.5156" stop-color="#4c4c4c"/><stop offset="0.5469" stop-color="#494949"/><stop offset="0.5781" stop-color="#3d3d3d"/><stop offset="0.6094" stop-color="#484848"/><stop offset="0.6406" stop-color="#686868"/><stop offset="0.6719" stop-color="#7d7d7d"/><stop offset="0.7031" stop-color="#868686"/><stop offset="0.7344" stop-color="#909090"/><stop offset="0.7656" stop-color="#999999"/><stop offset="0.7969" stop-color="#a4a4a4"/><stop offset="0.8281" stop-color="#aeaeae"/><stop offset="0.8594" stop-color="#afafaf"/><stop offset="0.8906" stop-color="#a6a6a6"/><stop offset="0.9219" stop-color="#979797"/><stop offset="0.9531" stop-color="#828282"/><stop offset="0.9844" stop-color="#797979"/></linearGradient><linearGradient id="fCs22" gradientUnits="userSpaceOnUse" x1="58" y1="0" x2="449" y2="0"><stop offset="0.0156" stop-color="#d1d1d1"/><stop offset="0.0469" stop-color="#cccccc"/><stop offset="0.0781" stop-color="#c0c0c0"/><stop offset="0.1094" stop-color="#8e8e8e"/><stop offset="0.1406" stop-color="#363636"/><stop offset="0.1719" stop-color="#292929"/><stop offset="0.2031" stop-color="#686868"/><stop offset="0.2344" stop-color="#8a8a8a"/><stop offset="0.2656" stop-color="#919191"/><stop offset="0.2969" stop-color="#8b8b8b"/><stop offset="0.3281" stop-color="#797979"/><stop offset="0.3594" stop-color="#676767"/><stop offset="0.3906" stop-color="#575757"/><stop offset="0.4219" stop-color="#4a4a4a"/><stop offset="0.4531" stop-color="#424242"/><stop offset="0.4844" stop-color="#3f3f3f"/><stop offset="0.5156" stop-color="#414141"/><stop offset="0.5469" stop-color="#393939"/><stop offset="0.5781" stop-color="#272727"/><stop offset="0.6094" stop-color="#2f2f2f"/><stop offset="0.6406" stop-color="#515151"/><stop offset="0.6719" stop-color="#696969"/><stop offset="0.7031" stop-color="#787878"/><stop offset="0.7344" stop-color="#888888"/><stop offset="0.7656" stop-color="#999999"/><stop offset="0.7969" stop-color="#a5a5a5"/><stop offset="0.8281" stop-color="#aeaeae"/><stop offset="0.8594" stop-color="#aeaeae"/><stop offset="0.8906" stop-color="#a5a5a5"/><stop offset="0.9219" stop-color="#989898"/><stop offset="0.9531" stop-color="#868686"/><stop offset="0.9844" stop-color="#7d7d7d"/></linearGradient><linearGradient id="fCs23" gradientUnits="userSpaceOnUse" x1="58" y1="0" x2="449" y2="0"><stop offset="0.0156" stop-color="#eaeaea"/><stop offset="0.0469" stop-color="#e3e3e3"/><stop offset="0.0781" stop-color="#d4d4d4"/><stop offset="0.1094" stop-color="#aeaeae"/><stop offset="0.1406" stop-color="#707070"/><stop offset="0.1719" stop-color="#5f5f5f"/><stop offset="0.2031" stop-color="#7b7b7b"/><stop offset="0.2344" stop-color="#959595"/><stop offset="0.2656" stop-color="#aeaeae"/><stop offset="0.2969" stop-color="#b3b3b3"/><stop offset="0.3281" stop-color="#a5a5a5"/><stop offset="0.3594" stop-color="#919191"/><stop offset="0.3906" stop-color="#797979"/><stop offset="0.4219" stop-color="#676767"/><stop offset="0.4531" stop-color="#5c5c5c"/><stop offset="0.4844" stop-color="#5b5b5b"/><stop offset="0.5156" stop-color="#646464"/><stop offset="0.5469" stop-color="#5d5d5d"/><stop offset="0.5781" stop-color="#444444"/><stop offset="0.6094" stop-color="#454545"/><stop offset="0.6406" stop-color="#5f5f5f"/><stop offset="0.6719" stop-color="#707070"/><stop offset="0.7031" stop-color="#7a7a7a"/><stop offset="0.7344" stop-color="#838383"/><stop offset="0.7656" stop-color="#8d8d8d"/><stop offset="0.7969" stop-color="#929292"/><stop offset="0.8281" stop-color="#929292"/><stop offset="0.8594" stop-color="#909090"/><stop offset="0.8906" stop-color="#8b8b8b"/><stop offset="0.9219" stop-color="#848484"/><stop offset="0.9531" stop-color="#7a7a7a"/><stop offset="0.9844" stop-color="#767676"/></linearGradient><linearGradient id="fCs24" gradientUnits="userSpaceOnUse" x1="58" y1="0" x2="449" y2="0"><stop offset="0.0156" stop-color="#ffffff"/><stop offset="0.0469" stop-color="#f9f9f9"/><stop offset="0.0781" stop-color="#e7e7e7"/><stop offset="0.1094" stop-color="#d6d6d6"/><stop offset="0.1406" stop-color="#c5c5c5"/><stop offset="0.1719" stop-color="#b0b0b0"/><stop offset="0.2031" stop-color="#979797"/><stop offset="0.2344" stop-color="#a4a4a4"/><stop offset="0.2656" stop-color="#d6d6d6"/><stop offset="0.2969" stop-color="#ebebeb"/><stop offset="0.3281" stop-color="#e3e3e3"/><stop offset="0.3594" stop-color="#cecece"/><stop offset="0.3906" stop-color="#aeaeae"/><stop offset="0.4219" stop-color="#959595"/><stop offset="0.4531" stop-color="#858585"/><stop offset="0.4844" stop-color="#888888"/><stop offset="0.5156" stop-color="#9e9e9e"/><stop offset="0.5469" stop-color="#9a9a9a"/><stop offset="0.5781" stop-color="#7b7b7b"/><stop offset="0.6094" stop-color="#727272"/><stop offset="0.6406" stop-color="#7f7f7f"/><stop offset="0.6719" stop-color="#858585"/><stop offset="0.7031" stop-color="#838383"/><stop offset="0.7344" stop-color="#818181"/><stop offset="0.7656" stop-color="#7e7e7e"/><stop offset="0.7969" stop-color="#767676"/><stop offset="0.8281" stop-color="#6b6b6b"/><stop offset="0.8594" stop-color="#656565"/><stop offset="0.8906" stop-color="#646464"/><stop offset="0.9219" stop-color="#646464"/><stop offset="0.9531" stop-color="#676767"/><stop offset="0.9844" stop-color="#686868"/></linearGradient><linearGradient id="fCs25" gradientUnits="userSpaceOnUse" x1="58" y1="0" x2="449" y2="0"><stop offset="0.0156" stop-color="#ffffff"/><stop offset="0.0469" stop-color="#ffffff"/><stop offset="0.0781" stop-color="#f2f2f2"/><stop offset="0.1094" stop-color="#f3f3f3"/><stop offset="0.1406" stop-color="#ffffff"/><stop offset="0.1719" stop-color="#eaeaea"/><stop offset="0.2031" stop-color="#acacac"/><stop offset="0.2344" stop-color="#adadad"/><stop offset="0.2656" stop-color="#eeeeee"/><stop offset="0.2969" stop-color="#ffffff"/><stop offset="0.3281" stop-color="#ffffff"/><stop offset="0.3594" stop-color="#f8f8f8"/><stop offset="0.3906" stop-color="#d0d0d0"/><stop offset="0.4219" stop-color="#b3b3b3"/><stop offset="0.4531" stop-color="#a1a1a1"/><stop offset="0.4844" stop-color="#a8a8a8"/><stop offset="0.5156" stop-color="#c8c8c8"/><stop offset="0.5469" stop-color="#c9c9c9"/><stop offset="0.5781" stop-color="#aaaaaa"/><stop offset="0.6094" stop-color="#9c9c9c"/><stop offset="0.6406" stop-color="#9f9f9f"/><stop offset="0.6719" stop-color="#9d9d9d"/><stop offset="0.7031" stop-color="#959595"/><stop offset="0.7344" stop-color="#898989"/><stop offset="0.7656" stop-color="#787878"/><stop offset="0.7969" stop-color="#676767"/><stop offset="0.8281" stop-color="#555555"/><stop offset="0.8594" stop-color="#4d4d4d"/><stop offset="0.8906" stop-color="#4e4e4e"/><stop offset="0.9219" stop-color="#535353"/><stop offset="0.9531" stop-color="#5c5c5c"/><stop offset="0.9844" stop-color="#616161"/></linearGradient><linearGradient id="fCs26" gradientUnits="userSpaceOnUse" x1="58" y1="0" x2="449" y2="0"><stop offset="0.0156" stop-color="#ededed"/><stop offset="0.0469" stop-color="#efefef"/><stop offset="0.0781" stop-color="#f6f6f6"/><stop offset="0.1094" stop-color="#ffffff"/><stop offset="0.1406" stop-color="#ffffff"/><stop offset="0.1719" stop-color="#fafafa"/><stop offset="0.2031" stop-color="#b3b3b3"/><stop offset="0.2344" stop-color="#adadad"/><stop offset="0.2656" stop-color="#e8e8e8"/><stop offset="0.2969" stop-color="#ffffff"/><stop offset="0.3281" stop-color="#ffffff"/><stop offset="0.3594" stop-color="#fdfdfd"/><stop offset="0.3906" stop-color="#cbcbcb"/><stop offset="0.4219" stop-color="#acacac"/><stop offset="0.4531" stop-color="#9f9f9f"/><stop offset="0.4844" stop-color="#ababab"/><stop offset="0.5156" stop-color="#d0d0d0"/><stop offset="0.5469" stop-color="#d9d9d9"/><stop offset="0.5781" stop-color="#c7c7c7"/><stop offset="0.6094" stop-color="#bebebe"/><stop offset="0.6406" stop-color="#bebebe"/><stop offset="0.6719" stop-color="#bcbcbc"/><stop offset="0.7031" stop-color="#b8b8b8"/><stop offset="0.7344" stop-color="#a6a6a6"/><stop offset="0.7656" stop-color="#878787"/><stop offset="0.7969" stop-color="#717171"/><stop offset="0.8281" stop-color="#656565"/><stop offset="0.8594" stop-color="#5e5e5e"/><stop offset="0.8906" stop-color="#5d5d5d"/><stop offset="0.9219" stop-color="#5f5f5f"/><stop offset="0.9531" stop-color="#646464"/><stop offset="0.9844" stop-color="#676767"/></linearGradient><linearGradient id="fCs27" gradientUnits="userSpaceOnUse" x1="58" y1="0" x2="449" y2="0"><stop offset="0.0156" stop-color="#c0c0c0"/><stop offset="0.0469" stop-color="#d0d0d0"/><stop offset="0.0781" stop-color="#f1f1f1"/><stop offset="0.1094" stop-color="#ffffff"/><stop offset="0.1406" stop-color="#ffffff"/><stop offset="0.1719" stop-color="#f3f3f3"/><stop offset="0.2031" stop-color="#b2b2b2"/><stop offset="0.2344" stop-color="#a7a7a7"/><stop offset="0.2656" stop-color="#d3d3d3"/><stop offset="0.2969" stop-color="#f2f2f2"/><stop offset="0.3281" stop-color="#ffffff"/><stop offset="0.3594" stop-color="#f0f0f0"/><stop offset="0.3906" stop-color="#b5b5b5"/><stop offset="0.4219" stop-color="#959595"/><stop offset="0.4531" stop-color="#909090"/><stop offset="0.4844" stop-color="#a1a1a1"/><stop offset="0.5156" stop-color="#c8c8c8"/><stop offset="0.5469" stop-color="#dcdcdc"/><stop offset="0.5781" stop-color="#dddddd"/><stop offset="0.6094" stop-color="#dddddd"/><stop offset="0.6406" stop-color="#dcdcdc"/><stop offset="0.6719" stop-color="#dedede"/><stop offset="0.7031" stop-color="#e3e3e3"/><stop offset="0.7344" stop-color="#cfcfcf"/><stop offset="0.7656" stop-color="#a0a0a0"/><stop offset="0.7969" stop-color="#888888"/><stop offset="0.8281" stop-color="#868686"/><stop offset="0.8594" stop-color="#838383"/><stop offset="0.8906" stop-color="#7e7e7e"/><stop offset="0.9219" stop-color="#7a7a7a"/><stop offset="0.9531" stop-color="#757575"/><stop offset="0.9844" stop-color="#737373"/></linearGradient><linearGradient id="fCs28" gradientUnits="userSpaceOnUse" x1="58" y1="0" x2="449" y2="0"><stop offset="0.0156" stop-color="#9a9a9a"/><stop offset="0.0469" stop-color="#b0b0b0"/><stop offset="0.0781" stop-color="#dfdfdf"/><stop offset="0.1094" stop-color="#f7f7f7"/><stop offset="0.1406" stop-color="#f7f7f7"/><stop offset="0.1719" stop-color="#dedede"/><stop offset="0.2031" stop-color="#acacac"/><stop offset="0.2344" stop-color="#a3a3a3"/><stop offset="0.2656" stop-color="#c1c1c1"/><stop offset="0.2969" stop-color="#dbdbdb"/><stop offset="0.3281" stop-color="#f0f0f0"/><stop offset="0.3594" stop-color="#dedede"/><stop offset="0.3906" stop-color="#a4a4a4"/><stop offset="0.4219" stop-color="#878787"/><stop offset="0.4531" stop-color="#898989"/><stop offset="0.4844" stop-color="#9c9c9c"/><stop offset="0.5156" stop-color="#c0c0c0"/><stop offset="0.5469" stop-color="#dadada"/><stop offset="0.5781" stop-color="#eaeaea"/><stop offset="0.6094" stop-color="#f1f1f1"/><stop offset="0.6406" stop-color="#efefef"/><stop offset="0.6719" stop-color="#f3f3f3"/><stop offset="0.7031" stop-color="#fdfdfd"/><stop offset="0.7344" stop-color="#e7e7e7"/><stop offset="0.7656" stop-color="#b2b2b2"/><stop offset="0.7969" stop-color="#999999"/><stop offset="0.8281" stop-color="#9e9e9e"/><stop offset="0.8594" stop-color="#9d9d9d"/><stop offset="0.8906" stop-color="#949494"/><stop offset="0.9219" stop-color="#8b8b8b"/><stop offset="0.9531" stop-color="#828282"/><stop offset="0.9844" stop-color="#7e7e7e"/></linearGradient><linearGradient id="fCs29" gradientUnits="userSpaceOnUse" x1="58" y1="0" x2="449" y2="0"><stop offset="0.0156" stop-color="#808080"/><stop offset="0.0469" stop-color="#919191"/><stop offset="0.0781" stop-color="#b5b5b5"/><stop offset="0.1094" stop-color="#c5c5c5"/><stop offset="0.1406" stop-color="#bfbfbf"/><stop offset="0.1719" stop-color="#b2b2b2"/><stop offset="0.2031" stop-color="#9f9f9f"/><stop offset="0.2344" stop-color="#a3a3a3"/><stop offset="0.2656" stop-color="#bebebe"/><stop offset="0.2969" stop-color="#d0d0d0"/><stop offset="0.3281" stop-color="#d9d9d9"/><stop offset="0.3594" stop-color="#c9c9c9"/><stop offset="0.3906" stop-color="#a2a2a2"/><stop offset="0.4219" stop-color="#919191"/><stop offset="0.4531" stop-color="#979797"/><stop offset="0.4844" stop-color="#a7a7a7"/><stop offset="0.5156" stop-color="#bfbfbf"/><stop offset="0.5469" stop-color="#d6d6d6"/><stop offset="0.5781" stop-color="#ebebeb"/><stop offset="0.6094" stop-color="#f2f2f2"/><stop offset="0.6406" stop-color="#eeeeee"/><stop offset="0.6719" stop-color="#efefef"/><stop offset="0.7031" stop-color="#f5f5f5"/><stop offset="0.7344" stop-color="#e1e1e1"/><stop offset="0.7656" stop-color="#b3b3b3"/><stop offset="0.7969" stop-color="#9e9e9e"/><stop offset="0.8281" stop-color="#a1a1a1"/><stop offset="0.8594" stop-color="#9c9c9c"/><stop offset="0.8906" stop-color="#8f8f8f"/><stop offset="0.9219" stop-color="#888888"/><stop offset="0.9531" stop-color="#868686"/><stop offset="0.9844" stop-color="#868686"/></linearGradient><linearGradient id="fCs30" gradientUnits="userSpaceOnUse" x1="58" y1="0" x2="449" y2="0"><stop offset="0.0156" stop-color="#6c6c6c"/><stop offset="0.0469" stop-color="#727272"/><stop offset="0.0781" stop-color="#7e7e7e"/><stop offset="0.1094" stop-color="#7f7f7f"/><stop offset="0.1406" stop-color="#747474"/><stop offset="0.1719" stop-color="#787878"/><stop offset="0.2031" stop-color="#8c8c8c"/><stop offset="0.2344" stop-color="#a3a3a3"/><stop offset="0.2656" stop-color="#bfbfbf"/><stop offset="0.2969" stop-color="#c7c7c7"/><stop offset="0.3281" stop-color="#bcbcbc"/><stop offset="0.3594" stop-color="#b1b1b1"/><stop offset="0.3906" stop-color="#a6a6a6"/><stop offset="0.4219" stop-color="#a5a5a5"/><stop offset="0.4531" stop-color="#aeaeae"/><stop offset="0.4844" stop-color="#b7b7b7"/><stop offset="0.5156" stop-color="#bfbfbf"/><stop offset="0.5469" stop-color="#cecece"/><stop offset="0.5781" stop-color="#e2e2e2"/><stop offset="0.6094" stop-color="#e8e8e8"/><stop offset="0.6406" stop-color="#e0e0e0"/><stop offset="0.6719" stop-color="#dcdcdc"/><stop offset="0.7031" stop-color="#dbdbdb"/><stop offset="0.7344" stop-color="#cbcbcb"/><stop offset="0.7656" stop-color="#acacac"/><stop offset="0.7969" stop-color="#9c9c9c"/><stop offset="0.8281" stop-color="#9b9b9b"/><stop offset="0.8594" stop-color="#919191"/><stop offset="0.8906" stop-color="#7f7f7f"/><stop offset="0.9219" stop-color="#7b7b7b"/><stop offset="0.9531" stop-color="#878787"/><stop offset="0.9844" stop-color="#8c8c8c"/></linearGradient><linearGradient id="fCs31" gradientUnits="userSpaceOnUse" x1="58" y1="0" x2="449" y2="0"><stop offset="0.0156" stop-color="#616161"/><stop offset="0.0469" stop-color="#5d5d5d"/><stop offset="0.0781" stop-color="#545454"/><stop offset="0.1094" stop-color="#494949"/><stop offset="0.1406" stop-color="#3d3d3d"/><stop offset="0.1719" stop-color="#4e4e4e"/><stop offset="0.2031" stop-color="#7c7c7c"/><stop offset="0.2344" stop-color="#9f9f9f"/><stop offset="0.2656" stop-color="#bababa"/><stop offset="0.2969" stop-color="#bcbcbc"/><stop offset="0.3281" stop-color="#a6a6a6"/><stop offset="0.3594" stop-color="#a0a0a0"/><stop offset="0.3906" stop-color="#aaaaaa"/><stop offset="0.4219" stop-color="#b4b4b4"/><stop offset="0.4531" stop-color="#bcbcbc"/><stop offset="0.4844" stop-color="#c0c0c0"/><stop offset="0.5156" stop-color="#bdbdbd"/><stop offset="0.5469" stop-color="#c6c6c6"/><stop offset="0.5781" stop-color="#dadada"/><stop offset="0.6094" stop-color="#dfdfdf"/><stop offset="0.6406" stop-color="#d4d4d4"/><stop offset="0.6719" stop-color="#cccccc"/><stop offset="0.7031" stop-color="#c4c4c4"/><stop offset="0.7344" stop-color="#b8b8b8"/><stop offset="0.7656" stop-color="#a7a7a7"/><stop offset="0.7969" stop-color="#9b9b9b"/><stop offset="0.8281" stop-color="#949494"/><stop offset="0.8594" stop-color="#878787"/><stop offset="0.8906" stop-color="#737373"/><stop offset="0.9219" stop-color="#747474"/><stop offset="0.9531" stop-color="#888888"/><stop offset="0.9844" stop-color="#929292"/></linearGradient><linearGradient id="fCs32" gradientUnits="userSpaceOnUse" x1="58" y1="0" x2="449" y2="0"><stop offset="0.0156" stop-color="#646464"/><stop offset="0.0469" stop-color="#595959"/><stop offset="0.0781" stop-color="#424242"/><stop offset="0.1094" stop-color="#343434"/><stop offset="0.1406" stop-color="#2f2f2f"/><stop offset="0.1719" stop-color="#444444"/><stop offset="0.2031" stop-color="#737373"/><stop offset="0.2344" stop-color="#949494"/><stop offset="0.2656" stop-color="#a8a8a8"/><stop offset="0.2969" stop-color="#acacac"/><stop offset="0.3281" stop-color="#a0a0a0"/><stop offset="0.3594" stop-color="#a0a0a0"/><stop offset="0.3906" stop-color="#acacac"/><stop offset="0.4219" stop-color="#b3b3b3"/><stop offset="0.4531" stop-color="#b7b7b7"/><stop offset="0.4844" stop-color="#b9b9b9"/><stop offset="0.5156" stop-color="#bababa"/><stop offset="0.5469" stop-color="#c4c4c4"/><stop offset="0.5781" stop-color="#d7d7d7"/><stop offset="0.6094" stop-color="#dbdbdb"/><stop offset="0.6406" stop-color="#d1d1d1"/><stop offset="0.6719" stop-color="#c6c6c6"/><stop offset="0.7031" stop-color="#bababa"/><stop offset="0.7344" stop-color="#afafaf"/><stop offset="0.7656" stop-color="#a6a6a6"/><stop offset="0.7969" stop-color="#9b9b9b"/><stop offset="0.8281" stop-color="#909090"/><stop offset="0.8594" stop-color="#828282"/><stop offset="0.8906" stop-color="#727272"/><stop offset="0.9219" stop-color="#767676"/><stop offset="0.9531" stop-color="#8e8e8e"/><stop offset="0.9844" stop-color="#999999"/></linearGradient><linearGradient id="fCs33" gradientUnits="userSpaceOnUse" x1="58" y1="0" x2="449" y2="0"><stop offset="0.0156" stop-color="#707070"/><stop offset="0.0469" stop-color="#606060"/><stop offset="0.0781" stop-color="#3d3d3d"/><stop offset="0.1094" stop-color="#2f2f2f"/><stop offset="0.1406" stop-color="#353535"/><stop offset="0.1719" stop-color="#4a4a4a"/><stop offset="0.2031" stop-color="#6d6d6d"/><stop offset="0.2344" stop-color="#848484"/><stop offset="0.2656" stop-color="#909090"/><stop offset="0.2969" stop-color="#9a9a9a"/><stop offset="0.3281" stop-color="#a2a2a2"/><stop offset="0.3594" stop-color="#a8a8a8"/><stop offset="0.3906" stop-color="#adadad"/><stop offset="0.4219" stop-color="#adadad"/><stop offset="0.4531" stop-color="#a8a8a8"/><stop offset="0.4844" stop-color="#ababab"/><stop offset="0.5156" stop-color="#b6b6b6"/><stop offset="0.5469" stop-color="#c3c3c3"/><stop offset="0.5781" stop-color="#d5d5d5"/><stop offset="0.6094" stop-color="#d9d9d9"/><stop offset="0.6406" stop-color="#cfcfcf"/><stop offset="0.6719" stop-color="#c2c2c2"/><stop offset="0.7031" stop-color="#b2b2b2"/><stop offset="0.7344" stop-color="#a8a8a8"/><stop offset="0.7656" stop-color="#a5a5a5"/><stop offset="0.7969" stop-color="#9c9c9c"/><stop offset="0.8281" stop-color="#8b8b8b"/><stop offset="0.8594" stop-color="#7f7f7f"/><stop offset="0.8906" stop-color="#767676"/><stop offset="0.9219" stop-color="#7d7d7d"/><stop offset="0.9531" stop-color="#959595"/><stop offset="0.9844" stop-color="#a0a0a0"/></linearGradient><linearGradient id="fCs34" gradientUnits="userSpaceOnUse" x1="58" y1="0" x2="449" y2="0"><stop offset="0.0156" stop-color="#747474"/><stop offset="0.0469" stop-color="#626262"/><stop offset="0.0781" stop-color="#3c3c3c"/><stop offset="0.1094" stop-color="#2d2d2d"/><stop offset="0.1406" stop-color="#383838"/><stop offset="0.1719" stop-color="#4a4a4a"/><stop offset="0.2031" stop-color="#656565"/><stop offset="0.2344" stop-color="#757575"/><stop offset="0.2656" stop-color="#7b7b7b"/><stop offset="0.2969" stop-color="#878787"/><stop offset="0.3281" stop-color="#989898"/><stop offset="0.3594" stop-color="#a5a5a5"/><stop offset="0.3906" stop-color="#aeaeae"/><stop offset="0.4219" stop-color="#adadad"/><stop offset="0.4531" stop-color="#a2a2a2"/><stop offset="0.4844" stop-color="#a1a1a1"/><stop offset="0.5156" stop-color="#a9a9a9"/><stop offset="0.5469" stop-color="#b7b7b7"/><stop offset="0.5781" stop-color="#cacaca"/><stop offset="0.6094" stop-color="#cfcfcf"/><stop offset="0.6406" stop-color="#c5c5c5"/><stop offset="0.6719" stop-color="#b8b8b8"/><stop offset="0.7031" stop-color="#a5a5a5"/><stop offset="0.7344" stop-color="#9e9e9e"/><stop offset="0.7656" stop-color="#a1a1a1"/><stop offset="0.7969" stop-color="#999999"/><stop offset="0.8281" stop-color="#868686"/><stop offset="0.8594" stop-color="#7d7d7d"/><stop offset="0.8906" stop-color="#7d7d7d"/><stop offset="0.9219" stop-color="#868686"/><stop offset="0.9531" stop-color="#999999"/><stop offset="0.9844" stop-color="#a2a2a2"/></linearGradient><linearGradient id="fCs35" gradientUnits="userSpaceOnUse" x1="58" y1="0" x2="449" y2="0"><stop offset="0.0156" stop-color="#686868"/><stop offset="0.0469" stop-color="#5a5a5a"/><stop offset="0.0781" stop-color="#3c3c3c"/><stop offset="0.1094" stop-color="#2c2c2c"/><stop offset="0.1406" stop-color="#2a2a2a"/><stop offset="0.1719" stop-color="#383838"/><stop offset="0.2031" stop-color="#575757"/><stop offset="0.2344" stop-color="#686868"/><stop offset="0.2656" stop-color="#6a6a6a"/><stop offset="0.2969" stop-color="#6f6f6f"/><stop offset="0.3281" stop-color="#757575"/><stop offset="0.3594" stop-color="#8b8b8b"/><stop offset="0.3906" stop-color="#b1b1b1"/><stop offset="0.4219" stop-color="#bdbdbd"/><stop offset="0.4531" stop-color="#b1b1b1"/><stop offset="0.4844" stop-color="#a1a1a1"/><stop offset="0.5156" stop-color="#8e8e8e"/><stop offset="0.5469" stop-color="#929292"/><stop offset="0.5781" stop-color="#afafaf"/><stop offset="0.6094" stop-color="#b8b8b8"/><stop offset="0.6406" stop-color="#aeaeae"/><stop offset="0.6719" stop-color="#9f9f9f"/><stop offset="0.7031" stop-color="#8c8c8c"/><stop offset="0.7344" stop-color="#898989"/><stop offset="0.7656" stop-color="#949494"/><stop offset="0.7969" stop-color="#919191"/><stop offset="0.8281" stop-color="#7e7e7e"/><stop offset="0.8594" stop-color="#7b7b7b"/><stop offset="0.8906" stop-color="#8a8a8a"/><stop offset="0.9219" stop-color="#939393"/><stop offset="0.9531" stop-color="#969696"/><stop offset="0.9844" stop-color="#979797"/></linearGradient><linearGradient id="fCs36" gradientUnits="userSpaceOnUse" x1="58" y1="0" x2="449" y2="0"><stop offset="0.0156" stop-color="#555555"/><stop offset="0.0469" stop-color="#4e4e4e"/><stop offset="0.0781" stop-color="#404040"/><stop offset="0.1094" stop-color="#2f2f2f"/><stop offset="0.1406" stop-color="#191919"/><stop offset="0.1719" stop-color="#212121"/><stop offset="0.2031" stop-color="#484848"/><stop offset="0.2344" stop-color="#5b5b5b"/><stop offset="0.2656" stop-color="#5c5c5c"/><stop offset="0.2969" stop-color="#555555"/><stop offset="0.3281" stop-color="#474747"/><stop offset="0.3594" stop-color="#666666"/><stop offset="0.3906" stop-color="#b3b3b3"/><stop offset="0.4219" stop-color="#d4d4d4"/><stop offset="0.4531" stop-color="#c9c9c9"/><stop offset="0.4844" stop-color="#a6a6a6"/><stop offset="0.5156" stop-color="#6b6b6b"/><stop offset="0.5469" stop-color="#626262"/><stop offset="0.5781" stop-color="#8b8b8b"/><stop offset="0.6094" stop-color="#999999"/><stop offset="0.6406" stop-color="#8e8e8e"/><stop offset="0.6719" stop-color="#808080"/><stop offset="0.7031" stop-color="#6f6f6f"/><stop offset="0.7344" stop-color="#707070"/><stop offset="0.7656" stop-color="#848484"/><stop offset="0.7969" stop-color="#858585"/><stop offset="0.8281" stop-color="#747474"/><stop offset="0.8594" stop-color="#7c7c7c"/><stop offset="0.8906" stop-color="#9b9b9b"/><stop offset="0.9219" stop-color="#a2a2a2"/><stop offset="0.9531" stop-color="#8f8f8f"/><stop offset="0.9844" stop-color="#868686"/></linearGradient><linearGradient id="fCs37" gradientUnits="userSpaceOnUse" x1="58" y1="0" x2="449" y2="0"><stop offset="0.0156" stop-color="#404040"/><stop offset="0.0469" stop-color="#414141"/><stop offset="0.0781" stop-color="#434343"/><stop offset="0.1094" stop-color="#353535"/><stop offset="0.1406" stop-color="#151515"/><stop offset="0.1719" stop-color="#1a1a1a"/><stop offset="0.2031" stop-color="#424242"/><stop offset="0.2344" stop-color="#555555"/><stop offset="0.2656" stop-color="#535353"/><stop offset="0.2969" stop-color="#454545"/><stop offset="0.3281" stop-color="#2b2b2b"/><stop offset="0.3594" stop-color="#4e4e4e"/><stop offset="0.3906" stop-color="#afafaf"/><stop offset="0.4219" stop-color="#dadada"/><stop offset="0.4531" stop-color="#cfcfcf"/><stop offset="0.4844" stop-color="#a3a3a3"/><stop offset="0.5156" stop-color="#555555"/><stop offset="0.5469" stop-color="#444444"/><stop offset="0.5781" stop-color="#717171"/><stop offset="0.6094" stop-color="#818181"/><stop offset="0.6406" stop-color="#757575"/><stop offset="0.6719" stop-color="#6a6a6a"/><stop offset="0.7031" stop-color="#606060"/><stop offset="0.7344" stop-color="#656565"/><stop offset="0.7656" stop-color="#7a7a7a"/><stop offset="0.7969" stop-color="#7d7d7d"/><stop offset="0.8281" stop-color="#6f6f6f"/><stop offset="0.8594" stop-color="#7d7d7d"/><stop offset="0.8906" stop-color="#a5a5a5"/><stop offset="0.9219" stop-color="#aaaaaa"/><stop offset="0.9531" stop-color="#8b8b8b"/><stop offset="0.9844" stop-color="#7c7c7c"/></linearGradient><linearGradient id="fCs38" gradientUnits="userSpaceOnUse" x1="58" y1="0" x2="449" y2="0"><stop offset="0.0156" stop-color="#222222"/><stop offset="0.0469" stop-color="#2b2b2b"/><stop offset="0.0781" stop-color="#3e3e3e"/><stop offset="0.1094" stop-color="#3e3e3e"/><stop offset="0.1406" stop-color="#2d2d2d"/><stop offset="0.1719" stop-color="#323232"/><stop offset="0.2031" stop-color="#4c4c4c"/><stop offset="0.2344" stop-color="#575757"/><stop offset="0.2656" stop-color="#535353"/><stop offset="0.2969" stop-color="#464646"/><stop offset="0.3281" stop-color="#2f2f2f"/><stop offset="0.3594" stop-color="#4d4d4d"/><stop offset="0.3906" stop-color="#a1a1a1"/><stop offset="0.4219" stop-color="#c4c4c4"/><stop offset="0.4531" stop-color="#b5b5b5"/><stop offset="0.4844" stop-color="#919191"/><stop offset="0.5156" stop-color="#565656"/><stop offset="0.5469" stop-color="#494949"/><stop offset="0.5781" stop-color="#6a6a6a"/><stop offset="0.6094" stop-color="#747474"/><stop offset="0.6406" stop-color="#696969"/><stop offset="0.6719" stop-color="#676767"/><stop offset="0.7031" stop-color="#717171"/><stop offset="0.7344" stop-color="#787878"/><stop offset="0.7656" stop-color="#7d7d7d"/><stop offset="0.7969" stop-color="#7b7b7b"/><stop offset="0.8281" stop-color="#737373"/><stop offset="0.8594" stop-color="#808080"/><stop offset="0.8906" stop-color="#a3a3a3"/><stop offset="0.9219" stop-color="#a7a7a7"/><stop offset="0.9531" stop-color="#8c8c8c"/><stop offset="0.9844" stop-color="#808080"/></linearGradient><linearGradient id="fCs39" gradientUnits="userSpaceOnUse" x1="58" y1="0" x2="449" y2="0"><stop offset="0.0156" stop-color="#030303"/><stop offset="0.0469" stop-color="#131313"/><stop offset="0.0781" stop-color="#373737"/><stop offset="0.1094" stop-color="#4c4c4c"/><stop offset="0.1406" stop-color="#525252"/><stop offset="0.1719" stop-color="#595959"/><stop offset="0.2031" stop-color="#606060"/><stop offset="0.2344" stop-color="#606060"/><stop offset="0.2656" stop-color="#595959"/><stop offset="0.2969" stop-color="#505050"/><stop offset="0.3281" stop-color="#444444"/><stop offset="0.3594" stop-color="#585858"/><stop offset="0.3906" stop-color="#8d8d8d"/><stop offset="0.4219" stop-color="#9e9e9e"/><stop offset="0.4531" stop-color="#8b8b8b"/><stop offset="0.4844" stop-color="#777777"/><stop offset="0.5156" stop-color="#636363"/><stop offset="0.5469" stop-color="#606060"/><stop offset="0.5781" stop-color="#6d6d6d"/><stop offset="0.6094" stop-color="#6d6d6d"/><stop offset="0.6406" stop-color="#626262"/><stop offset="0.6719" stop-color="#6e6e6e"/><stop offset="0.7031" stop-color="#909090"/><stop offset="0.7344" stop-color="#999999"/><stop offset="0.7656" stop-color="#868686"/><stop offset="0.7969" stop-color="#7d7d7d"/><stop offset="0.8281" stop-color="#7b7b7b"/><stop offset="0.8594" stop-color="#858585"/><stop offset="0.8906" stop-color="#999999"/><stop offset="0.9219" stop-color="#9d9d9d"/><stop offset="0.9531" stop-color="#909090"/><stop offset="0.9844" stop-color="#8b8b8b"/></linearGradient><linearGradient id="fCs40" gradientUnits="userSpaceOnUse" x1="58" y1="0" x2="449" y2="0"><stop offset="0.0156" stop-color="#010101"/><stop offset="0.0469" stop-color="#151515"/><stop offset="0.0781" stop-color="#3f3f3f"/><stop offset="0.1094" stop-color="#5b5b5b"/><stop offset="0.1406" stop-color="#6b6b6b"/><stop offset="0.1719" stop-color="#727272"/><stop offset="0.2031" stop-color="#717171"/><stop offset="0.2344" stop-color="#6c6c6c"/><stop offset="0.2656" stop-color="#636363"/><stop offset="0.2969" stop-color="#5e5e5e"/><stop offset="0.3281" stop-color="#5d5d5d"/><stop offset="0.3594" stop-color="#676767"/><stop offset="0.3906" stop-color="#7b7b7b"/><stop offset="0.4219" stop-color="#7b7b7b"/><stop offset="0.4531" stop-color="#666666"/><stop offset="0.4844" stop-color="#616161"/><stop offset="0.5156" stop-color="#6c6c6c"/><stop offset="0.5469" stop-color="#717171"/><stop offset="0.5781" stop-color="#717171"/><stop offset="0.6094" stop-color="#6a6a6a"/><stop offset="0.6406" stop-color="#5d5d5d"/><stop offset="0.6719" stop-color="#707070"/><stop offset="0.7031" stop-color="#a2a2a2"/><stop offset="0.7344" stop-color="#ababab"/><stop offset="0.7656" stop-color="#8b8b8b"/><stop offset="0.7969" stop-color="#7c7c7c"/><stop offset="0.8281" stop-color="#7d7d7d"/><stop offset="0.8594" stop-color="#838383"/><stop offset="0.8906" stop-color="#8c8c8c"/><stop offset="0.9219" stop-color="#919191"/><stop offset="0.9531" stop-color="#909090"/><stop offset="0.9844" stop-color="#8f8f8f"/></linearGradient><linearGradient id="fCs41" gradientUnits="userSpaceOnUse" x1="58" y1="0" x2="449" y2="0"><stop offset="0.0156" stop-color="#383838"/><stop offset="0.0469" stop-color="#464646"/><stop offset="0.0781" stop-color="#646464"/><stop offset="0.1094" stop-color="#6e6e6e"/><stop offset="0.1406" stop-color="#666666"/><stop offset="0.1719" stop-color="#6a6a6a"/><stop offset="0.2031" stop-color="#7b7b7b"/><stop offset="0.2344" stop-color="#7f7f7f"/><stop offset="0.2656" stop-color="#747474"/><stop offset="0.2969" stop-color="#737373"/><stop offset="0.3281" stop-color="#7b7b7b"/><stop offset="0.3594" stop-color="#787878"/><stop offset="0.3906" stop-color="#6b6b6b"/><stop offset="0.4219" stop-color="#5c5c5c"/><stop offset="0.4531" stop-color="#4c4c4c"/><stop offset="0.4844" stop-color="#505050"/><stop offset="0.5156" stop-color="#696969"/><stop offset="0.5469" stop-color="#757575"/><stop offset="0.5781" stop-color="#757575"/><stop offset="0.6094" stop-color="#6b6b6b"/><stop offset="0.6406" stop-color="#585858"/><stop offset="0.6719" stop-color="#666666"/><stop offset="0.7031" stop-color="#959595"/><stop offset="0.7344" stop-color="#a0a0a0"/><stop offset="0.7656" stop-color="#858585"/><stop offset="0.7969" stop-color="#757575"/><stop offset="0.8281" stop-color="#717171"/><stop offset="0.8594" stop-color="#737373"/><stop offset="0.8906" stop-color="#7b7b7b"/><stop offset="0.9219" stop-color="#818181"/><stop offset="0.9531" stop-color="#858585"/><stop offset="0.9844" stop-color="#878787"/></linearGradient><linearGradient id="fCs42" gradientUnits="userSpaceOnUse" x1="58" y1="0" x2="449" y2="0"><stop offset="0.0156" stop-color="#8c8c8c"/><stop offset="0.0469" stop-color="#909090"/><stop offset="0.0781" stop-color="#979797"/><stop offset="0.1094" stop-color="#848484"/><stop offset="0.1406" stop-color="#545454"/><stop offset="0.1719" stop-color="#545454"/><stop offset="0.2031" stop-color="#838383"/><stop offset="0.2344" stop-color="#949494"/><stop offset="0.2656" stop-color="#888888"/><stop offset="0.2969" stop-color="#8b8b8b"/><stop offset="0.3281" stop-color="#9d9d9d"/><stop offset="0.3594" stop-color="#8d8d8d"/><stop offset="0.3906" stop-color="#5c5c5c"/><stop offset="0.4219" stop-color="#3f3f3f"/><stop offset="0.4531" stop-color="#373737"/><stop offset="0.4844" stop-color="#424242"/><stop offset="0.5156" stop-color="#606060"/><stop offset="0.5469" stop-color="#737373"/><stop offset="0.5781" stop-color="#797979"/><stop offset="0.6094" stop-color="#6f6f6f"/><stop offset="0.6406" stop-color="#555555"/><stop offset="0.6719" stop-color="#595959"/><stop offset="0.7031" stop-color="#7b7b7b"/><stop offset="0.7344" stop-color="#868686"/><stop offset="0.7656" stop-color="#7a7a7a"/><stop offset="0.7969" stop-color="#6d6d6d"/><stop offset="0.8281" stop-color="#5e5e5e"/><stop offset="0.8594" stop-color="#5c5c5c"/><stop offset="0.8906" stop-color="#676767"/><stop offset="0.9219" stop-color="#6f6f6f"/><stop offset="0.9531" stop-color="#767676"/><stop offset="0.9844" stop-color="#797979"/></linearGradient><linearGradient id="fCs43" gradientUnits="userSpaceOnUse" x1="58" y1="0" x2="449" y2="0"><stop offset="0.0156" stop-color="#c7c7c7"/><stop offset="0.0469" stop-color="#c4c4c4"/><stop offset="0.0781" stop-color="#bcbcbc"/><stop offset="0.1094" stop-color="#959595"/><stop offset="0.1406" stop-color="#4f4f4f"/><stop offset="0.1719" stop-color="#4c4c4c"/><stop offset="0.2031" stop-color="#8a8a8a"/><stop offset="0.2344" stop-color="#a2a2a2"/><stop offset="0.2656" stop-color="#939393"/><stop offset="0.2969" stop-color="#979797"/><stop offset="0.3281" stop-color="#b0b0b0"/><stop offset="0.3594" stop-color="#9b9b9b"/><stop offset="0.3906" stop-color="#585858"/><stop offset="0.4219" stop-color="#343434"/><stop offset="0.4531" stop-color="#2d2d2d"/><stop offset="0.4844" stop-color="#383838"/><stop offset="0.5156" stop-color="#535353"/><stop offset="0.5469" stop-color="#6b6b6b"/><stop offset="0.5781" stop-color="#7e7e7e"/><stop offset="0.6094" stop-color="#777777"/><stop offset="0.6406" stop-color="#585858"/><stop offset="0.6719" stop-color="#535353"/><stop offset="0.7031" stop-color="#686868"/><stop offset="0.7344" stop-color="#737373"/><stop offset="0.7656" stop-color="#737373"/><stop offset="0.7969" stop-color="#696969"/><stop offset="0.8281" stop-color="#555555"/><stop offset="0.8594" stop-color="#505050"/><stop offset="0.8906" stop-color="#5b5b5b"/><stop offset="0.9219" stop-color="#646464"/><stop offset="0.9531" stop-color="#6d6d6d"/><stop offset="0.9844" stop-color="#717171"/></linearGradient><linearGradient id="fCs44" gradientUnits="userSpaceOnUse" x1="58" y1="0" x2="449" y2="0"><stop offset="0.0156" stop-color="#cfcfcf"/><stop offset="0.0469" stop-color="#cbcbcb"/><stop offset="0.0781" stop-color="#c2c2c2"/><stop offset="0.1094" stop-color="#a0a0a0"/><stop offset="0.1406" stop-color="#666666"/><stop offset="0.1719" stop-color="#626262"/><stop offset="0.2031" stop-color="#949494"/><stop offset="0.2344" stop-color="#a1a1a1"/><stop offset="0.2656" stop-color="#8a8a8a"/><stop offset="0.2969" stop-color="#8d8d8d"/><stop offset="0.3281" stop-color="#a9a9a9"/><stop offset="0.3594" stop-color="#9d9d9d"/><stop offset="0.3906" stop-color="#686868"/><stop offset="0.4219" stop-color="#454545"/><stop offset="0.4531" stop-color="#343434"/><stop offset="0.4844" stop-color="#313131"/><stop offset="0.5156" stop-color="#3d3d3d"/><stop offset="0.5469" stop-color="#575757"/><stop offset="0.5781" stop-color="#808080"/><stop offset="0.6094" stop-color="#858585"/><stop offset="0.6406" stop-color="#666666"/><stop offset="0.6719" stop-color="#5c5c5c"/><stop offset="0.7031" stop-color="#666666"/><stop offset="0.7344" stop-color="#6e6e6e"/><stop offset="0.7656" stop-color="#747474"/><stop offset="0.7969" stop-color="#6e6e6e"/><stop offset="0.8281" stop-color="#5f5f5f"/><stop offset="0.8594" stop-color="#595959"/><stop offset="0.8906" stop-color="#5e5e5e"/><stop offset="0.9219" stop-color="#656565"/><stop offset="0.9531" stop-color="#6f6f6f"/><stop offset="0.9844" stop-color="#737373"/></linearGradient><linearGradient id="fCs45" gradientUnits="userSpaceOnUse" x1="58" y1="0" x2="449" y2="0"><stop offset="0.0156" stop-color="#bebebe"/><stop offset="0.0469" stop-color="#bcbcbc"/><stop offset="0.0781" stop-color="#b8b8b8"/><stop offset="0.1094" stop-color="#a7a7a7"/><stop offset="0.1406" stop-color="#898989"/><stop offset="0.1719" stop-color="#858585"/><stop offset="0.2031" stop-color="#9d9d9d"/><stop offset="0.2344" stop-color="#989898"/><stop offset="0.2656" stop-color="#777777"/><stop offset="0.2969" stop-color="#767676"/><stop offset="0.3281" stop-color="#949494"/><stop offset="0.3594" stop-color="#999999"/><stop offset="0.3906" stop-color="#838383"/><stop offset="0.4219" stop-color="#676767"/><stop offset="0.4531" stop-color="#464646"/><stop offset="0.4844" stop-color="#2f2f2f"/><stop offset="0.5156" stop-color="#212121"/><stop offset="0.5469" stop-color="#3d3d3d"/><stop offset="0.5781" stop-color="#828282"/><stop offset="0.6094" stop-color="#979797"/><stop offset="0.6406" stop-color="#7b7b7b"/><stop offset="0.6719" stop-color="#6d6d6d"/><stop offset="0.7031" stop-color="#6c6c6c"/><stop offset="0.7344" stop-color="#707070"/><stop offset="0.7656" stop-color="#787878"/><stop offset="0.7969" stop-color="#797979"/><stop offset="0.8281" stop-color="#727272"/><stop offset="0.8594" stop-color="#6d6d6d"/><stop offset="0.8906" stop-color="#696969"/><stop offset="0.9219" stop-color="#6c6c6c"/><stop offset="0.9531" stop-color="#767676"/><stop offset="0.9844" stop-color="#7b7b7b"/></linearGradient><linearGradient id="fCs46" gradientUnits="userSpaceOnUse" x1="58" y1="0" x2="449" y2="0"><stop offset="0.0156" stop-color="#afafaf"/><stop offset="0.0469" stop-color="#b0b0b0"/><stop offset="0.0781" stop-color="#b0b0b0"/><stop offset="0.1094" stop-color="#acacac"/><stop offset="0.1406" stop-color="#a3a3a3"/><stop offset="0.1719" stop-color="#a0a0a0"/><stop offset="0.2031" stop-color="#a3a3a3"/><stop offset="0.2344" stop-color="#919191"/><stop offset="0.2656" stop-color="#696969"/><stop offset="0.2969" stop-color="#656565"/><stop offset="0.3281" stop-color="#848484"/><stop offset="0.3594" stop-color="#959595"/><stop offset="0.3906" stop-color="#969696"/><stop offset="0.4219" stop-color="#808080"/><stop offset="0.4531" stop-color="#535353"/><stop offset="0.4844" stop-color="#2d2d2d"/><stop offset="0.5156" stop-color="#0e0e0e"/><stop offset="0.5469" stop-color="#2a2a2a"/><stop offset="0.5781" stop-color="#838383"/><stop offset="0.6094" stop-color="#a3a3a3"/><stop offset="0.6406" stop-color="#8a8a8a"/><stop offset="0.6719" stop-color="#7a7a7a"/><stop offset="0.7031" stop-color="#717171"/><stop offset="0.7344" stop-color="#727272"/><stop offset="0.7656" stop-color="#7c7c7c"/><stop offset="0.7969" stop-color="#818181"/><stop offset="0.8281" stop-color="#818181"/><stop offset="0.8594" stop-color="#7c7c7c"/><stop offset="0.8906" stop-color="#727272"/><stop offset="0.9219" stop-color="#727272"/><stop offset="0.9531" stop-color="#7c7c7c"/><stop offset="0.9844" stop-color="#818181"/></linearGradient><linearGradient id="fCs47" gradientUnits="userSpaceOnUse" x1="58" y1="0" x2="449" y2="0"><stop offset="0.0156" stop-color="#aeaeae"/><stop offset="0.0469" stop-color="#aeaeae"/><stop offset="0.0781" stop-color="#b0b0b0"/><stop offset="0.1094" stop-color="#aeaeae"/><stop offset="0.1406" stop-color="#a9a9a9"/><stop offset="0.1719" stop-color="#a6a6a6"/><stop offset="0.2031" stop-color="#a5a5a5"/><stop offset="0.2344" stop-color="#909090"/><stop offset="0.2656" stop-color="#666666"/><stop offset="0.2969" stop-color="#616161"/><stop offset="0.3281" stop-color="#818181"/><stop offset="0.3594" stop-color="#949494"/><stop offset="0.3906" stop-color="#9b9b9b"/><stop offset="0.4219" stop-color="#868686"/><stop offset="0.4531" stop-color="#565656"/><stop offset="0.4844" stop-color="#2c2c2c"/><stop offset="0.5156" stop-color="#090909"/><stop offset="0.5469" stop-color="#262626"/><stop offset="0.5781" stop-color="#848484"/><stop offset="0.6094" stop-color="#a7a7a7"/><stop offset="0.6406" stop-color="#8e8e8e"/><stop offset="0.6719" stop-color="#7d7d7d"/><stop offset="0.7031" stop-color="#727272"/><stop offset="0.7344" stop-color="#727272"/><stop offset="0.7656" stop-color="#7d7d7d"/><stop offset="0.7969" stop-color="#838383"/><stop offset="0.8281" stop-color="#848484"/><stop offset="0.8594" stop-color="#7f7f7f"/><stop offset="0.8906" stop-color="#737373"/><stop offset="0.9219" stop-color="#737373"/><stop offset="0.9531" stop-color="#7d7d7d"/><stop offset="0.9844" stop-color="#828282"/></linearGradient><clipPath id="fCc"><rect x="58" y="1072" width="391" height="392"/></clipPath><filter id="fCL0" filterUnits="userSpaceOnUse" x="-2" y="1012" width="511" height="512"><feGaussianBlur stdDeviation="2.5"/></filter><linearGradient id="cbA" x1="0" y1="0" x2="0" y2="1"><stop offset="0.000" stop-color="#050000"/><stop offset="0.100" stop-color="#200800"/><stop offset="0.200" stop-color="#421400"/><stop offset="0.300" stop-color="#622400"/><stop offset="0.400" stop-color="#7d3700"/><stop offset="0.500" stop-color="#944d02"/><stop offset="0.600" stop-color="#ac6a06"/><stop offset="0.700" stop-color="#c49016"/><stop offset="0.800" stop-color="#d6b434"/><stop offset="0.900" stop-color="#e8d452"/><stop offset="1.000" stop-color="#f6f068"/></linearGradient><linearGradient id="cbB" x1="0" y1="0" x2="0" y2="1"><stop offset="0.000" stop-color="#f6f068"/><stop offset="0.100" stop-color="#e8d452"/><stop offset="0.200" stop-color="#d6b434"/><stop offset="0.300" stop-color="#c49016"/><stop offset="0.400" stop-color="#ac6a06"/><stop offset="0.500" stop-color="#944d02"/><stop offset="0.600" stop-color="#7d3700"/><stop offset="0.700" stop-color="#622400"/><stop offset="0.800" stop-color="#421400"/><stop offset="0.900" stop-color="#200800"/><stop offset="1.000" stop-color="#050000"/></linearGradient><linearGradient id="cbC" x1="0" y1="0" x2="0" y2="1"><stop offset="0.000" stop-color="#f6f068"/><stop offset="0.100" stop-color="#e8d452"/><stop offset="0.200" stop-color="#d6b434"/><stop offset="0.300" stop-color="#c49016"/><stop offset="0.400" stop-color="#ac6a06"/><stop offset="0.500" stop-color="#944d02"/><stop offset="0.600" stop-color="#7d3700"/><stop offset="0.700" stop-color="#622400"/><stop offset="0.800" stop-color="#421400"/><stop offset="0.900" stop-color="#200800"/><stop offset="1.000" stop-color="#050000"/></linearGradient><linearGradient id="hAg" x1="0" y1="0" x2="0" y2="1"><stop offset="0" stop-color="#0000ee"/><stop offset="1" stop-color="#ffffff"/></linearGradient><clipPath id="hAc"><rect x="708" y="63" width="403" height="324.5"/></clipPath><linearGradient id="hBg" x1="0" y1="0" x2="0" y2="1"><stop offset="0" stop-color="#ffff00"/><stop offset="1" stop-color="#ffffff"/></linearGradient><clipPath id="hBc"><rect x="712" y="560.5" width="403" height="326.0"/></clipPath><linearGradient id="hCg" x1="0" y1="0" x2="0" y2="1"><stop offset="0" stop-color="#ff00ff"/><stop offset="1" stop-color="#ffffff"/></linearGradient><clipPath id="hCc"><rect x="714.5" y="1060.5" width="407.5" height="328.0"/></clipPath></defs>
<rect width="1147" height="1525" fill="#fff"/>
<g clip-path="url(#fAc)"><g filter="url(#fA)"><g filter="url(#fAL0)"><rect x="18" y="17.00" width="484" height="65.85" fill="url(#fAr0)"/><rect x="18" y="82.25" width="484" height="25.85" fill="url(#fAr1)"/><rect x="18" y="107.50" width="484" height="25.85" fill="url(#fAr2)"/><rect x="18" y="132.75" width="484" height="25.85" fill="url(#fAr3)"/><rect x="18" y="158.00" width="484" height="25.85" fill="url(#fAr4)"/><rect x="18" y="183.25" width="484" height="25.85" fill="url(#fAr5)"/><rect x="18" y="208.50" width="484" height="25.85" fill="url(#fAr6)"/><rect x="18" y="233.75" width="484" height="25.85" fill="url(#fAr7)"/><rect x="18" y="259.00" width="484" height="25.85" fill="url(#fAr8)"/><rect x="18" y="284.25" width="484" height="25.85" fill="url(#fAr9)"/><rect x="18" y="309.50" width="484" height="25.85" fill="url(#fAr10)"/><rect x="18" y="334.75" width="484" height="25.85" fill="url(#fAr11)"/><rect x="18" y="360.00" width="484" height="25.85" fill="url(#fAr12)"/><rect x="18" y="385.25" width="484" height="25.85" fill="url(#fAr13)"/><rect x="18" y="410.50" width="484" height="25.85" fill="url(#fAr14)"/><rect x="18" y="435.75" width="484" height="65.85" fill="url(#fAr15)"/></g><g filter="url(#fAL1)"><ellipse cx="343" cy="120" rx="37" ry="35" fill="#3d3d3d"/><ellipse cx="341" cy="119" rx="25" ry="23" fill="#1a1a1a"/><ellipse cx="242" cy="110" rx="30" ry="26" fill="#575757"/><ellipse cx="92" cy="395" rx="30" ry="33" fill="#3d3d3d"/><ellipse cx="95" cy="318" rx="30" ry="24" fill="#4c4c4c"/><ellipse cx="408" cy="305" rx="30" ry="34" fill="#454545"/><ellipse cx="330" cy="383" rx="18" ry="17" fill="#575757"/><ellipse cx="450" cy="75" rx="16" ry="20" fill="#5c5c5c"/><ellipse cx="452" cy="195" rx="12" ry="40" fill="#575757"/><ellipse cx="378" cy="230" rx="12" ry="10" fill="#616161"/></g></g></g><g clip-path="url(#fAc)"><g filter="url(#bpAf)"><path d="M368,178 Q376,165 392,163 L412,162 Q422,164 426,172 L427,221 Q418,225 405,223 L394,219 L366,208 Z" fill="url(#bpAg)"/><path d="M396,180 Q405,172 418,170 Q425,174 426,180 L426,220 Q415,223 404,220 Q397,210 396,196 Z" fill="url(#bpAc)"/><line x1="370" y1="196" x2="425" y2="197" stroke="#e8c450" stroke-width="2.2" stroke-opacity="0.8"/><line x1="374" y1="202" x2="425" y2="203" stroke="#e2b848" stroke-width="2" stroke-opacity="0.8"/><line x1="380" y1="207" x2="425" y2="208" stroke="#f0d058" stroke-width="2" stroke-opacity="0.8"/><line x1="388" y1="212" x2="425" y2="213" stroke="#ecd060" stroke-width="1.8" stroke-opacity="0.8"/><line x1="372" y1="190" x2="425" y2="191" stroke="#dcb040" stroke-width="1.6" stroke-opacity="0.8"/><ellipse cx="384" cy="175" rx="4" ry="3" fill="#a86e08" fill-opacity="0.8"/><ellipse cx="403" cy="180" rx="4" ry="3.5" fill="#b88010" fill-opacity="0.8"/><ellipse cx="390" cy="186" rx="3.5" ry="2.5" fill="#b07808" fill-opacity="0.7"/></g></g><g clip-path="url(#fBc)"><g filter="url(#fB)"><g filter="url(#fBL0)"><rect x="23" y="517.00" width="483" height="76.10" fill="url(#fBr0)"/><rect x="23" y="592.50" width="483" height="35.60" fill="url(#fBr1)"/><rect x="23" y="627.50" width="483" height="35.60" fill="url(#fBr2)"/><rect x="23" y="662.50" width="483" height="35.60" fill="url(#fBr3)"/><rect x="23" y="697.50" width="483" height="33.60" fill="url(#fBr4)"/><rect x="23" y="730.50" width="483" height="28.60" fill="url(#fBr5)"/><rect x="23" y="758.50" width="483" height="26.10" fill="url(#fBr6)"/><rect x="23" y="784.00" width="483" height="27.10" fill="url(#fBr7)"/><rect x="23" y="810.50" width="483" height="27.10" fill="url(#fBr8)"/><rect x="23" y="837.00" width="483" height="29.10" fill="url(#fBr9)"/><rect x="23" y="865.50" width="483" height="33.60" fill="url(#fBr10)"/><rect x="23" y="898.50" width="483" height="33.60" fill="url(#fBr11)"/><rect x="23" y="931.50" width="483" height="68.10" fill="url(#fBr12)"/></g></g></g><g clip-path="url(#fBc)"><g filter="url(#bsBf)"><line x1="152" y1="813" x2="190" y2="813" stroke="#f0d050" stroke-width="2.2" stroke-opacity="0.75"/><line x1="158" y1="819" x2="192" y2="819" stroke="#e8c448" stroke-width="1.6" stroke-opacity="0.6"/><line x1="150" y1="825" x2="190" y2="825" stroke="#f0cc50" stroke-width="2.0" stroke-opacity="0.7"/><line x1="142" y1="849" x2="182" y2="849" stroke="#f0cc50" stroke-width="2.0" stroke-opacity="0.7"/><line x1="150" y1="854" x2="186" y2="854" stroke="#e0b840" stroke-width="1.5" stroke-opacity="0.5"/><line x1="70" y1="872" x2="120" y2="872" stroke="#e0c058" stroke-width="1.5" stroke-opacity="0.45"/><line x1="95" y1="785" x2="135" y2="785" stroke="#e0c058" stroke-width="1.4" stroke-opacity="0.45"/><line x1="318" y1="790" x2="345" y2="790" stroke="#d8a848" stroke-width="1.2" stroke-opacity="0.6"/></g></g><g clip-path="url(#fCc)"><g filter="url(#fC)"><g filter="url(#fCL0)"><rect x="18" y="1032.00" width="471" height="48.67" fill="url(#fCs0)"/><rect x="18" y="1080.17" width="471" height="8.67" fill="url(#fCs1)"/><rect x="18" y="1088.33" width="471" height="8.67" fill="url(#fCs2)"/><rect x="18" y="1096.50" width="471" height="8.67" fill="url(#fCs3)"/><rect x="18" y="1104.67" width="471" height="8.67" fill="url(#fCs4)"/><rect x="18" y="1112.83" width="471" height="8.67" fill="url(#fCs5)"/><rect x="18" y="1121.00" width="471" height="8.67" fill="url(#fCs6)"/><rect x="18" y="1129.17" width="471" height="8.67" fill="url(#fCs7)"/><rect x="18" y="1137.33" width="471" height="8.67" fill="url(#fCs8)"/><rect x="18" y="1145.50" width="471" height="8.67" fill="url(#fCs9)"/><rect x="18" y="1153.67" width="471" height="8.67" fill="url(#fCs10)"/><rect x="18" y="1161.83" width="471" height="8.67" fill="url(#fCs11)"/><rect x="18" y="1170.00" width="471" height="8.67" fill="url(#fCs12)"/><rect x="18" y="1178.17" width="471" height="8.67" fill="url(#fCs13)"/><rect x="18" y="1186.33" width="471" height="8.67" fill="url(#fCs14)"/><rect x="18" y="1194.50" width="471" height="8.67" fill="url(#fCs15)"/><rect x="18" y="1202.67" width="471" height="8.67" fill="url(#fCs16)"/><rect x="18" y="1210.83" width="471" height="8.67" fill="url(#fCs17)"/><rect x="18" y="1219.00" width="471" height="8.67" fill="url(#fCs18)"/><rect x="18" y="1227.17" width="471" height="8.67" fill="url(#fCs19)"/><rect x="18" y="1235.33" width="471" height="8.67" fill="url(#fCs20)"/><rect x="18" y="1243.50" width="471" height="8.67" fill="url(#fCs21)"/><rect x="18" y="1251.67" width="471" height="8.67" fill="url(#fCs22)"/><rect x="18" y="1259.83" width="471" height="8.67" fill="url(#fCs23)"/><rect x="18" y="1268.00" width="471" height="8.67" fill="url(#fCs24)"/><rect x="18" y="1276.17" width="471" height="8.67" fill="url(#fCs25)"/><rect x="18" y="1284.33" width="471" height="8.67" fill="url(#fCs26)"/><rect x="18" y="1292.50" width="471" height="8.67" fill="url(#fCs27)"/><rect x="18" y="1300.67" width="471" height="8.67" fill="url(#fCs28)"/><rect x="18" y="1308.83" width="471" height="8.67" fill="url(#fCs29)"/><rect x="18" y="1317.00" width="471" height="8.67" fill="url(#fCs30)"/><rect x="18" y="1325.17" width="471" height="8.67" fill="url(#fCs31)"/><rect x="18" y="1333.33" width="471" height="8.67" fill="url(#fCs32)"/><rect x="18" y="1341.50" width="471" height="8.67" fill="url(#fCs33)"/><rect x="18" y="1349.67" width="471" height="8.67" fill="url(#fCs34)"/><rect x="18" y="1357.83" width="471" height="8.67" fill="url(#fCs35)"/><rect x="18" y="1366.00" width="471" height="8.67" fill="url(#fCs36)"/><rect x="18" y="1374.17" width="471" height="8.67" fill="url(#fCs37)"/><rect x="18" y="1382.33" width="471" height="8.67" fill="url(#fCs38)"/><rect x="18" y="1390.50" width="471" height="8.67" fill="url(#fCs39)"/><rect x="18" y="1398.67" width="471" height="8.67" fill="url(#fCs40)"/><rect x="18" y="1406.83" width="471" height="8.67" fill="url(#fCs41)"/><rect x="18" y="1415.00" width="471" height="8.67" fill="url(#fCs42)"/><rect x="18" y="1423.17" width="471" height="8.67" fill="url(#fCs43)"/><rect x="18" y="1431.33" width="471" height="8.67" fill="url(#fCs44)"/><rect x="18" y="1439.50" width="471" height="8.67" fill="url(#fCs45)"/><rect x="18" y="1447.67" width="471" height="8.67" fill="url(#fCs46)"/><rect x="18" y="1455.83" width="471" height="48.67" fill="url(#fCs47)"/></g></g></g><rect x="58" y="57" width="404" height="404" fill="none" stroke="#222" stroke-width="1.3"/><line x1="58" y1="42.5" x2="58" y2="57" stroke="#222" stroke-width="1.3"/><text transform="translate(58.50 33.70) scale(1 1.1)" x="0" y="0" font-size="23.5" text-anchor="start" fill="#222">0 µm</text><line x1="139.5" y1="42.5" x2="139.5" y2="57" stroke="#222" stroke-width="1.3"/><text transform="translate(140.00 33.70) scale(1 1.1)" x="0" y="0" font-size="23.5" text-anchor="start" fill="#222">1</text><line x1="221.0" y1="42.5" x2="221.0" y2="57" stroke="#222" stroke-width="1.3"/><text transform="translate(221.50 33.70) scale(1 1.1)" x="0" y="0" font-size="23.5" text-anchor="start" fill="#222">2</text><line x1="302.5" y1="42.5" x2="302.5" y2="57" stroke="#222" stroke-width="1.3"/><text transform="translate(303.00 33.70) scale(1 1.1)" x="0" y="0" font-size="23.5" text-anchor="start" fill="#222">3</text><line x1="384.0" y1="42.5" x2="384.0" y2="57" stroke="#222" stroke-width="1.3"/><text transform="translate(384.50 33.70) scale(1 1.1)" x="0" y="0" font-size="23.5" text-anchor="start" fill="#222">4</text><line x1="462" y1="42.5" x2="462" y2="57" stroke="#222" stroke-width="1.3"/><line x1="43.5" y1="57" x2="58" y2="57" stroke="#222" stroke-width="1.3"/><text transform="translate(42.00 80.50) scale(1 1.1)" x="0" y="0" font-size="23.5" text-anchor="end" fill="#222">0</text><line x1="43.5" y1="138.5" x2="58" y2="138.5" stroke="#222" stroke-width="1.3"/><text transform="translate(42.00 162.00) scale(1 1.1)" x="0" y="0" font-size="23.5" text-anchor="end" fill="#222">1</text><line x1="43.5" y1="220.0" x2="58" y2="220.0" stroke="#222" stroke-width="1.3"/><text transform="translate(42.00 243.50) scale(1 1.1)" x="0" y="0" font-size="23.5" text-anchor="end" fill="#222">2</text><line x1="43.5" y1="301.5" x2="58" y2="301.5" stroke="#222" stroke-width="1.3"/><text transform="translate(42.00 325.00) scale(1 1.1)" x="0" y="0" font-size="23.5" text-anchor="end" fill="#222">3</text><line x1="43.5" y1="383.0" x2="58" y2="383.0" stroke="#222" stroke-width="1.3"/><text transform="translate(42.00 406.50) scale(1 1.1)" x="0" y="0" font-size="23.5" text-anchor="end" fill="#222">4</text><line x1="43.5" y1="461" x2="58" y2="461" stroke="#222" stroke-width="1.3"/><rect x="63" y="557" width="403" height="402" fill="none" stroke="#222" stroke-width="1.3"/><line x1="63" y1="542.5" x2="63" y2="557" stroke="#222" stroke-width="1.3"/><text transform="translate(63.50 533.70) scale(1 1.1)" x="0" y="0" font-size="23.5" text-anchor="start" fill="#222">0 µm</text><line x1="130.0" y1="542.5" x2="130.0" y2="557" stroke="#222" stroke-width="1.3"/><text transform="translate(130.50 533.70) scale(1 1.1)" x="0" y="0" font-size="23.5" text-anchor="start" fill="#222">5</text><line x1="197.0" y1="542.5" x2="197.0" y2="557" stroke="#222" stroke-width="1.3"/><text transform="translate(197.50 533.70) scale(1 1.1)" x="0" y="0" font-size="23.5" text-anchor="start" fill="#222">10</text><line x1="264.0" y1="542.5" x2="264.0" y2="557" stroke="#222" stroke-width="1.3"/><text transform="translate(264.50 533.70) scale(1 1.1)" x="0" y="0" font-size="23.5" text-anchor="start" fill="#222">15</text><line x1="331.0" y1="542.5" x2="331.0" y2="557" stroke="#222" stroke-width="1.3"/><text transform="translate(331.50 533.70) scale(1 1.1)" x="0" y="0" font-size="23.5" text-anchor="start" fill="#222">20</text><line x1="398.0" y1="542.5" x2="398.0" y2="557" stroke="#222" stroke-width="1.3"/><text transform="translate(398.50 533.70) scale(1 1.1)" x="0" y="0" font-size="23.5" text-anchor="start" fill="#222">25</text><line x1="466" y1="542.5" x2="466" y2="557" stroke="#222" stroke-width="1.3"/><line x1="48.5" y1="557" x2="63" y2="557" stroke="#222" stroke-width="1.3"/><text transform="translate(47.00 580.50) scale(1 1.1)" x="0" y="0" font-size="23.5" text-anchor="end" fill="#222">0</text><line x1="48.5" y1="624.0" x2="63" y2="624.0" stroke="#222" stroke-width="1.3"/><text transform="translate(47.00 647.50) scale(1 1.1)" x="0" y="0" font-size="23.5" text-anchor="end" fill="#222">5</text><line x1="48.5" y1="691.0" x2="63" y2="691.0" stroke="#222" stroke-width="1.3"/><text transform="translate(47.00 714.50) scale(1 1.1)" x="0" y="0" font-size="23.5" text-anchor="end" fill="#222">10</text><line x1="48.5" y1="758.0" x2="63" y2="758.0" stroke="#222" stroke-width="1.3"/><text transform="translate(47.00 781.50) scale(1 1.1)" x="0" y="0" font-size="23.5" text-anchor="end" fill="#222">15</text><line x1="48.5" y1="825.0" x2="63" y2="825.0" stroke="#222" stroke-width="1.3"/><text transform="translate(47.00 848.50) scale(1 1.1)" x="0" y="0" font-size="23.5" text-anchor="end" fill="#222">20</text><line x1="48.5" y1="892.0" x2="63" y2="892.0" stroke="#222" stroke-width="1.3"/><text transform="translate(47.00 915.50) scale(1 1.1)" x="0" y="0" font-size="23.5" text-anchor="end" fill="#222">25</text><line x1="48.5" y1="959" x2="63" y2="959" stroke="#222" stroke-width="1.3"/><rect x="58" y="1072" width="391" height="392" fill="none" stroke="#222" stroke-width="1.3"/><line x1="58" y1="1057.5" x2="58" y2="1072" stroke="#222" stroke-width="1.3"/><text transform="translate(58.50 1048.70) scale(1 1.1)" x="0" y="0" font-size="24.8" text-anchor="start" fill="#222">0 µm</text><line x1="123.4" y1="1057.5" x2="123.4" y2="1072" stroke="#222" stroke-width="1.3"/><text transform="translate(123.90 1048.70) scale(1 1.1)" x="0" y="0" font-size="24.8" text-anchor="start" fill="#222">5</text><line x1="188.8" y1="1057.5" x2="188.8" y2="1072" stroke="#222" stroke-width="1.3"/><text transform="translate(189.30 1048.70) scale(1 1.1)" x="0" y="0" font-size="24.8" text-anchor="start" fill="#222">10</text><line x1="254.20000000000002" y1="1057.5" x2="254.20000000000002" y2="1072" stroke="#222" stroke-width="1.3"/><text transform="translate(254.70 1048.70) scale(1 1.1)" x="0" y="0" font-size="24.8" text-anchor="start" fill="#222">15</text><line x1="319.6" y1="1057.5" x2="319.6" y2="1072" stroke="#222" stroke-width="1.3"/><text transform="translate(320.10 1048.70) scale(1 1.1)" x="0" y="0" font-size="24.8" text-anchor="start" fill="#222">20</text><line x1="385.0" y1="1057.5" x2="385.0" y2="1072" stroke="#222" stroke-width="1.3"/><text transform="translate(385.50 1048.70) scale(1 1.1)" x="0" y="0" font-size="24.8" text-anchor="start" fill="#222">25</text><line x1="449" y1="1057.5" x2="449" y2="1072" stroke="#222" stroke-width="1.3"/><line x1="43.5" y1="1072" x2="58" y2="1072" stroke="#222" stroke-width="1.3"/><text transform="translate(42.00 1095.50) scale(1 1.1)" x="0" y="0" font-size="24.8" text-anchor="end" fill="#222">0</text><line x1="43.5" y1="1137.4" x2="58" y2="1137.4" stroke="#222" stroke-width="1.3"/><text transform="translate(42.00 1160.90) scale(1 1.1)" x="0" y="0" font-size="24.8" text-anchor="end" fill="#222">5</text><line x1="43.5" y1="1202.8" x2="58" y2="1202.8" stroke="#222" stroke-width="1.3"/><text transform="translate(42.00 1226.30) scale(1 1.1)" x="0" y="0" font-size="24.8" text-anchor="end" fill="#222">10</text><line x1="43.5" y1="1268.2" x2="58" y2="1268.2" stroke="#222" stroke-width="1.3"/><text transform="translate(42.00 1291.70) scale(1 1.1)" x="0" y="0" font-size="24.8" text-anchor="end" fill="#222">15</text><line x1="43.5" y1="1333.6" x2="58" y2="1333.6" stroke="#222" stroke-width="1.3"/><text transform="translate(42.00 1357.10) scale(1 1.1)" x="0" y="0" font-size="24.8" text-anchor="end" fill="#222">20</text><line x1="43.5" y1="1399.0" x2="58" y2="1399.0" stroke="#222" stroke-width="1.3"/><text transform="translate(42.00 1422.50) scale(1 1.1)" x="0" y="0" font-size="24.8" text-anchor="end" fill="#222">25</text><line x1="43.5" y1="1464" x2="58" y2="1464" stroke="#222" stroke-width="1.3"/><rect x="481.5" y="57.5" width="30" height="403.5" fill="url(#cbA)" stroke="#222" stroke-width="1.2"/><line x1="511.5" y1="57.5" x2="526.0" y2="57.5" stroke="#222" stroke-width="1.3"/><line x1="511.5" y1="125" x2="526.0" y2="125" stroke="#222" stroke-width="1.3"/><line x1="511.5" y1="182" x2="526.0" y2="182" stroke="#222" stroke-width="1.3"/><line x1="511.5" y1="239" x2="526.0" y2="239" stroke="#222" stroke-width="1.3"/><line x1="511.5" y1="296" x2="526.0" y2="296" stroke="#222" stroke-width="1.3"/><line x1="511.5" y1="352" x2="526.0" y2="352" stroke="#222" stroke-width="1.3"/><line x1="511.5" y1="409" x2="526.0" y2="409" stroke="#222" stroke-width="1.3"/><line x1="511.5" y1="461" x2="526.0" y2="461" stroke="#222" stroke-width="1.3"/><text transform="translate(567.00 80.00) scale(1 1.1)" x="0" y="0" font-size="23.5" text-anchor="end" fill="#222">64</text><text transform="translate(572.50 80.00) scale(1 1.1)" x="0" y="0" font-size="22.794999999999998" text-anchor="start" fill="#222">nm</text><text transform="translate(567.00 146.00) scale(1 1.1)" x="0" y="0" font-size="23.5" text-anchor="end" fill="#222">40</text><text transform="translate(567.00 204.00) scale(1 1.1)" x="0" y="0" font-size="23.5" text-anchor="end" fill="#222">20</text><text transform="translate(567.00 260.00) scale(1 1.1)" x="0" y="0" font-size="23.5" text-anchor="end" fill="#222">0</text><text transform="translate(567.00 317.00) scale(1 1.1)" x="0" y="0" font-size="23.5" text-anchor="end" fill="#222">−20</text><text transform="translate(567.00 374.00) scale(1 1.1)" x="0" y="0" font-size="23.5" text-anchor="end" fill="#222">−40</text><text transform="translate(567.00 455.00) scale(1 1.1)" x="0" y="0" font-size="23.5" text-anchor="end" fill="#222">−78</text><rect x="484.5" y="557.5" width="30" height="401.5" fill="url(#cbB)" stroke="#222" stroke-width="1.2"/><line x1="514.5" y1="557.5" x2="529.0" y2="557.5" stroke="#222" stroke-width="1.3"/><line x1="514.5" y1="611" x2="529.0" y2="611" stroke="#222" stroke-width="1.3"/><line x1="514.5" y1="665" x2="529.0" y2="665" stroke="#222" stroke-width="1.3"/><line x1="514.5" y1="718.4" x2="529.0" y2="718.4" stroke="#222" stroke-width="1.3"/><line x1="514.5" y1="771.7" x2="529.0" y2="771.7" stroke="#222" stroke-width="1.3"/><line x1="514.5" y1="825.7" x2="529.0" y2="825.7" stroke="#222" stroke-width="1.3"/><line x1="514.5" y1="879.7" x2="529.0" y2="879.7" stroke="#222" stroke-width="1.3"/><line x1="514.5" y1="959" x2="529.0" y2="959" stroke="#222" stroke-width="1.3"/><text transform="translate(567.00 581.00) scale(1 1.1)" x="0" y="0" font-size="23.5" text-anchor="end" fill="#222">60</text><text transform="translate(572.50 581.00) scale(1 1.1)" x="0" y="0" font-size="22.794999999999998" text-anchor="start" fill="#222">nm</text><text transform="translate(567.00 633.50) scale(1 1.1)" x="0" y="0" font-size="23.5" text-anchor="end" fill="#222">40</text><text transform="translate(567.00 687.50) scale(1 1.1)" x="0" y="0" font-size="23.5" text-anchor="end" fill="#222">20</text><text transform="translate(567.00 741.00) scale(1 1.1)" x="0" y="0" font-size="23.5" text-anchor="end" fill="#222">0</text><text transform="translate(567.00 795.00) scale(1 1.1)" x="0" y="0" font-size="23.5" text-anchor="end" fill="#222">−20</text><text transform="translate(567.00 849.00) scale(1 1.1)" x="0" y="0" font-size="23.5" text-anchor="end" fill="#222">−40</text><text transform="translate(567.00 903.00) scale(1 1.1)" x="0" y="0" font-size="23.5" text-anchor="end" fill="#222">−60</text><text transform="translate(567.00 953.00) scale(1 1.1)" x="0" y="0" font-size="23.5" text-anchor="end" fill="#222">−90</text><rect x="469.5" y="1072.5" width="30.5" height="391.5" fill="url(#cbC)" stroke="#222" stroke-width="1.2"/><line x1="500.0" y1="1072.5" x2="514.5" y2="1072.5" stroke="#222" stroke-width="1.3"/><line x1="500.0" y1="1164.7" x2="514.5" y2="1164.7" stroke="#222" stroke-width="1.3"/><line x1="500.0" y1="1256.7" x2="514.5" y2="1256.7" stroke="#222" stroke-width="1.3"/><line x1="500.0" y1="1348.3" x2="514.5" y2="1348.3" stroke="#222" stroke-width="1.3"/><line x1="500.0" y1="1464" x2="514.5" y2="1464" stroke="#222" stroke-width="1.3"/><text transform="translate(567.00 1096.00) scale(1 1.1)" x="0" y="0" font-size="24.8" text-anchor="end" fill="#222">100</text><text transform="translate(572.50 1096.00) scale(1 1.1)" x="0" y="0" font-size="24.056" text-anchor="start" fill="#222">nm</text><text transform="translate(567.00 1188.00) scale(1 1.1)" x="0" y="0" font-size="24.8" text-anchor="end" fill="#222">50</text><text transform="translate(567.00 1279.50) scale(1 1.1)" x="0" y="0" font-size="24.8" text-anchor="end" fill="#222">0</text><text transform="translate(567.00 1370.50) scale(1 1.1)" x="0" y="0" font-size="24.8" text-anchor="end" fill="#222">−50</text><text transform="translate(567.00 1457.00) scale(1 1.1)" x="0" y="0" font-size="24.8" text-anchor="end" fill="#222">−113</text><g clip-path="url(#hAc)"><rect x="735.14" y="386.72" width="16.83" height="0.78" fill="url(#hAg)" stroke="#333" stroke-width="1"/><rect x="758.85" y="383.87" width="16.83" height="3.63" fill="url(#hAg)" stroke="#333" stroke-width="1"/><rect x="782.56" y="381.27" width="16.83" height="6.23" fill="url(#hAg)" stroke="#333" stroke-width="1"/><rect x="806.26" y="376.60" width="16.83" height="10.90" fill="url(#hAg)" stroke="#333" stroke-width="1"/><rect x="829.97" y="346.48" width="16.83" height="41.02" fill="url(#hAg)" stroke="#333" stroke-width="1"/><rect x="853.67" y="288.85" width="16.83" height="98.65" fill="url(#hAg)" stroke="#333" stroke-width="1"/><rect x="877.38" y="193.32" width="16.83" height="194.18" fill="url(#hAg)" stroke="#333" stroke-width="1"/><rect x="901.08" y="99.55" width="16.83" height="287.95" fill="url(#hAg)" stroke="#333" stroke-width="1"/><rect x="924.79" y="96.33" width="16.83" height="291.17" fill="url(#hAg)" stroke="#333" stroke-width="1"/><rect x="948.50" y="189.68" width="16.83" height="197.82" fill="url(#hAg)" stroke="#333" stroke-width="1"/><rect x="972.20" y="288.85" width="16.83" height="98.65" fill="url(#hAg)" stroke="#333" stroke-width="1"/><rect x="995.91" y="345.44" width="16.83" height="42.06" fill="url(#hAg)" stroke="#333" stroke-width="1"/><rect x="1019.61" y="369.59" width="16.83" height="17.91" fill="url(#hAg)" stroke="#333" stroke-width="1"/><rect x="1043.32" y="382.83" width="16.83" height="4.67" fill="url(#hAg)" stroke="#333" stroke-width="1"/><rect x="1067.03" y="386.72" width="16.83" height="0.78" fill="url(#hAg)" stroke="#333" stroke-width="1"/><polyline points="719.85,383.87 721.75,383.87 723.65,383.86 725.54,383.86 727.44,383.86 729.34,383.86 731.23,383.86 733.13,383.86 735.02,383.86 736.92,383.86 738.82,383.86 740.71,383.86 742.61,383.86 744.51,383.86 746.40,383.86 748.30,383.85 750.20,383.85 752.09,383.85 753.99,383.84 755.89,383.83 757.78,383.83 759.68,383.82 761.58,383.81 763.47,383.80 765.37,383.78 767.26,383.76 769.16,383.74 771.06,383.71 772.95,383.68 774.85,383.64 776.75,383.60 778.64,383.54 780.54,383.48 782.44,383.40 784.33,383.32 786.23,383.21 788.13,383.09 790.02,382.95 791.92,382.78 793.82,382.59 795.71,382.37 797.61,382.11 799.50,381.81 801.40,381.47 803.30,381.08 805.19,380.64 807.09,380.13 808.99,379.55 810.88,378.90 812.78,378.15 814.68,377.32 816.57,376.38 818.47,375.32 820.37,374.14 822.26,372.82 824.16,371.35 826.06,369.73 827.95,367.93 829.85,365.94 831.74,363.75 833.64,361.36 835.54,358.74 837.43,355.88 839.33,352.76 841.23,349.39 843.12,345.74 845.02,341.81 846.92,337.59 848.81,333.06 850.71,328.22 852.61,323.07 854.50,317.60 856.40,311.82 858.30,305.72 860.19,299.30 862.09,292.58 863.98,285.56 865.88,278.26 867.78,270.69 869.67,262.86 871.57,254.81 873.47,246.55 875.36,238.11 877.26,229.53 879.16,220.84 881.05,212.07 882.95,203.27 884.85,194.47 886.74,185.72 888.64,177.06 890.54,168.54 892.43,160.22 894.33,152.13 896.22,144.33 898.12,136.85 900.02,129.76 901.91,123.10 903.81,116.90 905.71,111.21 907.60,106.08 909.50,101.52 911.40,97.58 913.29,94.29 915.19,91.66 917.09,89.72 918.98,88.48 920.88,87.94 922.78,88.12 924.67,89.01 926.57,90.60 928.46,92.89 930.36,95.86 932.26,99.47 934.15,103.72 936.05,108.57 937.95,113.99 939.84,119.94 941.74,126.37 943.64,133.26 945.53,140.55 947.43,148.19 949.33,156.14 951.22,164.35 953.12,172.78 955.02,181.37 956.91,190.08 958.81,198.86 960.70,207.67 962.60,216.46 964.50,225.20 966.39,233.84 968.29,242.35 970.19,250.70 972.08,258.86 973.98,266.80 975.88,274.51 977.77,281.95 979.67,289.11 981.57,295.98 983.46,302.55 985.36,308.81 987.26,314.75 989.15,320.38 991.05,325.69 992.94,330.68 994.84,335.36 996.74,339.74 998.63,343.81 1000.53,347.60 1002.43,351.11 1004.32,354.35 1006.22,357.34 1008.12,360.08 1010.01,362.58 1011.91,364.87 1013.81,366.96 1015.70,368.85 1017.60,370.56 1019.50,372.11 1021.39,373.50 1023.29,374.74 1025.18,375.86 1027.08,376.86 1028.98,377.75 1030.87,378.54 1032.77,379.23 1034.67,379.85 1036.56,380.39 1038.46,380.87 1040.36,381.29 1042.25,381.65 1044.15,381.97 1046.05,382.24 1047.94,382.48 1049.84,382.69 1051.74,382.87 1053.63,383.02 1055.53,383.15 1057.42,383.27 1059.32,383.36 1061.22,383.44 1063.11,383.51 1065.01,383.57 1066.91,383.62 1068.80,383.66 1070.70,383.70 1072.60,383.73 1074.49,383.75 1076.39,383.77 1078.29,383.79 1080.18,383.80 1082.08,383.81 1083.98,383.82 1085.87,383.83 1087.77,383.84 1089.66,383.84 1091.56,383.85 1093.46,383.85 1095.35,383.85 1097.25,383.86 1099.15,383.86" fill="none" stroke="#e8343c" stroke-width="1.3"/></g><rect x="708" y="63" width="403" height="324.5" fill="none" stroke="#555" stroke-width="1.3"/><line x1="701" y1="387.50" x2="708" y2="387.50" stroke="#555" stroke-width="1.3"/><text x="696.80" y="394.00" font-size="17" text-anchor="end" fill="#333" >0.00</text><line x1="701" y1="322.60" x2="708" y2="322.60" stroke="#555" stroke-width="1.3"/><text x="696.80" y="329.10" font-size="17" text-anchor="end" fill="#333">1.25x10<tspan font-size="9.5" dy="-8.5">4</tspan></text><line x1="701" y1="257.70" x2="708" y2="257.70" stroke="#555" stroke-width="1.3"/><text x="696.80" y="264.20" font-size="17" text-anchor="end" fill="#333">2.50x10<tspan font-size="9.5" dy="-8.5">4</tspan></text><line x1="701" y1="192.80" x2="708" y2="192.80" stroke="#555" stroke-width="1.3"/><text x="696.80" y="199.30" font-size="17" text-anchor="end" fill="#333">3.75x10<tspan font-size="9.5" dy="-8.5">4</tspan></text><line x1="701" y1="127.90" x2="708" y2="127.90" stroke="#555" stroke-width="1.3"/><text x="696.80" y="134.40" font-size="17" text-anchor="end" fill="#333">5.00x10<tspan font-size="9.5" dy="-8.5">4</tspan></text><line x1="701" y1="63.00" x2="708" y2="63.00" stroke="#555" stroke-width="1.3"/><text x="696.80" y="69.50" font-size="17" text-anchor="end" fill="#333">6.25x10<tspan font-size="9.5" dy="-8.5">4</tspan></text><line x1="704" y1="355.05" x2="708" y2="355.05" stroke="#555" stroke-width="1.3"/><line x1="704" y1="290.15" x2="708" y2="290.15" stroke="#555" stroke-width="1.3"/><line x1="704" y1="225.25" x2="708" y2="225.25" stroke="#555" stroke-width="1.3"/><line x1="704" y1="160.35" x2="708" y2="160.35" stroke="#555" stroke-width="1.3"/><line x1="704" y1="95.45" x2="708" y2="95.45" stroke="#555" stroke-width="1.3"/><line x1="731.71" y1="387.5" x2="731.71" y2="394.0" stroke="#555" stroke-width="1.3"/><text x="731.71" y="411.7" font-size="17" text-anchor="middle" fill="#333" >-80</text><line x1="779.12" y1="387.5" x2="779.12" y2="394.0" stroke="#555" stroke-width="1.3"/><text x="779.12" y="411.7" font-size="17" text-anchor="middle" fill="#333" >-60</text><line x1="826.53" y1="387.5" x2="826.53" y2="394.0" stroke="#555" stroke-width="1.3"/><text x="826.53" y="411.7" font-size="17" text-anchor="middle" fill="#333" >-40</text><line x1="873.94" y1="387.5" x2="873.94" y2="394.0" stroke="#555" stroke-width="1.3"/><text x="873.94" y="411.7" font-size="17" text-anchor="middle" fill="#333" >-20</text><line x1="921.35" y1="387.5" x2="921.35" y2="394.0" stroke="#555" stroke-width="1.3"/><text x="921.35" y="411.7" font-size="17" text-anchor="middle" fill="#333" >0</text><line x1="968.76" y1="387.5" x2="968.76" y2="394.0" stroke="#555" stroke-width="1.3"/><text x="968.76" y="411.7" font-size="17" text-anchor="middle" fill="#333" >20</text><line x1="1016.18" y1="387.5" x2="1016.18" y2="394.0" stroke="#555" stroke-width="1.3"/><text x="1016.18" y="411.7" font-size="17" text-anchor="middle" fill="#333" >40</text><line x1="1063.59" y1="387.5" x2="1063.59" y2="394.0" stroke="#555" stroke-width="1.3"/><text x="1063.59" y="411.7" font-size="17" text-anchor="middle" fill="#333" >60</text><line x1="1111.00" y1="387.5" x2="1111.00" y2="394.0" stroke="#555" stroke-width="1.3"/><text x="1111.00" y="411.7" font-size="17" text-anchor="middle" fill="#333" >80</text><line x1="708.00" y1="387.5" x2="708.00" y2="391.5" stroke="#555" stroke-width="1.3"/><line x1="755.41" y1="387.5" x2="755.41" y2="391.5" stroke="#555" stroke-width="1.3"/><line x1="802.82" y1="387.5" x2="802.82" y2="391.5" stroke="#555" stroke-width="1.3"/><line x1="850.24" y1="387.5" x2="850.24" y2="391.5" stroke="#555" stroke-width="1.3"/><line x1="897.65" y1="387.5" x2="897.65" y2="391.5" stroke="#555" stroke-width="1.3"/><line x1="945.06" y1="387.5" x2="945.06" y2="391.5" stroke="#555" stroke-width="1.3"/><line x1="992.47" y1="387.5" x2="992.47" y2="391.5" stroke="#555" stroke-width="1.3"/><line x1="1039.88" y1="387.5" x2="1039.88" y2="391.5" stroke="#555" stroke-width="1.3"/><line x1="1087.29" y1="387.5" x2="1087.29" y2="391.5" stroke="#555" stroke-width="1.3"/><text x="854" y="435.0" font-size="17.0" text-anchor="start" fill="#333" >Surface Height (nm)</text><text x="622" y="209.4" font-size="17.5" fill="#333" text-anchor="middle" transform="rotate(-90 622 209.4)">Counts</text><g clip-path="url(#hBc)"><rect x="737.86" y="883.15" width="15.45" height="3.35" fill="url(#hBg)" stroke="#333" stroke-width="1"/><rect x="760.25" y="869.76" width="15.45" height="16.74" fill="url(#hBg)" stroke="#333" stroke-width="1"/><rect x="782.64" y="857.94" width="15.45" height="28.56" fill="url(#hBg)" stroke="#333" stroke-width="1"/><rect x="805.03" y="821.10" width="15.45" height="65.40" fill="url(#hBg)" stroke="#333" stroke-width="1"/><rect x="827.41" y="789.09" width="15.45" height="97.41" fill="url(#hBg)" stroke="#333" stroke-width="1"/><rect x="849.80" y="777.67" width="15.45" height="108.83" fill="url(#hBg)" stroke="#333" stroke-width="1"/><rect x="872.19" y="741.92" width="15.45" height="144.58" fill="url(#hBg)" stroke="#333" stroke-width="1"/><rect x="894.58" y="701.34" width="15.45" height="185.16" fill="url(#hBg)" stroke="#333" stroke-width="1"/><rect x="916.97" y="658.30" width="15.45" height="228.20" fill="url(#hBg)" stroke="#333" stroke-width="1"/><rect x="939.36" y="612.70" width="15.45" height="273.80" fill="url(#hBg)" stroke="#333" stroke-width="1"/><rect x="961.75" y="585.12" width="15.45" height="301.38" fill="url(#hBg)" stroke="#333" stroke-width="1"/><rect x="984.14" y="586.11" width="15.45" height="300.39" fill="url(#hBg)" stroke="#333" stroke-width="1"/><rect x="1006.53" y="697.40" width="15.45" height="189.10" fill="url(#hBg)" stroke="#333" stroke-width="1"/><rect x="1028.91" y="860.89" width="15.45" height="25.61" fill="url(#hBg)" stroke="#333" stroke-width="1"/><rect x="1051.30" y="883.64" width="15.45" height="2.86" fill="url(#hBg)" stroke="#333" stroke-width="1"/><polyline points="745.14,874.76 746.93,874.71 748.72,874.65 750.52,874.59 752.31,874.52 754.10,874.45 755.90,874.36 757.69,874.27 759.48,874.17 761.28,874.06 763.07,873.94 764.86,873.80 766.66,873.65 768.45,873.49 770.24,873.31 772.04,873.12 773.83,872.91 775.62,872.68 777.42,872.42 779.21,872.15 781.00,871.85 782.80,871.53 784.59,871.17 786.38,870.79 788.18,870.38 789.97,869.93 791.76,869.44 793.56,868.92 795.35,868.35 797.14,867.74 798.94,867.09 800.73,866.39 802.52,865.63 804.32,864.82 806.11,863.95 807.90,863.02 809.70,862.03 811.49,860.97 813.28,859.84 815.08,858.64 816.87,857.35 818.66,855.99 820.46,854.55 822.25,853.02 824.04,851.39 825.84,849.68 827.63,847.87 829.42,845.95 831.22,843.94 833.01,841.82 834.80,839.58 836.60,837.24 838.39,834.79 840.18,832.21 841.98,829.52 843.77,826.71 845.56,823.77 847.36,820.71 849.15,817.52 850.94,814.21 852.74,810.77 854.53,807.21 856.32,803.52 858.12,799.70 859.91,795.76 861.70,791.69 863.50,787.50 865.29,783.20 867.08,778.77 868.88,774.24 870.67,769.59 872.46,764.84 874.26,759.99 876.05,755.04 877.84,750.01 879.64,744.89 881.43,739.70 883.22,734.44 885.02,729.12 886.81,723.75 888.60,718.33 890.40,712.89 892.19,707.42 893.98,701.93 895.78,696.44 897.57,690.96 899.36,685.50 901.16,680.07 902.95,674.68 904.74,669.35 906.54,664.09 908.33,658.90 910.12,653.80 911.92,648.81 913.71,643.93 915.50,639.18 917.30,634.57 919.09,630.11 920.88,625.82 922.68,621.70 924.47,617.77 926.26,614.03 928.06,610.50 929.85,607.19 931.64,604.10 933.44,601.25 935.23,598.64 937.02,596.28 938.82,594.18 940.61,592.34 942.40,590.77 944.20,589.48 945.99,588.46 947.78,587.72 949.58,587.27 951.37,587.09 953.16,587.21 954.96,587.60 956.75,588.28 958.54,589.24 960.34,590.48 962.13,591.99 963.92,593.77 965.72,595.81 967.51,598.12 969.30,600.67 971.10,603.47 972.89,606.51 974.68,609.78 976.48,613.26 978.27,616.96 980.06,620.85 981.86,624.93 983.65,629.19 985.44,633.61 987.24,638.19 989.03,642.91 990.82,647.76 992.62,652.73 994.41,657.81 996.20,662.98 998.00,668.23 999.79,673.55 1001.58,678.92 1003.38,684.35 1005.17,689.80 1006.96,695.28 1008.76,700.77 1010.55,706.25 1012.34,711.73 1014.14,717.18 1015.93,722.60 1017.72,727.98 1019.52,733.32 1021.31,738.59 1023.10,743.80 1024.90,748.93 1026.69,753.98 1028.48,758.95 1030.28,763.82 1032.07,768.59 1033.86,773.26 1035.66,777.82 1037.45,782.27 1039.24,786.60 1041.04,790.81 1042.83,794.91 1044.63,798.87 1046.42,802.72 1048.21,806.44 1050.01,810.03 1051.80,813.49 1053.59,816.83 1055.39,820.04 1057.18,823.13 1058.97,826.09 1060.77,828.93 1062.56,831.65 1064.35,834.25 1066.15,836.73 1067.94,839.10 1069.73,841.35 1071.53,843.50 1073.32,845.53 1075.11,847.47 1076.91,849.30 1078.70,851.04 1080.49,852.68 1082.29,854.23 1084.08,855.69 1085.87,857.07 1087.67,858.37 1089.46,859.59 1091.25,860.74 1093.05,861.81 1094.84,862.82 1096.63,863.76 1098.43,864.64 1100.22,865.46 1102.01,866.23 1103.81,866.94" fill="none" stroke="#e8343c" stroke-width="1.3"/></g><rect x="712" y="560.5" width="403" height="326.0" fill="none" stroke="#555" stroke-width="1.3"/><line x1="705" y1="886.50" x2="712" y2="886.50" stroke="#555" stroke-width="1.3"/><text x="700.80" y="893.27" font-size="17.7" text-anchor="end" fill="#333" >0.0</text><line x1="705" y1="837.26" x2="712" y2="837.26" stroke="#555" stroke-width="1.3"/><text x="700.80" y="844.02" font-size="17.7" text-anchor="end" fill="#333">5.0x10<tspan font-size="9.9" dy="-8.8">4</tspan></text><line x1="705" y1="788.01" x2="712" y2="788.01" stroke="#555" stroke-width="1.3"/><text x="700.80" y="794.78" font-size="17.7" text-anchor="end" fill="#333">1.0x10<tspan font-size="9.9" dy="-8.8">5</tspan></text><line x1="705" y1="738.77" x2="712" y2="738.77" stroke="#555" stroke-width="1.3"/><text x="700.80" y="745.53" font-size="17.7" text-anchor="end" fill="#333">1.5x10<tspan font-size="9.9" dy="-8.8">5</tspan></text><line x1="705" y1="689.52" x2="712" y2="689.52" stroke="#555" stroke-width="1.3"/><text x="700.80" y="696.29" font-size="17.7" text-anchor="end" fill="#333">2.0x10<tspan font-size="9.9" dy="-8.8">5</tspan></text><line x1="705" y1="640.28" x2="712" y2="640.28" stroke="#555" stroke-width="1.3"/><text x="700.80" y="647.04" font-size="17.7" text-anchor="end" fill="#333">2.5x10<tspan font-size="9.9" dy="-8.8">5</tspan></text><line x1="705" y1="591.03" x2="712" y2="591.03" stroke="#555" stroke-width="1.3"/><text x="700.80" y="597.80" font-size="17.7" text-anchor="end" fill="#333">3.0x10<tspan font-size="9.9" dy="-8.8">5</tspan></text><line x1="708" y1="861.88" x2="712" y2="861.88" stroke="#555" stroke-width="1.3"/><line x1="708" y1="812.63" x2="712" y2="812.63" stroke="#555" stroke-width="1.3"/><line x1="708" y1="763.39" x2="712" y2="763.39" stroke="#555" stroke-width="1.3"/><line x1="708" y1="714.14" x2="712" y2="714.14" stroke="#555" stroke-width="1.3"/><line x1="708" y1="664.90" x2="712" y2="664.90" stroke="#555" stroke-width="1.3"/><line x1="708" y1="615.65" x2="712" y2="615.65" stroke="#555" stroke-width="1.3"/><line x1="708" y1="566.41" x2="712" y2="566.41" stroke="#555" stroke-width="1.3"/><line x1="712.00" y1="886.5" x2="712.00" y2="893.0" stroke="#555" stroke-width="1.3"/><text x="712.00" y="912.2" font-size="17.7" text-anchor="middle" fill="#333" >-100</text><line x1="756.78" y1="886.5" x2="756.78" y2="893.0" stroke="#555" stroke-width="1.3"/><text x="756.78" y="912.2" font-size="17.7" text-anchor="middle" fill="#333" >-80</text><line x1="801.56" y1="886.5" x2="801.56" y2="893.0" stroke="#555" stroke-width="1.3"/><text x="801.56" y="912.2" font-size="17.7" text-anchor="middle" fill="#333" >-60</text><line x1="846.33" y1="886.5" x2="846.33" y2="893.0" stroke="#555" stroke-width="1.3"/><text x="846.33" y="912.2" font-size="17.7" text-anchor="middle" fill="#333" >-40</text><line x1="891.11" y1="886.5" x2="891.11" y2="893.0" stroke="#555" stroke-width="1.3"/><text x="891.11" y="912.2" font-size="17.7" text-anchor="middle" fill="#333" >-20</text><line x1="935.89" y1="886.5" x2="935.89" y2="893.0" stroke="#555" stroke-width="1.3"/><text x="935.89" y="912.2" font-size="17.7" text-anchor="middle" fill="#333" >0</text><line x1="980.67" y1="886.5" x2="980.67" y2="893.0" stroke="#555" stroke-width="1.3"/><text x="980.67" y="912.2" font-size="17.7" text-anchor="middle" fill="#333" >20</text><line x1="1025.44" y1="886.5" x2="1025.44" y2="893.0" stroke="#555" stroke-width="1.3"/><text x="1025.44" y="912.2" font-size="17.7" text-anchor="middle" fill="#333" >40</text><line x1="1070.22" y1="886.5" x2="1070.22" y2="893.0" stroke="#555" stroke-width="1.3"/><text x="1070.22" y="912.2" font-size="17.7" text-anchor="middle" fill="#333" >60</text><line x1="1115.00" y1="886.5" x2="1115.00" y2="893.0" stroke="#555" stroke-width="1.3"/><text x="1115.00" y="912.2" font-size="17.7" text-anchor="middle" fill="#333" >80</text><line x1="734.39" y1="886.5" x2="734.39" y2="890.5" stroke="#555" stroke-width="1.3"/><line x1="779.17" y1="886.5" x2="779.17" y2="890.5" stroke="#555" stroke-width="1.3"/><line x1="823.94" y1="886.5" x2="823.94" y2="890.5" stroke="#555" stroke-width="1.3"/><line x1="868.72" y1="886.5" x2="868.72" y2="890.5" stroke="#555" stroke-width="1.3"/><line x1="913.50" y1="886.5" x2="913.50" y2="890.5" stroke="#555" stroke-width="1.3"/><line x1="958.28" y1="886.5" x2="958.28" y2="890.5" stroke="#555" stroke-width="1.3"/><line x1="1003.06" y1="886.5" x2="1003.06" y2="890.5" stroke="#555" stroke-width="1.3"/><line x1="1047.83" y1="886.5" x2="1047.83" y2="890.5" stroke="#555" stroke-width="1.3"/><line x1="1092.61" y1="886.5" x2="1092.61" y2="890.5" stroke="#555" stroke-width="1.3"/><text x="838.5" y="937.0" font-size="18.0" text-anchor="start" fill="#333" >Surface Height (nm)</text><text x="631" y="704.5" font-size="17.8" fill="#333" text-anchor="middle" transform="rotate(-90 631 704.5)">Counts</text><g clip-path="url(#hCc)"><rect x="705.54" y="1379.03" width="13.34" height="9.47" fill="url(#hCg)" stroke="#333" stroke-width="1"/><rect x="724.60" y="1374.16" width="13.34" height="14.34" fill="url(#hCg)" stroke="#333" stroke-width="1"/><rect x="743.66" y="1366.99" width="13.34" height="21.51" fill="url(#hCg)" stroke="#333" stroke-width="1"/><rect x="762.72" y="1360.85" width="13.34" height="27.65" fill="url(#hCg)" stroke="#333" stroke-width="1"/><rect x="781.78" y="1348.04" width="13.34" height="40.46" fill="url(#hCg)" stroke="#333" stroke-width="1"/><rect x="800.84" y="1330.38" width="13.34" height="58.12" fill="url(#hCg)" stroke="#333" stroke-width="1"/><rect x="819.90" y="1316.04" width="13.34" height="72.46" fill="url(#hCg)" stroke="#333" stroke-width="1"/><rect x="838.96" y="1275.07" width="13.34" height="113.43" fill="url(#hCg)" stroke="#333" stroke-width="1"/><rect x="858.02" y="1225.40" width="13.34" height="163.10" fill="url(#hCg)" stroke="#333" stroke-width="1"/><rect x="877.08" y="1201.58" width="13.34" height="186.92" fill="url(#hCg)" stroke="#333" stroke-width="1"/><rect x="896.14" y="1118.88" width="13.34" height="269.62" fill="url(#hCg)" stroke="#333" stroke-width="1"/><rect x="915.20" y="1084.57" width="13.34" height="303.93" fill="url(#hCg)" stroke="#333" stroke-width="1"/><rect x="934.26" y="1119.90" width="13.34" height="268.60" fill="url(#hCg)" stroke="#333" stroke-width="1"/><rect x="953.32" y="1127.07" width="13.34" height="261.43" fill="url(#hCg)" stroke="#333" stroke-width="1"/><rect x="972.38" y="1212.08" width="13.34" height="176.42" fill="url(#hCg)" stroke="#333" stroke-width="1"/><rect x="991.44" y="1239.73" width="13.34" height="148.77" fill="url(#hCg)" stroke="#333" stroke-width="1"/><rect x="1010.50" y="1276.35" width="13.34" height="112.15" fill="url(#hCg)" stroke="#333" stroke-width="1"/><rect x="1029.56" y="1323.72" width="13.34" height="64.78" fill="url(#hCg)" stroke="#333" stroke-width="1"/><rect x="1048.62" y="1334.22" width="13.34" height="54.28" fill="url(#hCg)" stroke="#333" stroke-width="1"/><rect x="1067.68" y="1349.32" width="13.34" height="39.18" fill="url(#hCg)" stroke="#333" stroke-width="1"/><rect x="1086.74" y="1349.32" width="13.34" height="39.18" fill="url(#hCg)" stroke="#333" stroke-width="1"/><rect x="1105.80" y="1360.85" width="13.34" height="27.65" fill="url(#hCg)" stroke="#333" stroke-width="1"/><polyline points="714.50,1376.70 716.54,1376.61 718.58,1376.51 720.61,1376.40 722.65,1376.27 724.69,1376.14 726.73,1375.99 728.76,1375.82 730.80,1375.64 732.84,1375.44 734.88,1375.23 736.91,1374.99 738.95,1374.73 740.99,1374.45 743.02,1374.14 745.06,1373.80 747.10,1373.44 749.14,1373.04 751.17,1372.61 753.21,1372.15 755.25,1371.64 757.29,1371.09 759.33,1370.51 761.36,1369.87 763.40,1369.18 765.44,1368.45 767.48,1367.66 769.51,1366.80 771.55,1365.89 773.59,1364.92 775.62,1363.87 777.66,1362.76 779.70,1361.57 781.74,1360.30 783.77,1358.95 785.81,1357.52 787.85,1355.99 789.89,1354.38 791.92,1352.67 793.96,1350.86 796.00,1348.95 798.04,1346.93 800.08,1344.81 802.11,1342.58 804.15,1340.23 806.19,1337.77 808.23,1335.18 810.26,1332.48 812.30,1329.66 814.34,1326.71 816.38,1323.63 818.41,1320.43 820.45,1317.10 822.49,1313.65 824.52,1310.07 826.56,1306.36 828.60,1302.52 830.64,1298.57 832.67,1294.49 834.71,1290.29 836.75,1285.98 838.79,1281.55 840.83,1277.01 842.86,1272.37 844.90,1267.63 846.94,1262.80 848.98,1257.88 851.01,1252.88 853.05,1247.81 855.09,1242.68 857.12,1237.48 859.16,1232.24 861.20,1226.96 863.24,1221.66 865.27,1216.33 867.31,1211.00 869.35,1205.67 871.39,1200.36 873.42,1195.07 875.46,1189.83 877.50,1184.63 879.54,1179.50 881.58,1174.45 883.61,1169.48 885.65,1164.62 887.69,1159.87 889.72,1155.25 891.76,1150.77 893.80,1146.45 895.84,1142.28 897.88,1138.30 899.91,1134.50 901.95,1130.90 903.99,1127.50 906.02,1124.33 908.06,1121.39 910.10,1118.68 912.14,1116.22 914.17,1114.01 916.21,1112.06 918.25,1110.38 920.29,1108.97 922.33,1107.83 924.36,1106.98 926.40,1106.41 928.44,1106.12 930.48,1106.11 932.51,1106.39 934.55,1106.95 936.59,1107.80 938.62,1108.92 940.66,1110.32 942.70,1111.99 944.74,1113.93 946.77,1116.13 948.81,1118.58 950.85,1121.28 952.89,1124.21 954.92,1127.38 956.96,1130.76 959.00,1134.35 961.04,1138.15 963.08,1142.13 965.11,1146.28 967.15,1150.61 969.19,1155.08 971.23,1159.69 973.26,1164.44 975.30,1169.30 977.34,1174.26 979.38,1179.31 981.41,1184.43 983.45,1189.63 985.49,1194.87 987.53,1200.15 989.56,1205.47 991.60,1210.79 993.64,1216.13 995.67,1221.45 997.71,1226.76 999.75,1232.04 1001.79,1237.28 1003.83,1242.48 1005.86,1247.62 1007.90,1252.69 1009.94,1257.69 1011.97,1262.61 1014.01,1267.45 1016.05,1272.19 1018.09,1276.84 1020.12,1281.38 1022.16,1285.81 1024.20,1290.13 1026.24,1294.33 1028.28,1298.41 1030.31,1302.37 1032.35,1306.21 1034.39,1309.93 1036.42,1313.51 1038.46,1316.97 1040.50,1320.30 1042.54,1323.51 1044.58,1326.59 1046.61,1329.54 1048.65,1332.37 1050.69,1335.08 1052.72,1337.67 1054.76,1340.14 1056.80,1342.49 1058.84,1344.73 1060.88,1346.86 1062.91,1348.87 1064.95,1350.79 1066.99,1352.60 1069.03,1354.31 1071.06,1355.93 1073.10,1357.46 1075.14,1358.90 1077.17,1360.25 1079.21,1361.52 1081.25,1362.71 1083.29,1363.83 1085.33,1364.88 1087.36,1365.86 1089.40,1366.77 1091.44,1367.62 1093.47,1368.42 1095.51,1369.16 1097.55,1369.84 1099.59,1370.48 1101.62,1371.07 1103.66,1371.62 1105.70,1372.13 1107.74,1372.59 1109.78,1373.03 1111.81,1373.42 1113.85,1373.79 1115.89,1374.13 1117.92,1374.44 1119.96,1374.72 1122.00,1374.98" fill="none" stroke="#e8343c" stroke-width="1.3"/></g><rect x="714.5" y="1060.5" width="407.5" height="328.0" fill="none" stroke="#555" stroke-width="1.3"/><line x1="707.5" y1="1388.50" x2="714.5" y2="1388.50" stroke="#555" stroke-width="1.3"/><text x="703.30" y="1395.38" font-size="18" text-anchor="end" fill="#333" >0.0</text><line x1="707.5" y1="1337.29" x2="714.5" y2="1337.29" stroke="#555" stroke-width="1.3"/><text x="703.30" y="1344.17" font-size="18" text-anchor="end" fill="#333">2.0x10<tspan font-size="10.1" dy="-9.0">5</tspan></text><line x1="707.5" y1="1286.08" x2="714.5" y2="1286.08" stroke="#555" stroke-width="1.3"/><text x="703.30" y="1292.96" font-size="18" text-anchor="end" fill="#333">4.0x10<tspan font-size="10.1" dy="-9.0">5</tspan></text><line x1="707.5" y1="1234.87" x2="714.5" y2="1234.87" stroke="#555" stroke-width="1.3"/><text x="703.30" y="1241.75" font-size="18" text-anchor="end" fill="#333">6.0x10<tspan font-size="10.1" dy="-9.0">5</tspan></text><line x1="707.5" y1="1183.66" x2="714.5" y2="1183.66" stroke="#555" stroke-width="1.3"/><text x="703.30" y="1190.54" font-size="18" text-anchor="end" fill="#333">8.0x10<tspan font-size="10.1" dy="-9.0">5</tspan></text><line x1="707.5" y1="1132.45" x2="714.5" y2="1132.45" stroke="#555" stroke-width="1.3"/><text x="703.30" y="1139.33" font-size="18" text-anchor="end" fill="#333">1.0x10<tspan font-size="10.1" dy="-9.0">6</tspan></text><line x1="707.5" y1="1081.24" x2="714.5" y2="1081.24" stroke="#555" stroke-width="1.3"/><text x="703.30" y="1088.12" font-size="18" text-anchor="end" fill="#333">1.2x10<tspan font-size="10.1" dy="-9.0">6</tspan></text><line x1="710.5" y1="1362.90" x2="714.5" y2="1362.90" stroke="#555" stroke-width="1.3"/><line x1="710.5" y1="1311.69" x2="714.5" y2="1311.69" stroke="#555" stroke-width="1.3"/><line x1="710.5" y1="1260.48" x2="714.5" y2="1260.48" stroke="#555" stroke-width="1.3"/><line x1="710.5" y1="1209.27" x2="714.5" y2="1209.27" stroke="#555" stroke-width="1.3"/><line x1="710.5" y1="1158.06" x2="714.5" y2="1158.06" stroke="#555" stroke-width="1.3"/><line x1="710.5" y1="1106.85" x2="714.5" y2="1106.85" stroke="#555" stroke-width="1.3"/><line x1="740.80" y1="1388.5" x2="740.80" y2="1395.0" stroke="#555" stroke-width="1.3"/><text x="740.80" y="1415.0" font-size="18" text-anchor="middle" fill="#333" >-100</text><line x1="778.92" y1="1388.5" x2="778.92" y2="1395.0" stroke="#555" stroke-width="1.3"/><text x="778.92" y="1415.0" font-size="18" text-anchor="middle" fill="#333" >-80</text><line x1="817.04" y1="1388.5" x2="817.04" y2="1395.0" stroke="#555" stroke-width="1.3"/><text x="817.04" y="1415.0" font-size="18" text-anchor="middle" fill="#333" >-60</text><line x1="855.16" y1="1388.5" x2="855.16" y2="1395.0" stroke="#555" stroke-width="1.3"/><text x="855.16" y="1415.0" font-size="18" text-anchor="middle" fill="#333" >-40</text><line x1="893.28" y1="1388.5" x2="893.28" y2="1395.0" stroke="#555" stroke-width="1.3"/><text x="893.28" y="1415.0" font-size="18" text-anchor="middle" fill="#333" >-20</text><line x1="931.40" y1="1388.5" x2="931.40" y2="1395.0" stroke="#555" stroke-width="1.3"/><text x="931.40" y="1415.0" font-size="18" text-anchor="middle" fill="#333" >0</text><line x1="969.52" y1="1388.5" x2="969.52" y2="1395.0" stroke="#555" stroke-width="1.3"/><text x="969.52" y="1415.0" font-size="18" text-anchor="middle" fill="#333" >20</text><line x1="1007.64" y1="1388.5" x2="1007.64" y2="1395.0" stroke="#555" stroke-width="1.3"/><text x="1007.64" y="1415.0" font-size="18" text-anchor="middle" fill="#333" >40</text><line x1="1045.76" y1="1388.5" x2="1045.76" y2="1395.0" stroke="#555" stroke-width="1.3"/><text x="1045.76" y="1415.0" font-size="18" text-anchor="middle" fill="#333" >60</text><line x1="1083.88" y1="1388.5" x2="1083.88" y2="1395.0" stroke="#555" stroke-width="1.3"/><text x="1083.88" y="1415.0" font-size="18" text-anchor="middle" fill="#333" >80</text><line x1="1122.00" y1="1388.5" x2="1122.00" y2="1395.0" stroke="#555" stroke-width="1.3"/><text x="1122.00" y="1415.0" font-size="18" text-anchor="middle" fill="#333" >100</text><line x1="721.74" y1="1388.5" x2="721.74" y2="1392.5" stroke="#555" stroke-width="1.3"/><line x1="759.86" y1="1388.5" x2="759.86" y2="1392.5" stroke="#555" stroke-width="1.3"/><line x1="797.98" y1="1388.5" x2="797.98" y2="1392.5" stroke="#555" stroke-width="1.3"/><line x1="836.10" y1="1388.5" x2="836.10" y2="1392.5" stroke="#555" stroke-width="1.3"/><line x1="874.22" y1="1388.5" x2="874.22" y2="1392.5" stroke="#555" stroke-width="1.3"/><line x1="912.34" y1="1388.5" x2="912.34" y2="1392.5" stroke="#555" stroke-width="1.3"/><line x1="950.46" y1="1388.5" x2="950.46" y2="1392.5" stroke="#555" stroke-width="1.3"/><line x1="988.58" y1="1388.5" x2="988.58" y2="1392.5" stroke="#555" stroke-width="1.3"/><line x1="1026.70" y1="1388.5" x2="1026.70" y2="1392.5" stroke="#555" stroke-width="1.3"/><line x1="1064.82" y1="1388.5" x2="1064.82" y2="1392.5" stroke="#555" stroke-width="1.3"/><line x1="1102.94" y1="1388.5" x2="1102.94" y2="1392.5" stroke="#555" stroke-width="1.3"/><text x="857" y="1435.5" font-size="17.9" text-anchor="start" fill="#333" >Surface Height (nm)</text><text x="636.5" y="1214" font-size="19" fill="#333" text-anchor="middle" transform="rotate(-90 636.5 1214)">Counts</text><text x="612" y="498" font-size="35" text-anchor="middle" fill="#111">(<tspan font-weight="bold">a</tspan>)</text><text x="611.5" y="997.5" font-size="35" text-anchor="middle" fill="#111">(<tspan font-weight="bold">b</tspan>)</text><text x="611.2" y="1501.5" font-size="35" text-anchor="middle" fill="#111">(<tspan font-weight="bold">c</tspan>)</text>
</svg></body></html>
